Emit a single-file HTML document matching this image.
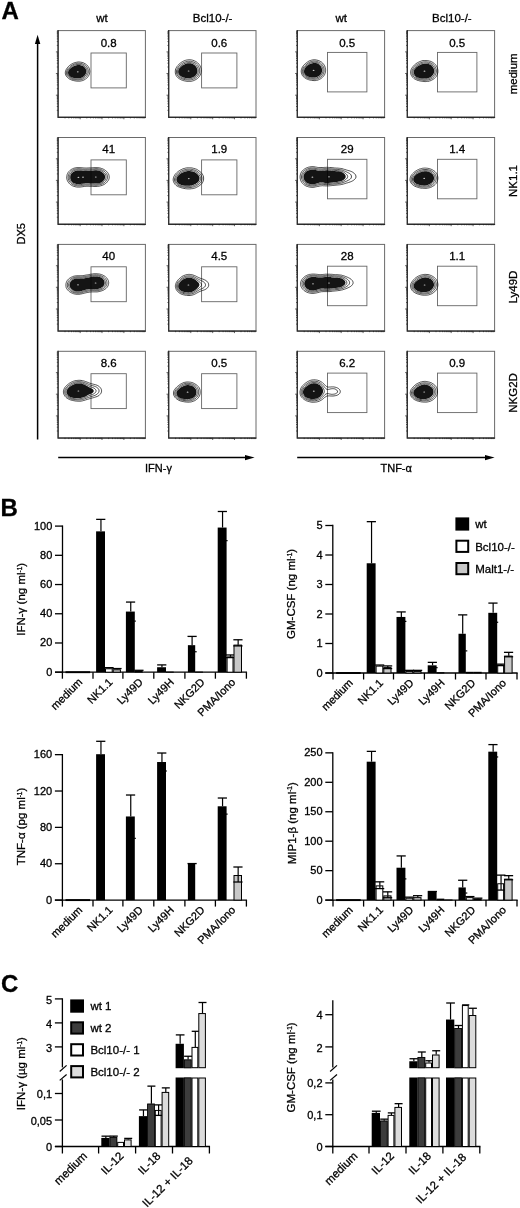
<!DOCTYPE html>
<html>
<head>
<meta charset="utf-8">
<title>Figure</title>
<style>
html,body{margin:0;padding:0;background:#fff;}
body{width:520px;height:1208px;overflow:hidden;font-family:"Liberation Sans",sans-serif;}
svg{display:block;position:absolute;left:0;top:0;filter:grayscale(1);}
svg text{font-family:"Liberation Sans",sans-serif;fill:#000;stroke:#000;stroke-width:0.3px;}
</style>
</head>
<body>
<svg width="520" height="1208" viewBox="0 0 520 1208">
<rect x="0" y="0" width="520" height="1208" fill="#fff"/>
<g id="panelA">
<text x="1.60" y="19.30" font-size="24" text-anchor="start" font-weight="bold">A</text>
<text x="102.05" y="21.70" font-size="11.5" text-anchor="middle" font-weight="normal">wt</text>
<text x="212.65" y="21.70" font-size="11.5" text-anchor="middle" font-weight="normal">Bcl10-/-</text>
<text x="341.25" y="21.70" font-size="11.5" text-anchor="middle" font-weight="normal">wt</text>
<text x="451.85" y="21.70" font-size="11.5" text-anchor="middle" font-weight="normal">Bcl10-/-</text>
<text x="24.80" y="233.70" font-size="11" text-anchor="middle" font-weight="normal" transform="rotate(-90 24.80 233.70)">DX5</text>
<line x1="37.60" y1="439.60" x2="37.60" y2="43.00" stroke="#000" stroke-width="1.5"/>
<path d="M37.6 34.8 L40.3 43.9 L34.9 43.9 Z" fill="#000"/>
<line x1="58.20" y1="457.60" x2="246.00" y2="457.60" stroke="#000" stroke-width="1.5"/>
<path d="M254.6 457.6 L245 454.9 L245 460.3 Z" fill="#000"/>
<line x1="297.20" y1="457.60" x2="486.00" y2="457.60" stroke="#000" stroke-width="1.5"/>
<path d="M494.6 457.6 L485 454.9 L485 460.3 Z" fill="#000"/>
<text x="158.50" y="472.00" font-size="11" text-anchor="middle" font-weight="normal">IFN-γ</text>
<text x="396.20" y="471.90" font-size="11" text-anchor="middle" font-weight="normal">TNF-α</text>
<text x="517.30" y="73.80" font-size="11.5" text-anchor="middle" font-weight="normal" transform="rotate(-90 517.30 73.80)">medium</text>
<text x="517.30" y="181.00" font-size="11.5" text-anchor="middle" font-weight="normal" transform="rotate(-90 517.30 181.00)">NK1.1</text>
<text x="517.30" y="287.00" font-size="11.5" text-anchor="middle" font-weight="normal" transform="rotate(-90 517.30 287.00)">Ly49D</text>
<text x="517.30" y="392.90" font-size="11.5" text-anchor="middle" font-weight="normal" transform="rotate(-90 517.30 392.90)">NKG2D</text>
<rect x="58.10" y="30.60" width="87.30" height="86.50" fill="none" stroke="#6a6a6a" stroke-width="1.0"/>
<path d="M58.10 30.10V117.40H145.90" fill="none" stroke="#2c2c2c" stroke-width="1.25"/>
<path d="M56.8 110.3H58.1M65.0 117.1V118.4M56.8 106.5H58.1M68.8 117.1V118.4M56.8 103.8H58.1M71.5 117.1V118.4M56.8 101.7H58.1M73.7 117.1V118.4M56.8 100.0H58.1M75.4 117.1V118.4M56.8 98.5H58.1M76.8 117.1V118.4M56.8 97.3H58.1M78.1 117.1V118.4M56.8 96.2H58.1M79.2 117.1V118.4M55.9 95.2H58.1M80.2 117.1V119.3M56.8 88.7H58.1M86.8 117.1V118.4M56.8 84.9H58.1M90.6 117.1V118.4M56.8 82.2H58.1M93.4 117.1V118.4M56.8 80.1H58.1M95.5 117.1V118.4M56.8 78.3H58.1M97.2 117.1V118.4M56.8 76.9H58.1M98.7 117.1V118.4M56.8 75.6H58.1M99.9 117.1V118.4M56.8 74.5H58.1M101.1 117.1V118.4M55.9 73.5H58.1M102.0 117.1V119.3M56.8 67.0H58.1M108.6 117.1V118.4M56.8 63.2H58.1M112.5 117.1V118.4M56.8 60.5H58.1M115.2 117.1V118.4M56.8 58.4H58.1M117.3 117.1V118.4M56.8 56.7H58.1M119.0 117.1V118.4M56.8 55.3H58.1M120.5 117.1V118.4M56.8 54.0H58.1M121.8 117.1V118.4M56.8 52.9H58.1M122.9 117.1V118.4M55.9 51.9H58.1M123.9 117.1V119.3M56.8 45.4H58.1M130.4 117.1V118.4M56.8 41.6H58.1M134.3 117.1V118.4M56.8 38.9H58.1M137.0 117.1V118.4M56.8 36.8H58.1M139.1 117.1V118.4M56.8 35.1H58.1M140.9 117.1V118.4M56.8 33.6H58.1M142.3 117.1V118.4M56.8 32.4H58.1M143.6 117.1V118.4M56.8 31.3H58.1M144.7 117.1V118.4" stroke="#222" stroke-width="0.7" fill="none"/>
<rect x="91.00" y="53.00" width="35.30" height="34.90" fill="none" stroke="#666" stroke-width="0.9"/>
<text x="108.65" y="46.50" font-size="11.5" text-anchor="middle" font-weight="normal">0.8</text>
<rect x="168.70" y="30.60" width="87.30" height="86.50" fill="none" stroke="#6a6a6a" stroke-width="1.0"/>
<path d="M168.70 30.10V117.40H256.50" fill="none" stroke="#2c2c2c" stroke-width="1.25"/>
<path d="M167.4 110.3H168.7M175.6 117.1V118.4M167.4 106.5H168.7M179.4 117.1V118.4M167.4 103.8H168.7M182.1 117.1V118.4M167.4 101.7H168.7M184.3 117.1V118.4M167.4 100.0H168.7M186.0 117.1V118.4M167.4 98.5H168.7M187.4 117.1V118.4M167.4 97.3H168.7M188.7 117.1V118.4M167.4 96.2H168.7M189.8 117.1V118.4M166.5 95.2H168.7M190.8 117.1V119.3M167.4 88.7H168.7M197.4 117.1V118.4M167.4 84.9H168.7M201.2 117.1V118.4M167.4 82.2H168.7M204.0 117.1V118.4M167.4 80.1H168.7M206.1 117.1V118.4M167.4 78.3H168.7M207.8 117.1V118.4M167.4 76.9H168.7M209.3 117.1V118.4M167.4 75.6H168.7M210.5 117.1V118.4M167.4 74.5H168.7M211.7 117.1V118.4M166.5 73.5H168.7M212.7 117.1V119.3M167.4 67.0H168.7M219.2 117.1V118.4M167.4 63.2H168.7M223.1 117.1V118.4M167.4 60.5H168.7M225.8 117.1V118.4M167.4 58.4H168.7M227.9 117.1V118.4M167.4 56.7H168.7M229.6 117.1V118.4M167.4 55.3H168.7M231.1 117.1V118.4M167.4 54.0H168.7M232.4 117.1V118.4M167.4 52.9H168.7M233.5 117.1V118.4M166.5 51.9H168.7M234.5 117.1V119.3M167.4 45.4H168.7M241.0 117.1V118.4M167.4 41.6H168.7M244.9 117.1V118.4M167.4 38.9H168.7M247.6 117.1V118.4M167.4 36.8H168.7M249.7 117.1V118.4M167.4 35.1H168.7M251.5 117.1V118.4M167.4 33.6H168.7M252.9 117.1V118.4M167.4 32.4H168.7M254.2 117.1V118.4M167.4 31.3H168.7M255.3 117.1V118.4" stroke="#222" stroke-width="0.7" fill="none"/>
<rect x="201.60" y="53.00" width="35.30" height="34.90" fill="none" stroke="#666" stroke-width="0.9"/>
<text x="219.25" y="46.50" font-size="11.5" text-anchor="middle" font-weight="normal">0.6</text>
<rect x="297.30" y="30.60" width="87.30" height="86.50" fill="none" stroke="#6a6a6a" stroke-width="1.0"/>
<path d="M297.30 30.10V117.40H385.10" fill="none" stroke="#2c2c2c" stroke-width="1.25"/>
<path d="M296.0 110.3H297.3M304.2 117.1V118.4M296.0 106.5H297.3M308.0 117.1V118.4M296.0 103.8H297.3M310.7 117.1V118.4M296.0 101.7H297.3M312.9 117.1V118.4M296.0 100.0H297.3M314.6 117.1V118.4M296.0 98.5H297.3M316.0 117.1V118.4M296.0 97.3H297.3M317.3 117.1V118.4M296.0 96.2H297.3M318.4 117.1V118.4M295.1 95.2H297.3M319.4 117.1V119.3M296.0 88.7H297.3M326.0 117.1V118.4M296.0 84.9H297.3M329.8 117.1V118.4M296.0 82.2H297.3M332.6 117.1V118.4M296.0 80.1H297.3M334.7 117.1V118.4M296.0 78.3H297.3M336.4 117.1V118.4M296.0 76.9H297.3M337.9 117.1V118.4M296.0 75.6H297.3M339.1 117.1V118.4M296.0 74.5H297.3M340.3 117.1V118.4M295.1 73.5H297.3M341.2 117.1V119.3M296.0 67.0H297.3M347.8 117.1V118.4M296.0 63.2H297.3M351.7 117.1V118.4M296.0 60.5H297.3M354.4 117.1V118.4M296.0 58.4H297.3M356.5 117.1V118.4M296.0 56.7H297.3M358.2 117.1V118.4M296.0 55.3H297.3M359.7 117.1V118.4M296.0 54.0H297.3M361.0 117.1V118.4M296.0 52.9H297.3M362.1 117.1V118.4M295.1 51.9H297.3M363.1 117.1V119.3M296.0 45.4H297.3M369.6 117.1V118.4M296.0 41.6H297.3M373.5 117.1V118.4M296.0 38.9H297.3M376.2 117.1V118.4M296.0 36.8H297.3M378.3 117.1V118.4M296.0 35.1H297.3M380.1 117.1V118.4M296.0 33.6H297.3M381.5 117.1V118.4M296.0 32.4H297.3M382.8 117.1V118.4M296.0 31.3H297.3M383.9 117.1V118.4" stroke="#222" stroke-width="0.7" fill="none"/>
<rect x="327.50" y="52.40" width="39.40" height="39.50" fill="none" stroke="#666" stroke-width="0.9"/>
<text x="347.20" y="46.50" font-size="11.5" text-anchor="middle" font-weight="normal">0.5</text>
<rect x="407.30" y="30.60" width="87.30" height="86.50" fill="none" stroke="#6a6a6a" stroke-width="1.0"/>
<path d="M407.30 30.10V117.40H495.10" fill="none" stroke="#2c2c2c" stroke-width="1.25"/>
<path d="M406.0 110.3H407.3M414.2 117.1V118.4M406.0 106.5H407.3M418.0 117.1V118.4M406.0 103.8H407.3M420.7 117.1V118.4M406.0 101.7H407.3M422.9 117.1V118.4M406.0 100.0H407.3M424.6 117.1V118.4M406.0 98.5H407.3M426.0 117.1V118.4M406.0 97.3H407.3M427.3 117.1V118.4M406.0 96.2H407.3M428.4 117.1V118.4M405.1 95.2H407.3M429.4 117.1V119.3M406.0 88.7H407.3M436.0 117.1V118.4M406.0 84.9H407.3M439.8 117.1V118.4M406.0 82.2H407.3M442.6 117.1V118.4M406.0 80.1H407.3M444.7 117.1V118.4M406.0 78.3H407.3M446.4 117.1V118.4M406.0 76.9H407.3M447.9 117.1V118.4M406.0 75.6H407.3M449.1 117.1V118.4M406.0 74.5H407.3M450.3 117.1V118.4M405.1 73.5H407.3M451.2 117.1V119.3M406.0 67.0H407.3M457.8 117.1V118.4M406.0 63.2H407.3M461.7 117.1V118.4M406.0 60.5H407.3M464.4 117.1V118.4M406.0 58.4H407.3M466.5 117.1V118.4M406.0 56.7H407.3M468.2 117.1V118.4M406.0 55.3H407.3M469.7 117.1V118.4M406.0 54.0H407.3M471.0 117.1V118.4M406.0 52.9H407.3M472.1 117.1V118.4M405.1 51.9H407.3M473.1 117.1V119.3M406.0 45.4H407.3M479.6 117.1V118.4M406.0 41.6H407.3M483.5 117.1V118.4M406.0 38.9H407.3M486.2 117.1V118.4M406.0 36.8H407.3M488.3 117.1V118.4M406.0 35.1H407.3M490.1 117.1V118.4M406.0 33.6H407.3M491.5 117.1V118.4M406.0 32.4H407.3M492.8 117.1V118.4M406.0 31.3H407.3M493.9 117.1V118.4" stroke="#222" stroke-width="0.7" fill="none"/>
<rect x="437.50" y="52.40" width="39.40" height="39.50" fill="none" stroke="#666" stroke-width="0.9"/>
<text x="457.20" y="46.50" font-size="11.5" text-anchor="middle" font-weight="normal">0.5</text>
<rect x="58.10" y="137.50" width="87.30" height="86.50" fill="none" stroke="#6a6a6a" stroke-width="1.0"/>
<path d="M58.10 137.00V224.30H145.90" fill="none" stroke="#2c2c2c" stroke-width="1.25"/>
<path d="M56.8 217.2H58.1M65.0 224.0V225.3M56.8 213.4H58.1M68.8 224.0V225.3M56.8 210.7H58.1M71.5 224.0V225.3M56.8 208.6H58.1M73.7 224.0V225.3M56.8 206.9H58.1M75.4 224.0V225.3M56.8 205.4H58.1M76.8 224.0V225.3M56.8 204.2H58.1M78.1 224.0V225.3M56.8 203.1H58.1M79.2 224.0V225.3M55.9 202.1H58.1M80.2 224.0V226.2M56.8 195.6H58.1M86.8 224.0V225.3M56.8 191.8H58.1M90.6 224.0V225.3M56.8 189.1H58.1M93.4 224.0V225.3M56.8 187.0H58.1M95.5 224.0V225.3M56.8 185.2H58.1M97.2 224.0V225.3M56.8 183.8H58.1M98.7 224.0V225.3M56.8 182.5H58.1M99.9 224.0V225.3M56.8 181.4H58.1M101.1 224.0V225.3M55.9 180.4H58.1M102.0 224.0V226.2M56.8 173.9H58.1M108.6 224.0V225.3M56.8 170.1H58.1M112.5 224.0V225.3M56.8 167.4H58.1M115.2 224.0V225.3M56.8 165.3H58.1M117.3 224.0V225.3M56.8 163.6H58.1M119.0 224.0V225.3M56.8 162.2H58.1M120.5 224.0V225.3M56.8 160.9H58.1M121.8 224.0V225.3M56.8 159.8H58.1M122.9 224.0V225.3M55.9 158.8H58.1M123.9 224.0V226.2M56.8 152.3H58.1M130.4 224.0V225.3M56.8 148.5H58.1M134.3 224.0V225.3M56.8 145.8H58.1M137.0 224.0V225.3M56.8 143.7H58.1M139.1 224.0V225.3M56.8 142.0H58.1M140.9 224.0V225.3M56.8 140.5H58.1M142.3 224.0V225.3M56.8 139.3H58.1M143.6 224.0V225.3M56.8 138.2H58.1M144.7 224.0V225.3" stroke="#222" stroke-width="0.7" fill="none"/>
<rect x="91.00" y="159.90" width="35.30" height="34.90" fill="none" stroke="#666" stroke-width="0.9"/>
<text x="108.65" y="153.40" font-size="11.5" text-anchor="middle" font-weight="normal">41</text>
<rect x="168.70" y="137.50" width="87.30" height="86.50" fill="none" stroke="#6a6a6a" stroke-width="1.0"/>
<path d="M168.70 137.00V224.30H256.50" fill="none" stroke="#2c2c2c" stroke-width="1.25"/>
<path d="M167.4 217.2H168.7M175.6 224.0V225.3M167.4 213.4H168.7M179.4 224.0V225.3M167.4 210.7H168.7M182.1 224.0V225.3M167.4 208.6H168.7M184.3 224.0V225.3M167.4 206.9H168.7M186.0 224.0V225.3M167.4 205.4H168.7M187.4 224.0V225.3M167.4 204.2H168.7M188.7 224.0V225.3M167.4 203.1H168.7M189.8 224.0V225.3M166.5 202.1H168.7M190.8 224.0V226.2M167.4 195.6H168.7M197.4 224.0V225.3M167.4 191.8H168.7M201.2 224.0V225.3M167.4 189.1H168.7M204.0 224.0V225.3M167.4 187.0H168.7M206.1 224.0V225.3M167.4 185.2H168.7M207.8 224.0V225.3M167.4 183.8H168.7M209.3 224.0V225.3M167.4 182.5H168.7M210.5 224.0V225.3M167.4 181.4H168.7M211.7 224.0V225.3M166.5 180.4H168.7M212.7 224.0V226.2M167.4 173.9H168.7M219.2 224.0V225.3M167.4 170.1H168.7M223.1 224.0V225.3M167.4 167.4H168.7M225.8 224.0V225.3M167.4 165.3H168.7M227.9 224.0V225.3M167.4 163.6H168.7M229.6 224.0V225.3M167.4 162.2H168.7M231.1 224.0V225.3M167.4 160.9H168.7M232.4 224.0V225.3M167.4 159.8H168.7M233.5 224.0V225.3M166.5 158.8H168.7M234.5 224.0V226.2M167.4 152.3H168.7M241.0 224.0V225.3M167.4 148.5H168.7M244.9 224.0V225.3M167.4 145.8H168.7M247.6 224.0V225.3M167.4 143.7H168.7M249.7 224.0V225.3M167.4 142.0H168.7M251.5 224.0V225.3M167.4 140.5H168.7M252.9 224.0V225.3M167.4 139.3H168.7M254.2 224.0V225.3M167.4 138.2H168.7M255.3 224.0V225.3" stroke="#222" stroke-width="0.7" fill="none"/>
<rect x="201.60" y="159.90" width="35.30" height="34.90" fill="none" stroke="#666" stroke-width="0.9"/>
<text x="219.25" y="153.40" font-size="11.5" text-anchor="middle" font-weight="normal">1.9</text>
<rect x="297.30" y="137.50" width="87.30" height="86.50" fill="none" stroke="#6a6a6a" stroke-width="1.0"/>
<path d="M297.30 137.00V224.30H385.10" fill="none" stroke="#2c2c2c" stroke-width="1.25"/>
<path d="M296.0 217.2H297.3M304.2 224.0V225.3M296.0 213.4H297.3M308.0 224.0V225.3M296.0 210.7H297.3M310.7 224.0V225.3M296.0 208.6H297.3M312.9 224.0V225.3M296.0 206.9H297.3M314.6 224.0V225.3M296.0 205.4H297.3M316.0 224.0V225.3M296.0 204.2H297.3M317.3 224.0V225.3M296.0 203.1H297.3M318.4 224.0V225.3M295.1 202.1H297.3M319.4 224.0V226.2M296.0 195.6H297.3M326.0 224.0V225.3M296.0 191.8H297.3M329.8 224.0V225.3M296.0 189.1H297.3M332.6 224.0V225.3M296.0 187.0H297.3M334.7 224.0V225.3M296.0 185.2H297.3M336.4 224.0V225.3M296.0 183.8H297.3M337.9 224.0V225.3M296.0 182.5H297.3M339.1 224.0V225.3M296.0 181.4H297.3M340.3 224.0V225.3M295.1 180.4H297.3M341.2 224.0V226.2M296.0 173.9H297.3M347.8 224.0V225.3M296.0 170.1H297.3M351.7 224.0V225.3M296.0 167.4H297.3M354.4 224.0V225.3M296.0 165.3H297.3M356.5 224.0V225.3M296.0 163.6H297.3M358.2 224.0V225.3M296.0 162.2H297.3M359.7 224.0V225.3M296.0 160.9H297.3M361.0 224.0V225.3M296.0 159.8H297.3M362.1 224.0V225.3M295.1 158.8H297.3M363.1 224.0V226.2M296.0 152.3H297.3M369.6 224.0V225.3M296.0 148.5H297.3M373.5 224.0V225.3M296.0 145.8H297.3M376.2 224.0V225.3M296.0 143.7H297.3M378.3 224.0V225.3M296.0 142.0H297.3M380.1 224.0V225.3M296.0 140.5H297.3M381.5 224.0V225.3M296.0 139.3H297.3M382.8 224.0V225.3M296.0 138.2H297.3M383.9 224.0V225.3" stroke="#222" stroke-width="0.7" fill="none"/>
<rect x="327.50" y="159.30" width="39.40" height="39.50" fill="none" stroke="#666" stroke-width="0.9"/>
<text x="347.20" y="153.40" font-size="11.5" text-anchor="middle" font-weight="normal">29</text>
<rect x="407.30" y="137.50" width="87.30" height="86.50" fill="none" stroke="#6a6a6a" stroke-width="1.0"/>
<path d="M407.30 137.00V224.30H495.10" fill="none" stroke="#2c2c2c" stroke-width="1.25"/>
<path d="M406.0 217.2H407.3M414.2 224.0V225.3M406.0 213.4H407.3M418.0 224.0V225.3M406.0 210.7H407.3M420.7 224.0V225.3M406.0 208.6H407.3M422.9 224.0V225.3M406.0 206.9H407.3M424.6 224.0V225.3M406.0 205.4H407.3M426.0 224.0V225.3M406.0 204.2H407.3M427.3 224.0V225.3M406.0 203.1H407.3M428.4 224.0V225.3M405.1 202.1H407.3M429.4 224.0V226.2M406.0 195.6H407.3M436.0 224.0V225.3M406.0 191.8H407.3M439.8 224.0V225.3M406.0 189.1H407.3M442.6 224.0V225.3M406.0 187.0H407.3M444.7 224.0V225.3M406.0 185.2H407.3M446.4 224.0V225.3M406.0 183.8H407.3M447.9 224.0V225.3M406.0 182.5H407.3M449.1 224.0V225.3M406.0 181.4H407.3M450.3 224.0V225.3M405.1 180.4H407.3M451.2 224.0V226.2M406.0 173.9H407.3M457.8 224.0V225.3M406.0 170.1H407.3M461.7 224.0V225.3M406.0 167.4H407.3M464.4 224.0V225.3M406.0 165.3H407.3M466.5 224.0V225.3M406.0 163.6H407.3M468.2 224.0V225.3M406.0 162.2H407.3M469.7 224.0V225.3M406.0 160.9H407.3M471.0 224.0V225.3M406.0 159.8H407.3M472.1 224.0V225.3M405.1 158.8H407.3M473.1 224.0V226.2M406.0 152.3H407.3M479.6 224.0V225.3M406.0 148.5H407.3M483.5 224.0V225.3M406.0 145.8H407.3M486.2 224.0V225.3M406.0 143.7H407.3M488.3 224.0V225.3M406.0 142.0H407.3M490.1 224.0V225.3M406.0 140.5H407.3M491.5 224.0V225.3M406.0 139.3H407.3M492.8 224.0V225.3M406.0 138.2H407.3M493.9 224.0V225.3" stroke="#222" stroke-width="0.7" fill="none"/>
<rect x="437.50" y="159.30" width="39.40" height="39.50" fill="none" stroke="#666" stroke-width="0.9"/>
<text x="457.20" y="153.40" font-size="11.5" text-anchor="middle" font-weight="normal">1.4</text>
<rect x="58.10" y="244.40" width="87.30" height="86.50" fill="none" stroke="#6a6a6a" stroke-width="1.0"/>
<path d="M58.10 243.90V331.20H145.90" fill="none" stroke="#2c2c2c" stroke-width="1.25"/>
<path d="M56.8 324.1H58.1M65.0 330.9V332.2M56.8 320.3H58.1M68.8 330.9V332.2M56.8 317.6H58.1M71.5 330.9V332.2M56.8 315.5H58.1M73.7 330.9V332.2M56.8 313.8H58.1M75.4 330.9V332.2M56.8 312.3H58.1M76.8 330.9V332.2M56.8 311.1H58.1M78.1 330.9V332.2M56.8 310.0H58.1M79.2 330.9V332.2M55.9 309.0H58.1M80.2 330.9V333.1M56.8 302.5H58.1M86.8 330.9V332.2M56.8 298.7H58.1M90.6 330.9V332.2M56.8 296.0H58.1M93.4 330.9V332.2M56.8 293.9H58.1M95.5 330.9V332.2M56.8 292.1H58.1M97.2 330.9V332.2M56.8 290.7H58.1M98.7 330.9V332.2M56.8 289.4H58.1M99.9 330.9V332.2M56.8 288.3H58.1M101.1 330.9V332.2M55.9 287.3H58.1M102.0 330.9V333.1M56.8 280.8H58.1M108.6 330.9V332.2M56.8 277.0H58.1M112.5 330.9V332.2M56.8 274.3H58.1M115.2 330.9V332.2M56.8 272.2H58.1M117.3 330.9V332.2M56.8 270.5H58.1M119.0 330.9V332.2M56.8 269.1H58.1M120.5 330.9V332.2M56.8 267.8H58.1M121.8 330.9V332.2M56.8 266.7H58.1M122.9 330.9V332.2M55.9 265.7H58.1M123.9 330.9V333.1M56.8 259.2H58.1M130.4 330.9V332.2M56.8 255.4H58.1M134.3 330.9V332.2M56.8 252.7H58.1M137.0 330.9V332.2M56.8 250.6H58.1M139.1 330.9V332.2M56.8 248.9H58.1M140.9 330.9V332.2M56.8 247.4H58.1M142.3 330.9V332.2M56.8 246.2H58.1M143.6 330.9V332.2M56.8 245.1H58.1M144.7 330.9V332.2" stroke="#222" stroke-width="0.7" fill="none"/>
<rect x="91.00" y="266.80" width="35.30" height="34.90" fill="none" stroke="#666" stroke-width="0.9"/>
<text x="108.65" y="260.30" font-size="11.5" text-anchor="middle" font-weight="normal">40</text>
<rect x="168.70" y="244.40" width="87.30" height="86.50" fill="none" stroke="#6a6a6a" stroke-width="1.0"/>
<path d="M168.70 243.90V331.20H256.50" fill="none" stroke="#2c2c2c" stroke-width="1.25"/>
<path d="M167.4 324.1H168.7M175.6 330.9V332.2M167.4 320.3H168.7M179.4 330.9V332.2M167.4 317.6H168.7M182.1 330.9V332.2M167.4 315.5H168.7M184.3 330.9V332.2M167.4 313.8H168.7M186.0 330.9V332.2M167.4 312.3H168.7M187.4 330.9V332.2M167.4 311.1H168.7M188.7 330.9V332.2M167.4 310.0H168.7M189.8 330.9V332.2M166.5 309.0H168.7M190.8 330.9V333.1M167.4 302.5H168.7M197.4 330.9V332.2M167.4 298.7H168.7M201.2 330.9V332.2M167.4 296.0H168.7M204.0 330.9V332.2M167.4 293.9H168.7M206.1 330.9V332.2M167.4 292.1H168.7M207.8 330.9V332.2M167.4 290.7H168.7M209.3 330.9V332.2M167.4 289.4H168.7M210.5 330.9V332.2M167.4 288.3H168.7M211.7 330.9V332.2M166.5 287.3H168.7M212.7 330.9V333.1M167.4 280.8H168.7M219.2 330.9V332.2M167.4 277.0H168.7M223.1 330.9V332.2M167.4 274.3H168.7M225.8 330.9V332.2M167.4 272.2H168.7M227.9 330.9V332.2M167.4 270.5H168.7M229.6 330.9V332.2M167.4 269.1H168.7M231.1 330.9V332.2M167.4 267.8H168.7M232.4 330.9V332.2M167.4 266.7H168.7M233.5 330.9V332.2M166.5 265.7H168.7M234.5 330.9V333.1M167.4 259.2H168.7M241.0 330.9V332.2M167.4 255.4H168.7M244.9 330.9V332.2M167.4 252.7H168.7M247.6 330.9V332.2M167.4 250.6H168.7M249.7 330.9V332.2M167.4 248.9H168.7M251.5 330.9V332.2M167.4 247.4H168.7M252.9 330.9V332.2M167.4 246.2H168.7M254.2 330.9V332.2M167.4 245.1H168.7M255.3 330.9V332.2" stroke="#222" stroke-width="0.7" fill="none"/>
<rect x="201.60" y="266.80" width="35.30" height="34.90" fill="none" stroke="#666" stroke-width="0.9"/>
<text x="219.25" y="260.30" font-size="11.5" text-anchor="middle" font-weight="normal">4.5</text>
<rect x="297.30" y="244.40" width="87.30" height="86.50" fill="none" stroke="#6a6a6a" stroke-width="1.0"/>
<path d="M297.30 243.90V331.20H385.10" fill="none" stroke="#2c2c2c" stroke-width="1.25"/>
<path d="M296.0 324.1H297.3M304.2 330.9V332.2M296.0 320.3H297.3M308.0 330.9V332.2M296.0 317.6H297.3M310.7 330.9V332.2M296.0 315.5H297.3M312.9 330.9V332.2M296.0 313.8H297.3M314.6 330.9V332.2M296.0 312.3H297.3M316.0 330.9V332.2M296.0 311.1H297.3M317.3 330.9V332.2M296.0 310.0H297.3M318.4 330.9V332.2M295.1 309.0H297.3M319.4 330.9V333.1M296.0 302.5H297.3M326.0 330.9V332.2M296.0 298.7H297.3M329.8 330.9V332.2M296.0 296.0H297.3M332.6 330.9V332.2M296.0 293.9H297.3M334.7 330.9V332.2M296.0 292.1H297.3M336.4 330.9V332.2M296.0 290.7H297.3M337.9 330.9V332.2M296.0 289.4H297.3M339.1 330.9V332.2M296.0 288.3H297.3M340.3 330.9V332.2M295.1 287.3H297.3M341.2 330.9V333.1M296.0 280.8H297.3M347.8 330.9V332.2M296.0 277.0H297.3M351.7 330.9V332.2M296.0 274.3H297.3M354.4 330.9V332.2M296.0 272.2H297.3M356.5 330.9V332.2M296.0 270.5H297.3M358.2 330.9V332.2M296.0 269.1H297.3M359.7 330.9V332.2M296.0 267.8H297.3M361.0 330.9V332.2M296.0 266.7H297.3M362.1 330.9V332.2M295.1 265.7H297.3M363.1 330.9V333.1M296.0 259.2H297.3M369.6 330.9V332.2M296.0 255.4H297.3M373.5 330.9V332.2M296.0 252.7H297.3M376.2 330.9V332.2M296.0 250.6H297.3M378.3 330.9V332.2M296.0 248.9H297.3M380.1 330.9V332.2M296.0 247.4H297.3M381.5 330.9V332.2M296.0 246.2H297.3M382.8 330.9V332.2M296.0 245.1H297.3M383.9 330.9V332.2" stroke="#222" stroke-width="0.7" fill="none"/>
<rect x="327.50" y="266.20" width="39.40" height="39.50" fill="none" stroke="#666" stroke-width="0.9"/>
<text x="347.20" y="260.30" font-size="11.5" text-anchor="middle" font-weight="normal">28</text>
<rect x="407.30" y="244.40" width="87.30" height="86.50" fill="none" stroke="#6a6a6a" stroke-width="1.0"/>
<path d="M407.30 243.90V331.20H495.10" fill="none" stroke="#2c2c2c" stroke-width="1.25"/>
<path d="M406.0 324.1H407.3M414.2 330.9V332.2M406.0 320.3H407.3M418.0 330.9V332.2M406.0 317.6H407.3M420.7 330.9V332.2M406.0 315.5H407.3M422.9 330.9V332.2M406.0 313.8H407.3M424.6 330.9V332.2M406.0 312.3H407.3M426.0 330.9V332.2M406.0 311.1H407.3M427.3 330.9V332.2M406.0 310.0H407.3M428.4 330.9V332.2M405.1 309.0H407.3M429.4 330.9V333.1M406.0 302.5H407.3M436.0 330.9V332.2M406.0 298.7H407.3M439.8 330.9V332.2M406.0 296.0H407.3M442.6 330.9V332.2M406.0 293.9H407.3M444.7 330.9V332.2M406.0 292.1H407.3M446.4 330.9V332.2M406.0 290.7H407.3M447.9 330.9V332.2M406.0 289.4H407.3M449.1 330.9V332.2M406.0 288.3H407.3M450.3 330.9V332.2M405.1 287.3H407.3M451.2 330.9V333.1M406.0 280.8H407.3M457.8 330.9V332.2M406.0 277.0H407.3M461.7 330.9V332.2M406.0 274.3H407.3M464.4 330.9V332.2M406.0 272.2H407.3M466.5 330.9V332.2M406.0 270.5H407.3M468.2 330.9V332.2M406.0 269.1H407.3M469.7 330.9V332.2M406.0 267.8H407.3M471.0 330.9V332.2M406.0 266.7H407.3M472.1 330.9V332.2M405.1 265.7H407.3M473.1 330.9V333.1M406.0 259.2H407.3M479.6 330.9V332.2M406.0 255.4H407.3M483.5 330.9V332.2M406.0 252.7H407.3M486.2 330.9V332.2M406.0 250.6H407.3M488.3 330.9V332.2M406.0 248.9H407.3M490.1 330.9V332.2M406.0 247.4H407.3M491.5 330.9V332.2M406.0 246.2H407.3M492.8 330.9V332.2M406.0 245.1H407.3M493.9 330.9V332.2" stroke="#222" stroke-width="0.7" fill="none"/>
<rect x="437.50" y="266.20" width="39.40" height="39.50" fill="none" stroke="#666" stroke-width="0.9"/>
<text x="457.20" y="260.30" font-size="11.5" text-anchor="middle" font-weight="normal">1.1</text>
<rect x="58.10" y="351.30" width="87.30" height="86.50" fill="none" stroke="#6a6a6a" stroke-width="1.0"/>
<path d="M58.10 350.80V438.10H145.90" fill="none" stroke="#2c2c2c" stroke-width="1.25"/>
<path d="M56.8 431.0H58.1M65.0 437.8V439.1M56.8 427.2H58.1M68.8 437.8V439.1M56.8 424.5H58.1M71.5 437.8V439.1M56.8 422.4H58.1M73.7 437.8V439.1M56.8 420.7H58.1M75.4 437.8V439.1M56.8 419.2H58.1M76.8 437.8V439.1M56.8 418.0H58.1M78.1 437.8V439.1M56.8 416.9H58.1M79.2 437.8V439.1M55.9 415.9H58.1M80.2 437.8V440.0M56.8 409.4H58.1M86.8 437.8V439.1M56.8 405.6H58.1M90.6 437.8V439.1M56.8 402.9H58.1M93.4 437.8V439.1M56.8 400.8H58.1M95.5 437.8V439.1M56.8 399.0H58.1M97.2 437.8V439.1M56.8 397.6H58.1M98.7 437.8V439.1M56.8 396.3H58.1M99.9 437.8V439.1M56.8 395.2H58.1M101.1 437.8V439.1M55.9 394.2H58.1M102.0 437.8V440.0M56.8 387.7H58.1M108.6 437.8V439.1M56.8 383.9H58.1M112.5 437.8V439.1M56.8 381.2H58.1M115.2 437.8V439.1M56.8 379.1H58.1M117.3 437.8V439.1M56.8 377.4H58.1M119.0 437.8V439.1M56.8 376.0H58.1M120.5 437.8V439.1M56.8 374.7H58.1M121.8 437.8V439.1M56.8 373.6H58.1M122.9 437.8V439.1M55.9 372.6H58.1M123.9 437.8V440.0M56.8 366.1H58.1M130.4 437.8V439.1M56.8 362.3H58.1M134.3 437.8V439.1M56.8 359.6H58.1M137.0 437.8V439.1M56.8 357.5H58.1M139.1 437.8V439.1M56.8 355.8H58.1M140.9 437.8V439.1M56.8 354.3H58.1M142.3 437.8V439.1M56.8 353.1H58.1M143.6 437.8V439.1M56.8 352.0H58.1M144.7 437.8V439.1" stroke="#222" stroke-width="0.7" fill="none"/>
<rect x="91.00" y="373.70" width="35.30" height="34.90" fill="none" stroke="#666" stroke-width="0.9"/>
<text x="108.65" y="367.20" font-size="11.5" text-anchor="middle" font-weight="normal">8.6</text>
<rect x="168.70" y="351.30" width="87.30" height="86.50" fill="none" stroke="#6a6a6a" stroke-width="1.0"/>
<path d="M168.70 350.80V438.10H256.50" fill="none" stroke="#2c2c2c" stroke-width="1.25"/>
<path d="M167.4 431.0H168.7M175.6 437.8V439.1M167.4 427.2H168.7M179.4 437.8V439.1M167.4 424.5H168.7M182.1 437.8V439.1M167.4 422.4H168.7M184.3 437.8V439.1M167.4 420.7H168.7M186.0 437.8V439.1M167.4 419.2H168.7M187.4 437.8V439.1M167.4 418.0H168.7M188.7 437.8V439.1M167.4 416.9H168.7M189.8 437.8V439.1M166.5 415.9H168.7M190.8 437.8V440.0M167.4 409.4H168.7M197.4 437.8V439.1M167.4 405.6H168.7M201.2 437.8V439.1M167.4 402.9H168.7M204.0 437.8V439.1M167.4 400.8H168.7M206.1 437.8V439.1M167.4 399.0H168.7M207.8 437.8V439.1M167.4 397.6H168.7M209.3 437.8V439.1M167.4 396.3H168.7M210.5 437.8V439.1M167.4 395.2H168.7M211.7 437.8V439.1M166.5 394.2H168.7M212.7 437.8V440.0M167.4 387.7H168.7M219.2 437.8V439.1M167.4 383.9H168.7M223.1 437.8V439.1M167.4 381.2H168.7M225.8 437.8V439.1M167.4 379.1H168.7M227.9 437.8V439.1M167.4 377.4H168.7M229.6 437.8V439.1M167.4 376.0H168.7M231.1 437.8V439.1M167.4 374.7H168.7M232.4 437.8V439.1M167.4 373.6H168.7M233.5 437.8V439.1M166.5 372.6H168.7M234.5 437.8V440.0M167.4 366.1H168.7M241.0 437.8V439.1M167.4 362.3H168.7M244.9 437.8V439.1M167.4 359.6H168.7M247.6 437.8V439.1M167.4 357.5H168.7M249.7 437.8V439.1M167.4 355.8H168.7M251.5 437.8V439.1M167.4 354.3H168.7M252.9 437.8V439.1M167.4 353.1H168.7M254.2 437.8V439.1M167.4 352.0H168.7M255.3 437.8V439.1" stroke="#222" stroke-width="0.7" fill="none"/>
<rect x="201.60" y="373.70" width="35.30" height="34.90" fill="none" stroke="#666" stroke-width="0.9"/>
<text x="219.25" y="367.20" font-size="11.5" text-anchor="middle" font-weight="normal">0.5</text>
<rect x="297.30" y="351.30" width="87.30" height="86.50" fill="none" stroke="#6a6a6a" stroke-width="1.0"/>
<path d="M297.30 350.80V438.10H385.10" fill="none" stroke="#2c2c2c" stroke-width="1.25"/>
<path d="M296.0 431.0H297.3M304.2 437.8V439.1M296.0 427.2H297.3M308.0 437.8V439.1M296.0 424.5H297.3M310.7 437.8V439.1M296.0 422.4H297.3M312.9 437.8V439.1M296.0 420.7H297.3M314.6 437.8V439.1M296.0 419.2H297.3M316.0 437.8V439.1M296.0 418.0H297.3M317.3 437.8V439.1M296.0 416.9H297.3M318.4 437.8V439.1M295.1 415.9H297.3M319.4 437.8V440.0M296.0 409.4H297.3M326.0 437.8V439.1M296.0 405.6H297.3M329.8 437.8V439.1M296.0 402.9H297.3M332.6 437.8V439.1M296.0 400.8H297.3M334.7 437.8V439.1M296.0 399.0H297.3M336.4 437.8V439.1M296.0 397.6H297.3M337.9 437.8V439.1M296.0 396.3H297.3M339.1 437.8V439.1M296.0 395.2H297.3M340.3 437.8V439.1M295.1 394.2H297.3M341.2 437.8V440.0M296.0 387.7H297.3M347.8 437.8V439.1M296.0 383.9H297.3M351.7 437.8V439.1M296.0 381.2H297.3M354.4 437.8V439.1M296.0 379.1H297.3M356.5 437.8V439.1M296.0 377.4H297.3M358.2 437.8V439.1M296.0 376.0H297.3M359.7 437.8V439.1M296.0 374.7H297.3M361.0 437.8V439.1M296.0 373.6H297.3M362.1 437.8V439.1M295.1 372.6H297.3M363.1 437.8V440.0M296.0 366.1H297.3M369.6 437.8V439.1M296.0 362.3H297.3M373.5 437.8V439.1M296.0 359.6H297.3M376.2 437.8V439.1M296.0 357.5H297.3M378.3 437.8V439.1M296.0 355.8H297.3M380.1 437.8V439.1M296.0 354.3H297.3M381.5 437.8V439.1M296.0 353.1H297.3M382.8 437.8V439.1M296.0 352.0H297.3M383.9 437.8V439.1" stroke="#222" stroke-width="0.7" fill="none"/>
<rect x="327.50" y="373.10" width="39.40" height="39.50" fill="none" stroke="#666" stroke-width="0.9"/>
<text x="347.20" y="367.20" font-size="11.5" text-anchor="middle" font-weight="normal">6.2</text>
<rect x="407.30" y="351.30" width="87.30" height="86.50" fill="none" stroke="#6a6a6a" stroke-width="1.0"/>
<path d="M407.30 350.80V438.10H495.10" fill="none" stroke="#2c2c2c" stroke-width="1.25"/>
<path d="M406.0 431.0H407.3M414.2 437.8V439.1M406.0 427.2H407.3M418.0 437.8V439.1M406.0 424.5H407.3M420.7 437.8V439.1M406.0 422.4H407.3M422.9 437.8V439.1M406.0 420.7H407.3M424.6 437.8V439.1M406.0 419.2H407.3M426.0 437.8V439.1M406.0 418.0H407.3M427.3 437.8V439.1M406.0 416.9H407.3M428.4 437.8V439.1M405.1 415.9H407.3M429.4 437.8V440.0M406.0 409.4H407.3M436.0 437.8V439.1M406.0 405.6H407.3M439.8 437.8V439.1M406.0 402.9H407.3M442.6 437.8V439.1M406.0 400.8H407.3M444.7 437.8V439.1M406.0 399.0H407.3M446.4 437.8V439.1M406.0 397.6H407.3M447.9 437.8V439.1M406.0 396.3H407.3M449.1 437.8V439.1M406.0 395.2H407.3M450.3 437.8V439.1M405.1 394.2H407.3M451.2 437.8V440.0M406.0 387.7H407.3M457.8 437.8V439.1M406.0 383.9H407.3M461.7 437.8V439.1M406.0 381.2H407.3M464.4 437.8V439.1M406.0 379.1H407.3M466.5 437.8V439.1M406.0 377.4H407.3M468.2 437.8V439.1M406.0 376.0H407.3M469.7 437.8V439.1M406.0 374.7H407.3M471.0 437.8V439.1M406.0 373.6H407.3M472.1 437.8V439.1M405.1 372.6H407.3M473.1 437.8V440.0M406.0 366.1H407.3M479.6 437.8V439.1M406.0 362.3H407.3M483.5 437.8V439.1M406.0 359.6H407.3M486.2 437.8V439.1M406.0 357.5H407.3M488.3 437.8V439.1M406.0 355.8H407.3M490.1 437.8V439.1M406.0 354.3H407.3M491.5 437.8V439.1M406.0 353.1H407.3M492.8 437.8V439.1M406.0 352.0H407.3M493.9 437.8V439.1" stroke="#222" stroke-width="0.7" fill="none"/>
<rect x="437.50" y="373.10" width="39.40" height="39.50" fill="none" stroke="#666" stroke-width="0.9"/>
<text x="457.20" y="367.20" font-size="11.5" text-anchor="middle" font-weight="normal">0.9</text>
<path d="M76.5 65.2 77.5 65.1 78.6 65 79.7 65.1 80.6 65.2 81.3 65.4 82.2 65.7 83 66.1 83.6 66.5 84.1 66.9 84.7 67.4 85.2 68.1 85.6 68.8 85.9 69.3 86.2 70.3 86.3 71.3 86.2 72.3 85.9 73.4 85.7 73.9 85.2 74.7 84.7 75.4 84.2 75.9 83.6 76.4 83 76.9 82.5 77.2 81.9 77.5 80.8 77.9 80.2 78 79.1 78.2 78 78.3 76.9 78.3 75.8 78.3 74.7 78.1 73.8 77.9 73.1 77.8 72.1 77.4 71.4 77.2 70.8 76.9 70.1 76.4 69.5 75.9 69 75.4 68.6 74.9 68.2 73.9 68.1 73.4 68 72.3 68.1 71.8 68.5 70.8 68.7 70.3 69.2 69.6 69.7 69 70.3 68.4 70.8 68 71.4 67.5 72 67.2 72.6 66.7 73.6 66.2 74.2 66 74.7 65.7 75.8 65.4 76.5 65.2Z" fill="#000" fill-opacity="0.92" stroke="none"/>
<path d="M77 62.2 78 62 79.1 62 80.2 62.1 80.8 62.2 81.9 62.4 82.9 62.7 83.6 62.9 84.1 63.2 85 63.7 85.8 64.2 86.3 64.6 86.9 65.1 87.4 65.6 88 66.2 88.4 66.7 88.7 67.3 89.1 68.1 89.4 68.8 89.6 69.8 89.7 70.3 89.8 71.3 89.7 72.3 89.6 72.9 89.4 73.9 89.1 74.8 88.8 75.4 88.5 75.9 88 76.8 87.4 77.4 86.9 77.9 86.3 78.4 85.8 78.9 85.2 79.3 84.7 79.6 83.9 80 83 80.4 82.5 80.6 81.3 80.9 80.8 81 79.7 81.2 78.6 81.2 77.5 81.2 76.4 81.1 75.8 81 74.7 80.8 73.6 80.6 73.1 80.4 72 80.1 71.4 79.9 70.4 79.5 69.7 79.2 69.2 78.8 68.6 78.4 67.9 77.9 67.4 77.4 66.9 76.9 66.4 76.3 65.9 75.4 65.7 74.9 65.4 73.9 65.3 72.9 65.3 72.8 65.4 71.8 65.6 70.8 65.9 70.2 66.3 69.3 66.6 68.8 67 68.2 67.5 67.5 68.1 66.9 68.6 66.3 69.2 65.8 69.7 65.3 70.3 64.9 70.8 64.5 71.4 64.2 72.3 63.7 73.1 63.3 73.6 63.1 74.7 62.7 75.3 62.5 76.4 62.3 77 62.2ZM75.6 63.7 76.4 63.5 77.5 63.3 78.6 63.3 79.7 63.3 80.8 63.4 81.9 63.7 82.5 63.9 83.2 64.2 84.1 64.6 84.7 65 85.2 65.4 85.8 65.9 86.3 66.4 86.9 67.1 87.3 67.8 87.6 68.3 88 69.3 88.1 69.8 88.3 70.8 88.3 71.8 88.2 72.9 88 73.5 87.7 74.4 87.4 74.9 86.9 75.8 86.4 76.4 85.9 76.9 85.4 77.4 84.7 77.9 84.1 78.4 83.6 78.7 83 79 81.9 79.4 81.3 79.6 80.2 79.8 79.1 79.9 78 80 76.9 79.9 75.8 79.8 74.7 79.7 73.8 79.5 73.1 79.3 72 79 71.4 78.8 70.7 78.4 69.8 77.9 69.2 77.6 68.6 77.1 68.1 76.6 67.5 76 67.1 75.4 66.9 74.9 66.5 73.9 66.4 72.9 66.5 71.8 66.8 70.8 67 70.3 67.5 69.4 67.9 68.8 68.3 68.3 68.8 67.8 69.3 67.3 69.9 66.7 70.5 66.2 71.2 65.7 72 65.3 72.5 64.9 73.1 64.6 74.1 64.2 74.7 63.9 75.6 63.7ZM75.9 64.7 76.9 64.5 78 64.4 79.1 64.4 80.2 64.5 81.3 64.7 81.9 64.9 82.7 65.2 83.6 65.7 84.1 66 84.7 66.5 85.2 67 85.8 67.7 86.2 68.3 86.5 68.8 86.8 69.8 86.9 70.3 87 71.3 87 72.3 86.9 72.9 86.5 73.9 86.3 74.4 85.8 75.2 85.2 75.9 84.7 76.4 84.1 76.9 83.6 77.3 83 77.7 82.5 77.9 81.3 78.4 80.8 78.6 79.7 78.8 78.6 78.9 77.5 78.9 76.4 78.9 75.3 78.8 74.2 78.6 73.6 78.4 72.5 78.2 71.9 77.9 70.8 77.5 70.3 77.2 69.7 76.8 69.2 76.4 68.6 75.8 68.1 75.1 67.7 74.4 67.5 73.7 67.4 72.9 67.5 71.8 67.6 71.3 68.1 70.3 68.4 69.8 68.7 69.3 69.2 68.8 69.7 68.2 70.3 67.7 70.8 67.2 71.5 66.7 72.3 66.2 73.1 65.8 73.6 65.5 74.3 65.2 75.3 64.9 75.9 64.7Z" fill="none" stroke="#000" stroke-width="0.7"/>
<path d="M187.7 63.3 188.4 63.3 189.5 63.2 190.6 63.3 191.2 63.4 192.3 63.8 192.8 64 193.6 64.4 194.4 64.9 195 65.4 195.5 65.9 195.9 66.4 196.3 66.9 196.7 67.8 197 68.4 197.2 69.5 197.3 70 197.4 71 197.3 72 197.2 72.5 196.9 73.5 196.6 74 196.2 74.8 195.6 75.4 195.1 76 194.5 76.4 194 76.7 193.3 77.1 192.3 77.5 191.7 77.7 190.6 77.9 189.5 78.1 189 78.1 187.9 78.1 187.1 78.1 186.2 78 185.1 77.9 184 77.6 183.5 77.5 182.4 77.1 181.8 76.8 181.2 76.5 180.5 76.1 179.9 75.6 179.4 75.1 179 74.5 178.5 73.5 178.3 73 178.2 72 178.2 71 178.5 70 178.7 69.5 179 68.8 179.6 68 180.1 67.4 180.6 66.9 181.2 66.4 181.8 65.9 182.3 65.6 182.9 65.2 183.5 64.9 184.5 64.4 185.1 64.1 185.7 63.8 186.8 63.5 187.7 63.3Z" fill="#000" fill-opacity="0.92" stroke="none"/>
<path d="M185.7 60.3 186.8 60 187.9 59.9 189 59.8 190.1 59.8 191.2 59.9 192.3 60.1 192.9 60.3 194 60.6 194.5 60.9 195.4 61.3 196.2 61.8 196.7 62.1 197.3 62.6 197.8 63 198.4 63.6 198.9 64.2 199.4 64.9 199.8 65.4 200.1 65.9 200.5 66.9 200.7 67.4 201 68.4 201.1 69.4 201.2 70 201.2 71 201.1 71.9 201 72.5 200.8 73.5 200.6 74 200.1 75.1 199.9 75.6 199.5 76.2 198.9 77 198.4 77.6 197.8 78.1 197.3 78.6 196.7 79 196.2 79.4 195.6 79.7 194.7 80.1 194 80.5 193.4 80.7 192.3 81 191.7 81.2 190.6 81.4 189.5 81.4 188.4 81.4 187.3 81.4 186.2 81.2 185.7 81.1 184.6 80.9 183.7 80.7 182.9 80.4 182.1 80.1 181.2 79.8 180.7 79.5 179.9 79.1 179.1 78.6 178.5 78.2 177.9 77.8 177.4 77.2 176.8 76.6 176.5 76.1 176.2 75.6 175.7 74.5 175.6 74 175.3 73 175.3 72 175.3 71 175.4 70 175.7 68.9 175.9 68.4 176.3 67.7 176.8 66.9 177.1 66.4 177.5 65.9 177.9 65.4 178.5 64.8 179 64.2 179.6 63.7 180.1 63.3 180.7 62.8 181.4 62.3 182.2 61.8 182.9 61.4 183.5 61.1 184.2 60.8 185.1 60.4 185.7 60.3ZM188.3 61.3 189 61.3 190.1 61.3 190.6 61.3 191.7 61.5 192.8 61.8 193.4 62 194.2 62.3 195.1 62.8 195.6 63.1 196.2 63.5 196.7 64 197.3 64.6 197.8 65.3 198.3 65.9 198.6 66.4 198.9 67.2 199.2 67.9 199.5 68.9 199.5 69.5 199.6 70.5 199.6 71.5 199.5 72.2 199.3 73 198.9 74 198.7 74.5 198.4 75.2 197.8 76 197.3 76.6 196.8 77.1 196.2 77.6 195.6 78 195.1 78.4 194.5 78.7 193.5 79.1 192.8 79.4 192 79.6 191.2 79.8 190.1 80 189 80 187.9 80 186.8 79.9 185.7 79.8 184.9 79.6 184 79.4 183 79.1 182.3 78.9 181.6 78.6 180.7 78.2 180.1 77.9 179.6 77.5 179 77.1 178.4 76.6 177.9 76 177.4 75.2 177 74.5 176.8 74 176.6 73 176.5 72 176.5 71 176.7 70 176.9 69.5 177.3 68.4 177.6 67.9 177.9 67.4 178.5 66.7 179 66 179.6 65.5 180.1 65 180.7 64.5 181.2 64.1 181.8 63.7 182.4 63.3 183.2 62.8 184 62.4 184.6 62.2 185.6 61.8 186.2 61.6 187.3 61.4 188.3 61.3ZM186.6 62.8 187.3 62.7 188.4 62.5 189.5 62.5 190.6 62.6 191.7 62.8 192.3 63 193.3 63.3 194 63.7 194.5 64 195.1 64.4 195.7 64.9 196.2 65.4 196.7 66.1 197.2 66.9 197.5 67.4 197.8 68.3 198 68.9 198.2 70 198.2 71 198.1 72 197.9 73 197.7 73.5 197.3 74.5 196.9 75.1 196.5 75.6 196.1 76.1 195.5 76.6 194.8 77.1 194 77.6 193.4 77.8 192.7 78.1 191.7 78.4 190.8 78.6 190.1 78.7 189 78.8 187.9 78.8 186.8 78.8 185.7 78.6 185.1 78.5 184 78.3 183.4 78.1 182.3 77.8 181.8 77.5 180.9 77.1 180.1 76.6 179.6 76.2 179 75.7 178.5 75.1 178.2 74.5 177.9 73.9 177.7 73 177.6 72 177.6 71 177.8 70 178 69.5 178.5 68.5 178.9 67.9 179.2 67.4 179.7 66.9 180.2 66.4 180.8 65.9 181.5 65.4 182.2 64.9 182.9 64.4 183.5 64.1 184 63.8 185 63.3 185.7 63.1 186.6 62.8Z" fill="none" stroke="#000" stroke-width="0.7"/>
<path d="M313.2 63 314.1 63 315.2 63 315.8 63.1 316.9 63.3 317.5 63.6 318.5 64.1 319.1 64.5 319.6 64.9 320.2 65.5 320.7 66.1 321 66.6 321.3 67.1 321.7 68.1 321.9 68.7 322.1 69.7 322.1 70.7 322 71.7 321.8 72.3 321.5 73.2 321.2 73.7 320.7 74.4 320.2 75.1 319.6 75.6 319.1 76 318.5 76.3 317.5 76.8 316.9 77 315.8 77.3 315.2 77.4 314.1 77.5 313 77.5 311.9 77.4 310.8 77.3 310.2 77.2 309.1 77 308.5 76.8 307.5 76.4 306.9 76.1 306.3 75.8 305.7 75.3 305.2 74.8 304.7 74.1 304.3 73.2 304.1 72.7 304 71.7 304 70.7 304.2 69.9 304.4 69.2 304.7 68.5 305.3 67.7 305.7 67.1 306.3 66.6 306.8 66.1 307.5 65.6 308 65.2 308.6 64.8 309.1 64.5 309.9 64.1 310.8 63.7 311.4 63.5 312.5 63.2 313.2 63Z" fill="#000" fill-opacity="0.92" stroke="none"/>
<path d="M312.2 60 313 59.9 314.1 59.8 315.2 59.8 316.3 60 316.9 60.1 318 60.4 318.5 60.5 319.6 61 320.2 61.3 320.7 61.6 321.4 62 322 62.5 322.6 63 323 63.6 323.5 64.2 324.1 64.9 324.5 65.6 324.7 66.1 325.1 67.1 325.2 67.6 325.5 68.7 325.6 69.7 325.6 70.7 325.5 71.7 325.3 72.7 325.1 73.2 324.7 74.3 324.5 74.8 324.1 75.4 323.5 76.2 323 76.8 322.5 77.3 321.9 77.8 321.3 78.3 320.7 78.7 320.2 79 319.6 79.3 318.5 79.8 318 80 316.9 80.3 316.3 80.4 315.2 80.6 314.1 80.6 313 80.5 311.9 80.4 311.4 80.3 310.2 80.1 309.2 79.9 308.6 79.7 307.6 79.3 306.9 79.1 306.4 78.8 305.4 78.3 304.7 77.9 304.2 77.4 303.6 76.9 303.1 76.3 302.6 75.8 302.3 75.3 302 74.6 301.6 73.7 301.4 73 301.3 72.2 301.2 71.2 301.3 70.2 301.4 69.7 301.7 68.7 302 68 302.4 67.1 302.7 66.6 303.1 66.1 303.6 65.4 304.2 64.8 304.7 64.2 305.3 63.7 305.8 63.2 306.4 62.8 306.9 62.4 307.5 62 308.2 61.5 309.1 61 309.7 60.7 310.3 60.5 311.4 60.2 312.2 60ZM311.4 61.5 312.5 61.3 313.6 61.1 314.7 61.1 315.8 61.2 316.9 61.4 317.4 61.6 318.5 62 319.1 62.2 319.7 62.5 320.4 63 321 63.6 321.6 64.1 322 64.6 322.4 65.1 323 65.9 323.3 66.6 323.6 67.1 323.9 68.1 324.1 69.2 324.1 69.7 324.1 70.7 324.1 71.5 323.9 72.2 323.6 73.2 323.4 73.7 323 74.6 322.5 75.3 322.1 75.8 321.7 76.3 321.1 76.8 320.4 77.3 319.6 77.8 319.1 78.1 318.5 78.4 317.4 78.8 316.9 78.9 315.8 79.2 314.7 79.3 313.6 79.3 312.5 79.2 311.4 79.1 310.2 78.9 309.7 78.8 308.6 78.5 308 78.3 306.9 77.9 306.4 77.6 305.8 77.3 305.1 76.8 304.5 76.3 304 75.8 303.6 75.3 303.1 74.3 302.8 73.7 302.5 72.8 302.4 72.2 302.3 71.2 302.5 70.2 302.6 69.7 302.9 68.7 303.1 68.1 303.6 67.3 304.1 66.6 304.5 66.1 305 65.6 305.6 65.1 306.1 64.6 306.8 64.1 307.4 63.6 308 63.1 308.6 62.8 309.1 62.5 310 62 310.8 61.7 311.4 61.5ZM312.1 62.5 313 62.4 314.1 62.3 315.2 62.3 316.3 62.5 316.9 62.6 318 63 318.5 63.3 319.1 63.6 319.7 64.1 320.3 64.6 320.8 65.1 321.3 65.7 321.8 66.5 322.2 67.1 322.4 67.7 322.7 68.7 322.9 69.7 322.9 70.7 322.8 71.7 322.5 72.7 322.3 73.2 321.8 74.1 321.4 74.8 321 75.3 320.5 75.8 319.8 76.3 319.1 76.8 318.5 77.1 318 77.3 316.9 77.7 316.3 77.9 315.2 78.1 314.1 78.2 313 78.2 311.9 78.1 310.8 77.9 310.2 77.8 309.1 77.6 308.2 77.3 307.5 77 306.9 76.8 306.1 76.3 305.4 75.8 304.9 75.3 304.4 74.8 304.1 74.3 303.7 73.2 303.5 72.7 303.4 71.7 303.4 70.7 303.6 69.7 303.8 69.2 304.2 68.3 304.6 67.6 305 67.1 305.4 66.6 305.9 66.1 306.5 65.6 307.2 65.1 307.9 64.6 308.6 64.1 309.1 63.8 309.7 63.4 310.6 63 311.4 62.7 312.1 62.5Z" fill="none" stroke="#000" stroke-width="0.7"/>
<path d="M422.6 64.1 423.6 63.9 424.7 63.7 425.8 63.7 426.9 63.8 428 64 428.6 64.1 429.7 64.6 430.2 64.8 430.8 65.1 431.5 65.6 432.1 66.1 432.6 66.7 433 67.2 433.5 68.1 433.8 68.7 434.1 69.7 434.2 70.2 434.2 71.2 434.1 72.3 434 72.8 433.6 73.8 433.3 74.3 433 74.8 432.4 75.5 431.9 76 431.3 76.5 430.8 76.9 429.9 77.4 429.1 77.7 428.6 77.9 427.4 78.2 426.5 78.4 425.8 78.5 424.7 78.5 423.6 78.5 422.5 78.4 421.9 78.4 420.8 78.3 419.7 78.1 418.8 77.9 418.1 77.6 417.3 77.4 416.4 76.9 415.8 76.5 415.3 76 414.7 75.4 414.4 74.8 414.1 74.3 413.8 73.3 413.7 72.3 413.8 71.2 414.1 70.2 414.3 69.7 414.7 69.1 415.3 68.4 415.8 67.8 416.4 67.3 416.9 66.8 417.5 66.4 418.1 66.1 418.8 65.6 419.7 65.2 420.3 64.9 421 64.6 421.9 64.3 422.6 64.1Z" fill="#000" fill-opacity="0.92" stroke="none"/>
<path d="M423.9 60.5 424.7 60.5 425.8 60.5 426.7 60.5 427.4 60.6 428.6 60.8 429.6 61.1 430.2 61.2 431.1 61.6 431.9 61.9 432.4 62.2 433 62.6 433.7 63.1 434.4 63.6 434.9 64.1 435.4 64.6 435.8 65.1 436.3 65.8 436.8 66.7 437.1 67.2 437.4 68 437.6 68.7 437.8 69.7 437.9 70.7 437.9 71.7 437.8 72.8 437.5 73.8 437.4 74.3 436.9 75.3 436.6 75.8 436.3 76.4 435.7 77.1 435.2 77.7 434.6 78.2 434.1 78.7 433.5 79.1 433 79.4 432.2 79.9 431.3 80.3 430.8 80.6 429.8 80.9 429.1 81.1 428 81.4 427.4 81.4 426.3 81.5 425.2 81.6 424.1 81.5 423.1 81.4 422.5 81.4 421.4 81.2 420.3 81 419.7 80.9 418.6 80.6 418 80.4 416.9 80.1 416.4 79.8 415.4 79.4 414.7 79 414.2 78.6 413.6 78.2 413.1 77.7 412.5 77.2 412 76.4 411.6 75.8 411.3 75.3 410.9 74.3 410.8 73.8 410.6 72.8 410.6 71.7 410.8 70.7 410.9 70.2 411.3 69.2 411.5 68.7 412 67.9 412.5 67.2 412.9 66.7 413.4 66.1 413.8 65.6 414.3 65.1 414.9 64.6 415.5 64.1 416.1 63.6 416.9 63.1 417.5 62.7 418.1 62.4 418.7 62.1 419.7 61.6 420.3 61.4 421.2 61.1 421.9 60.8 423 60.6 423.9 60.5ZM422.9 62.1 423.6 61.9 424.7 61.8 425.8 61.8 426.9 61.9 427.9 62.1 428.6 62.2 429.7 62.5 430.2 62.7 431 63.1 431.9 63.5 432.4 63.9 433 64.3 433.5 64.8 434.1 65.3 434.6 66 435.1 66.7 435.4 67.2 435.7 67.9 436 68.7 436.3 69.7 436.3 70.2 436.4 71.2 436.3 72.3 436.2 72.8 435.9 73.8 435.7 74.3 435.2 75.3 434.8 75.8 434.4 76.3 434 76.8 433.4 77.4 432.8 77.9 432.1 78.4 431.3 78.8 430.8 79.1 430.1 79.4 429.1 79.7 428.4 79.9 427.4 80.1 426.3 80.2 425.2 80.3 424.1 80.3 423 80.2 421.9 80 421.1 79.9 420.3 79.8 419.2 79.6 418.5 79.4 417.5 79.1 416.9 78.9 415.9 78.4 415.3 78 414.7 77.7 414.2 77.2 413.6 76.6 413.1 75.9 412.7 75.3 412.4 74.8 412.1 73.8 412 73.1 411.9 72.3 412 71.3 412.1 70.7 412.4 69.7 412.7 69.2 413.1 68.5 413.6 67.7 414.1 67.2 414.6 66.7 415.1 66.1 415.7 65.6 416.3 65.1 416.9 64.7 417.5 64.3 418.1 63.9 418.7 63.6 419.7 63.1 420.3 62.9 421 62.6 421.9 62.3 422.9 62.1ZM424.2 63.1 425.2 63 426.3 63.1 426.9 63.1 428 63.3 429.1 63.6 429.7 63.8 430.4 64.1 431.3 64.6 431.9 65 432.4 65.5 433 66 433.5 66.6 433.9 67.2 434.2 67.7 434.6 68.7 434.8 69.2 435 70.2 435 71.2 434.9 72.3 434.7 73.3 434.5 73.8 434.1 74.6 433.6 75.3 433.1 75.8 432.6 76.3 432.1 76.8 431.4 77.4 430.8 77.7 430.2 78 429.4 78.4 428.6 78.7 427.6 78.9 426.9 79 425.8 79.1 424.7 79.2 423.6 79.1 422.5 79 421.4 78.9 420.8 78.8 419.7 78.7 418.6 78.4 418.1 78.2 417.1 77.9 416.4 77.5 415.8 77.2 415.3 76.8 414.7 76.3 414.2 75.7 413.6 74.8 413.4 74.3 413.1 73.3 413 72.8 413 71.7 413.1 71.2 413.4 70.2 413.6 69.7 414.2 68.8 414.6 68.2 415.1 67.7 415.6 67.2 416.2 66.7 416.8 66.1 417.5 65.7 418.1 65.3 418.6 65 419.3 64.6 420.3 64.2 420.8 63.9 421.8 63.6 422.5 63.4 423.6 63.2 424.2 63.1Z" fill="none" stroke="#000" stroke-width="0.7"/>
<path d="M78 170.4 78.6 170.4 79.3 170.4 80.1 170.5 81.1 170.6 82.1 170.7 83.1 170.9 83.6 170.9 84.6 171 85.6 171 86.6 171 87.6 171 88.6 170.9 89.1 170.9 90.1 170.8 91.1 170.8 92.1 170.7 93.1 170.5 94 170.4 94.6 170.3 95.6 170.3 96.6 170.3 97.6 170.4 98.1 170.5 99.1 170.7 99.7 170.9 100.6 171.2 101.1 171.5 101.8 171.9 102.5 172.4 103.1 172.9 103.6 173.4 104 173.9 104.4 174.4 104.7 174.9 105 175.9 105.1 176.4 105.1 177.4 105 177.9 104.7 178.9 104.4 179.4 104.1 180 103.6 180.6 103.1 181.1 102.6 181.5 102.1 181.9 101.2 182.4 100.6 182.7 100 182.9 99.1 183.2 98.1 183.4 97.6 183.4 96.6 183.5 95.6 183.5 94.6 183.5 93.6 183.5 92.6 183.5 91.6 183.4 91.1 183.4 90.1 183.4 89.1 183.3 88.1 183.3 87.1 183.3 86.1 183.3 85.1 183.3 84.1 183.4 83.6 183.5 82.6 183.7 81.6 183.8 81.1 183.9 80.1 184.1 79.1 184.2 78.1 184.1 77.1 184.1 76.1 183.9 75.6 183.8 74.6 183.5 74.1 183.3 73.4 182.9 72.7 182.4 72.1 181.9 71.6 181.4 71.3 180.9 71 180.4 70.6 179.6 70.4 178.9 70.2 177.9 70.2 176.9 70.3 175.9 70.6 175 70.9 174.4 71.2 173.9 71.6 173.3 72.1 172.8 72.6 172.4 73.3 171.9 74.1 171.4 74.6 171.2 75.3 170.9 76.1 170.7 77.1 170.5 78 170.4Z" fill="#000" fill-opacity="0.92" stroke="none"/>
<path d="M75.1 167.9 75.6 167.8 76.6 167.6 77.6 167.5 78.6 167.5 79.6 167.5 80.6 167.6 81.6 167.7 82.6 167.8 83.2 167.9 84.1 168 85.1 168 86.1 168.1 87.1 168 88.1 168 89.1 167.9 90.1 167.9 90.6 167.9 91.6 167.8 92.6 167.7 93.6 167.6 94.6 167.5 95.6 167.5 96.6 167.5 97.6 167.6 98.6 167.7 99.6 167.9 100.1 168 101.1 168.3 101.6 168.5 102.6 168.8 103.1 169.1 103.8 169.4 104.6 169.9 105.1 170.2 105.6 170.6 106.1 171 106.6 171.4 107.1 171.9 107.6 172.5 108.1 173.3 108.4 173.9 108.7 174.4 109 175.4 109.1 175.9 109.2 176.9 109.2 177.9 109.1 178.4 108.8 179.4 108.6 179.9 108.1 180.7 107.6 181.4 107.2 181.9 106.8 182.4 106.3 182.9 105.7 183.4 105.1 183.8 104.6 184.2 104.1 184.5 103.2 184.9 102.6 185.2 102 185.4 101.1 185.7 100.3 185.9 99.6 186.1 98.6 186.3 97.6 186.4 97.1 186.4 96.1 186.5 95.1 186.5 94.1 186.5 93.1 186.4 92.6 186.4 91.6 186.4 90.6 186.4 89.6 186.4 88.6 186.3 87.6 186.3 86.6 186.3 85.6 186.4 84.7 186.4 84.1 186.5 83.1 186.6 82.1 186.8 81.2 186.9 80.6 187 79.6 187.1 78.6 187.1 77.6 187.1 76.6 187 76.1 186.9 75.1 186.7 74.1 186.4 73.6 186.3 72.7 185.9 72.1 185.6 71.6 185.3 70.9 184.9 70.3 184.4 69.7 183.9 69.2 183.4 68.8 182.9 68.4 182.4 68.1 181.9 67.6 181.1 67.3 180.4 67.1 179.9 66.9 178.9 66.7 177.9 66.8 176.9 66.9 175.9 67.1 174.9 67.2 174.4 67.6 173.5 67.9 172.9 68.2 172.4 68.6 171.9 69.1 171.3 69.6 170.8 70.1 170.3 70.7 169.9 71.4 169.4 72.1 169 72.6 168.8 73.4 168.4 74.1 168.2 75.1 167.9ZM76.3 168.9 77.1 168.8 78.1 168.7 79.1 168.7 80.1 168.8 81.1 168.9 81.6 168.9 82.6 169.1 83.6 169.2 84.6 169.3 85.6 169.3 86.6 169.3 87.6 169.2 88.6 169.2 89.6 169.1 90.6 169.1 91.6 169 92.6 168.9 93.1 168.9 94.1 168.8 95.1 168.7 96.1 168.6 97.1 168.7 98.1 168.8 98.6 168.9 99.6 169.1 100.5 169.4 101.1 169.6 101.8 169.9 102.6 170.3 103.1 170.5 103.7 170.9 104.4 171.4 105 171.9 105.5 172.4 105.9 172.9 106.3 173.4 106.6 173.9 107.1 174.8 107.3 175.4 107.5 176.4 107.5 177.4 107.4 178.4 107.1 179.1 106.7 179.9 106.4 180.4 106.1 180.9 105.6 181.5 105.1 182 104.6 182.5 104 182.9 103.2 183.4 102.6 183.7 102.1 184 101.1 184.4 100.6 184.5 99.6 184.8 99.1 184.9 98.1 185.1 97.1 185.2 96.1 185.3 95.1 185.3 94.1 185.2 93.1 185.2 92.1 185.2 91.1 185.2 90.1 185.1 89.1 185.1 88.1 185.1 87.1 185.1 86.1 185.1 85.1 185.1 84.1 185.2 83.1 185.3 82.6 185.4 81.6 185.6 80.6 185.8 79.6 185.9 78.6 185.9 77.6 185.9 76.6 185.7 75.6 185.6 75 185.4 74.1 185.1 73.5 184.9 72.6 184.5 72.1 184.2 71.6 183.8 71.1 183.4 70.6 182.9 70.1 182.4 69.6 181.8 69.1 180.9 68.8 180.4 68.6 179.8 68.3 178.9 68.2 177.9 68.2 176.9 68.3 175.9 68.6 174.9 68.7 174.4 69.1 173.6 69.5 172.9 69.9 172.4 70.4 171.9 70.9 171.4 71.5 170.9 72.1 170.5 72.6 170.2 73.2 169.9 74.1 169.5 74.6 169.3 75.6 169 76.3 168.9ZM76.7 169.9 77.6 169.8 78.6 169.8 79.6 169.8 80.6 169.9 81.1 169.9 82.1 170.1 83.1 170.2 84.1 170.3 85.1 170.4 86.1 170.4 87.1 170.3 88.1 170.3 89.1 170.2 90.1 170.2 91.1 170.1 92.1 170 93.1 169.9 93.6 169.8 94.6 169.7 95.6 169.7 96.6 169.7 97.6 169.8 98.3 169.9 99.1 170.1 100.1 170.4 100.6 170.6 101.4 170.9 102.1 171.3 102.6 171.6 103.1 172 103.6 172.4 104.2 172.9 104.6 173.4 105.1 174 105.6 174.9 105.8 175.4 106 176.4 106 177.4 105.8 178.4 105.6 178.9 105.1 179.9 104.8 180.4 104.4 180.9 103.9 181.4 103.3 181.9 102.6 182.4 102.1 182.7 101.6 183 100.6 183.4 100.1 183.5 99.1 183.8 98.6 183.9 97.6 184.1 96.6 184.2 95.6 184.2 94.6 184.2 93.6 184.1 92.6 184.1 91.6 184.1 90.6 184 89.6 184 88.6 184 87.6 184 86.6 184 85.6 184 84.6 184 83.6 184.1 82.6 184.3 82.1 184.4 81.1 184.6 80.1 184.7 79.1 184.8 78.1 184.8 77.1 184.7 76.1 184.6 75.4 184.4 74.6 184.2 74 183.9 73.1 183.5 72.6 183.2 72.1 182.8 71.6 182.3 71.1 181.8 70.6 181.1 70.2 180.4 69.9 179.9 69.6 178.9 69.5 178.4 69.4 177.4 69.5 176.4 69.6 175.8 69.9 174.9 70.1 174.3 70.6 173.5 71.1 172.9 71.5 172.4 72.1 171.9 72.6 171.5 73.1 171.2 73.7 170.9 74.6 170.5 75.1 170.3 76.1 170 76.7 169.9Z" fill="none" stroke="#000" stroke-width="0.7"/>
<path d="M185.7 171.4 186.6 171.2 187.7 171.1 188.8 171 189.9 171.1 191 171.2 192.2 171.4 192.7 171.5 193.8 171.9 194.4 172.1 195.1 172.4 196 172.9 196.6 173.4 197.1 173.8 197.7 174.4 198.2 175 198.6 175.5 198.9 176 199.3 177 199.5 177.5 199.5 178.5 199.4 179.5 199.3 180.1 198.8 181.1 198.5 181.6 198.1 182.1 197.6 182.6 196.9 183.1 196.1 183.6 195.5 184 194.9 184.3 194 184.6 193.3 184.9 192.5 185.1 191.6 185.4 190.5 185.6 189.7 185.7 188.8 185.7 187.7 185.8 186.6 185.8 185.5 185.7 185 185.7 183.9 185.5 182.8 185.3 182.2 185.1 181.1 184.9 180.5 184.6 179.4 184.2 178.9 183.8 178.3 183.4 177.8 182.9 177.2 182.2 176.9 181.6 176.7 181.1 176.4 180.1 176.5 179 176.7 178.2 176.9 177.5 177.2 177 177.8 176.1 178.3 175.5 178.8 175 179.4 174.5 180 174.1 180.5 173.7 181.1 173.3 181.8 172.9 182.8 172.5 183.3 172.2 184.1 171.9 185 171.6 185.7 171.4Z" fill="#000" fill-opacity="0.92" stroke="none"/>
<path d="M187.3 167.8 188.3 167.8 189.4 167.8 190.5 167.8 191 167.9 192.2 168 193.3 168.3 193.8 168.4 194.9 168.7 195.5 168.9 196.6 169.3 197.1 169.6 197.7 169.9 198.4 170.4 199.1 170.9 199.8 171.4 200.3 171.9 200.9 172.4 201.3 172.9 201.8 173.4 202.1 173.9 202.7 174.7 203.1 175.5 203.3 176 203.5 177 203.6 178 203.6 179 203.5 180.1 203.2 181 203 181.6 202.7 182.3 202.2 183.1 201.8 183.6 201.3 184.1 200.8 184.6 200.2 185.1 199.4 185.7 198.8 186.1 198.2 186.4 197.7 186.7 196.7 187.2 196 187.5 195.5 187.8 194.4 188.2 193.8 188.3 192.7 188.6 191.6 188.7 191 188.8 189.9 188.9 188.8 188.9 187.7 188.9 186.6 188.8 185.5 188.7 185 188.6 183.9 188.4 182.9 188.2 182.2 188 181.1 187.7 180.5 187.5 179.6 187.2 178.9 186.9 178.3 186.7 177.3 186.2 176.7 185.8 176.1 185.4 175.6 184.9 175 184.3 174.5 183.6 174.1 183.1 173.9 182.6 173.5 181.6 173.3 181.1 173.2 180.1 173.2 179 173.4 178.1 173.5 177.5 173.9 176.5 174.2 176 174.5 175.4 175 174.6 175.5 173.9 176 173.4 176.5 172.9 177.1 172.4 177.7 171.9 178.3 171.4 178.9 171 179.4 170.6 180 170.3 180.7 169.9 181.7 169.4 182.2 169.1 182.9 168.9 183.9 168.5 184.5 168.4 185.5 168.1 186.6 167.9 187.3 167.8ZM186.4 169.4 187.2 169.2 188.3 169.2 189.4 169.2 190.5 169.2 191.4 169.4 192.2 169.5 193.3 169.7 193.8 169.9 194.9 170.2 195.5 170.4 196.5 170.9 197.1 171.3 197.7 171.6 198.2 172.1 198.8 172.5 199.3 173 199.9 173.6 200.4 174.3 200.9 175 201.2 175.5 201.5 176.2 201.8 177 202 178 201.9 179 201.8 180.1 201.5 180.8 201.2 181.6 200.9 182.1 200.4 182.8 199.9 183.4 199.3 183.9 198.8 184.3 198.2 184.7 197.5 185.1 196.6 185.7 196 186 195.5 186.2 194.4 186.7 193.8 186.9 192.7 187.1 192.2 187.2 191 187.4 189.9 187.5 188.8 187.6 187.7 187.6 186.6 187.6 185.5 187.5 184.4 187.3 183.9 187.2 182.8 186.9 181.7 186.7 181.1 186.5 180.1 186.2 179.4 186 178.8 185.7 177.8 185.1 177.2 184.7 176.7 184.3 176.1 183.7 175.6 183.1 175.3 182.6 175 182 174.7 181.1 174.5 180.1 174.6 179 174.8 178 175 177.3 175.4 176.5 175.7 176 176.1 175.3 176.7 174.6 177.2 174 177.8 173.5 178.3 173.1 178.9 172.7 179.4 172.3 180 171.9 180.8 171.4 181.7 170.9 182.2 170.6 182.8 170.4 183.9 170 184.4 169.8 185.5 169.5 186.4 169.4ZM187.7 170.4 188.3 170.4 189.4 170.4 189.9 170.4 191 170.5 192.2 170.7 193 170.9 193.8 171.1 194.6 171.4 195.5 171.8 196 172.1 196.6 172.4 197.3 172.9 197.9 173.4 198.4 173.9 198.9 174.5 199.3 175.1 199.9 176 200.1 176.5 200.4 177.5 200.4 178.4 200.4 178.6 200.4 179.5 200.1 180.6 199.8 181.1 199.3 181.9 198.8 182.6 198.2 183.1 197.7 183.5 197.1 183.9 196.6 184.3 195.9 184.6 194.9 185.1 194.4 185.3 193.4 185.7 192.7 185.9 191.6 186.1 191 186.2 189.9 186.3 188.8 186.4 187.7 186.5 186.6 186.5 185.5 186.4 184.4 186.2 183.9 186.1 182.8 185.9 181.8 185.7 181.1 185.5 180.1 185.1 179.4 184.9 178.9 184.6 178.2 184.1 177.5 183.6 177 183.1 176.6 182.6 176.1 181.7 175.9 181.1 175.7 180.1 175.8 179 176 178 176.2 177.5 176.7 176.6 177 176 177.4 175.5 177.9 175 178.4 174.5 179 173.9 179.7 173.4 180.5 172.9 181.1 172.6 181.7 172.3 182.3 171.9 183.3 171.5 183.9 171.2 185 170.9 185.5 170.7 186.6 170.5 187.7 170.4Z" fill="none" stroke="#000" stroke-width="0.7"/>
<path d="M310 170 310.5 169.9 311.5 169.7 312.5 169.7 313.5 169.7 314.5 169.8 315.3 170 316 170.1 317 170.4 317.6 170.5 318.5 170.7 319.5 170.8 320.5 170.8 321.5 170.7 322.5 170.6 323.5 170.5 324 170.5 325 170.4 326 170.3 327 170.3 328 170.3 329 170.4 330 170.5 330.5 170.5 331.5 170.7 332.5 170.8 333.5 171 334 171 335 171.1 336 171.2 337 171.2 338 171.2 339 171.3 339.9 171.5 340.5 171.6 341.5 172 342 172.2 342.6 172.5 343.3 173 344 173.5 344.5 174 344.9 174.5 345.3 175 345.5 175.5 345.7 176.5 345.6 177.5 345.3 178 345 178.5 344.5 179.1 344 179.5 343.4 180 342.5 180.5 342 180.8 341.4 181 340.5 181.3 339.7 181.5 339 181.6 338 181.8 337 181.9 336.2 182 335.5 182.1 334.5 182.2 333.5 182.3 332.5 182.5 332 182.5 331 182.7 330 182.8 329 182.9 328 183 327.3 183 326.5 183 326 183 325 182.9 324 182.8 323 182.6 322 182.5 321.5 182.5 321 182.5 320 182.6 319 182.8 318.4 183 317.5 183.3 316.7 183.5 316 183.7 315 184 314.5 184.1 313.5 184.2 312.5 184.3 311.5 184.3 310.5 184.1 309.9 184 309 183.8 308.2 183.5 307.5 183.2 307 182.9 306.3 182.5 305.7 182 305.3 181.5 304.9 181 304.5 180.4 304.1 179.5 303.9 179 303.7 178 303.6 177 303.6 176 303.9 175 304 174.5 304.5 173.6 304.9 173 305.3 172.5 305.8 172 306.4 171.5 307 171.1 307.5 170.9 308.3 170.5 309 170.3 310 170Z" fill="#000" fill-opacity="0.92" stroke="none"/>
<path d="M309.4 167 310 166.9 311 166.8 312 166.7 313 166.7 314 166.8 315 166.9 315.5 167 316.5 167.2 317.5 167.4 318.4 167.5 319 167.6 320 167.6 321 167.6 322 167.5 322.8 167.5 323.5 167.5 324.5 167.4 325.5 167.4 326.5 167.3 327.5 167.4 328.5 167.4 329.5 167.5 330 167.5 331 167.6 332 167.7 333 167.8 334 167.9 334.8 168 335.5 168 336.5 168.1 337.5 168.1 338.5 168.2 339.5 168.3 340.5 168.4 341.1 168.5 342 168.7 343 168.9 343.5 169.1 344.5 169.4 345 169.5 346 169.9 346.5 170 347.5 170.3 348.1 170.5 349 170.7 349.9 171 350.5 171.2 351.3 171.5 352 171.8 352.5 172.1 353.1 172.5 353.8 173 354.4 173.5 354.9 174 355.3 174.5 355.6 175 355.9 176 356 177 355.7 178 355.4 178.5 355 179 354.5 179.5 353.9 180 353.2 180.5 352.5 180.9 352 181.2 351.3 181.5 350.5 181.8 350 182 349 182.3 348.5 182.5 347.5 182.8 346.7 183 346 183.2 345.1 183.5 344.5 183.7 343.5 184 343 184.1 342 184.4 341.3 184.5 340.5 184.7 339.5 184.8 338.5 184.9 337.5 185 337 185 336 185.1 335 185.2 334 185.3 333 185.4 332.4 185.5 331.5 185.6 330.5 185.7 329.5 185.8 328.5 185.9 327.5 185.9 326.5 185.9 325.5 185.9 324.5 185.8 323.5 185.8 322.5 185.7 321.5 185.8 320.5 185.9 319.8 186 319 186.2 318 186.4 317.4 186.5 316.5 186.7 315.5 186.9 315 187 314 187.2 313 187.3 312 187.3 311 187.2 310 187.1 309.3 187 308.5 186.8 307.5 186.5 307 186.4 306.1 186 305.5 185.7 305 185.4 304.4 185 303.7 184.5 303.2 184 302.7 183.5 302.2 183 301.8 182.5 301.5 182 301 181.1 300.7 180.5 300.5 179.8 300.3 179 300.1 178 300.1 177 300.1 176 300.3 175 300.5 174.2 300.7 173.5 301 172.9 301.5 172 301.8 171.5 302.2 171 302.7 170.5 303.2 170 303.8 169.5 304.5 169 305 168.7 305.5 168.4 306.3 168 307 167.7 307.5 167.5 308.5 167.2 309.4 167ZM311.6 168 312.5 168 313.4 168 314 168 315 168.2 316 168.4 316.6 168.5 317.5 168.7 318.5 168.8 319.5 168.9 320.5 168.9 321.5 168.9 322.5 168.8 323.5 168.7 324.5 168.6 325.5 168.6 326.5 168.6 327.5 168.6 328.5 168.6 329.5 168.7 330.5 168.8 331.5 168.9 332.2 169 333 169.1 334 169.2 335 169.3 336 169.3 337 169.3 338 169.4 339 169.5 339.5 169.5 340.5 169.7 341.5 169.9 342 170 343 170.4 343.5 170.6 344.5 171 345 171.2 345.6 171.5 346.5 171.9 347 172.1 347.7 172.5 348.5 172.9 349 173.1 349.6 173.5 350.3 174 350.7 174.5 351.1 175 351.4 176 351.5 177 351.1 178 350.8 178.5 350.3 179 349.7 179.5 349 180 348.5 180.2 348 180.5 347 180.9 346.5 181.2 345.7 181.5 345 181.8 344.5 182 343.5 182.4 343 182.6 342 182.9 341.5 183.1 340.5 183.3 339.5 183.5 339 183.5 338 183.7 337 183.8 336 183.9 335 184 334.5 184 333.5 184.1 332.5 184.3 331.5 184.4 330.5 184.5 330 184.5 329 184.6 328 184.7 327 184.7 326 184.7 325 184.6 324 184.5 323.5 184.5 322.5 184.4 321.5 184.4 320.6 184.5 320 184.6 319 184.8 318.1 185 317.5 185.2 316.5 185.4 316 185.5 315 185.8 314 185.9 313 186 312.5 186 311.6 186 311 186 310 185.8 309 185.6 308.5 185.5 307.5 185.2 307 185 306 184.5 305.5 184.2 305 183.8 304.5 183.4 304 182.9 303.5 182.4 303 181.7 302.6 181 302.3 180.5 302 179.6 301.8 179 301.6 178 301.5 177 301.6 176 301.8 175 302 174.2 302.3 173.5 302.5 173 303 172.3 303.5 171.6 304 171.1 304.5 170.6 305 170.3 305.5 169.9 306.2 169.5 307 169.1 307.5 168.9 308.5 168.5 309 168.4 310 168.2 311 168 311.6 168ZM309.3 169.5 310 169.3 311 169.1 312 169.1 313 169.1 314 169.1 315 169.3 316 169.5 316.5 169.6 317.5 169.8 318.5 170 319 170 320 170.1 321 170.1 321.9 170 322.5 169.9 323.5 169.8 324.5 169.7 325.5 169.7 326.5 169.7 327.5 169.7 328.5 169.7 329.5 169.8 330.5 169.9 331.5 170 332 170.1 333 170.2 334 170.3 335 170.4 336 170.5 337 170.5 337.5 170.5 338.5 170.6 339.5 170.7 340.5 170.9 341 171 342 171.3 342.5 171.6 343.4 172 344 172.4 344.5 172.7 345 173 345.6 173.5 346.2 174 346.7 174.5 347.1 175 347.5 175.8 347.7 176.5 347.5 177.3 347.2 178 346.8 178.5 346.3 179 345.7 179.5 345 180 344.5 180.4 344 180.7 343.4 181 342.5 181.4 342 181.6 341 181.9 340.5 182.1 339.5 182.3 338.5 182.4 337.9 182.5 337 182.6 336 182.7 335 182.9 334 183 333.5 183 332.5 183.1 331.5 183.3 330.5 183.4 329.5 183.5 329 183.5 328 183.6 327 183.7 326 183.6 325 183.6 324.5 183.5 323.5 183.4 322.5 183.3 321.5 183.2 320.5 183.3 319.5 183.4 319 183.6 318 183.8 317.4 184 316.5 184.3 315.6 184.5 315 184.6 314 184.8 313 184.9 312 184.9 311 184.9 310 184.7 309.1 184.5 308.5 184.3 307.6 184 307 183.7 306.5 183.4 305.8 183 305.2 182.5 304.7 182 304.3 181.5 304 181 303.5 180 303.3 179.5 303 178.5 302.9 178 302.8 177 302.9 176 303 175.4 303.2 174.5 303.5 173.9 304 173 304.4 172.5 304.8 172 305.3 171.5 306 171 306.5 170.6 307 170.4 307.8 170 308.5 169.7 309.3 169.5Z" fill="none" stroke="#000" stroke-width="0.7"/>
<path d="M423.6 171.4 424.3 171.3 425.5 171.3 426.6 171.3 427.1 171.4 428.2 171.6 429.1 171.9 429.9 172.2 430.4 172.5 431.1 172.9 431.8 173.4 432.4 173.9 432.8 174.5 433.2 175.1 433.6 176 433.8 176.5 434 177.5 434 178.5 433.9 179.5 433.7 180.1 433.2 181.1 432.9 181.6 432.5 182.1 432 182.6 431.5 183.1 430.8 183.6 429.9 184.1 429.3 184.4 428.8 184.6 427.7 185 427 185.1 426 185.3 424.9 185.4 423.8 185.4 422.7 185.3 421.6 185.2 421 185.1 419.9 185 418.8 184.8 418.3 184.6 417.2 184.2 416.6 184 415.9 183.6 415.1 183.1 414.5 182.6 414 182.1 413.7 181.6 413.3 180.6 413.2 180.1 413.2 179 413.3 178.3 413.6 177.5 413.8 177 414.4 176.1 415 175.5 415.5 175 416.1 174.5 416.6 174.1 417.2 173.7 417.7 173.4 418.7 172.9 419.4 172.6 419.9 172.4 421 172 421.6 171.8 422.7 171.5 423.6 171.4Z" fill="#000" fill-opacity="0.92" stroke="none"/>
<path d="M422.3 168.3 423.2 168.2 424.3 168.1 425.5 168.1 426.6 168.2 427.7 168.3 428.2 168.4 429.3 168.6 430.1 168.9 431 169.2 431.5 169.4 432.5 169.9 433.2 170.3 433.7 170.6 434.3 171 434.9 171.5 435.4 172 436 172.7 436.5 173.4 436.8 173.9 437.1 174.5 437.5 175.5 437.6 176 437.8 177 437.9 178 437.8 179 437.7 180.1 437.5 180.6 437.1 181.6 436.9 182.1 436.5 182.8 436 183.6 435.5 184.1 435 184.6 434.4 185.1 433.8 185.7 433.2 186.1 432.6 186.4 432.1 186.7 431 187.2 430.4 187.4 429.6 187.7 428.8 187.9 427.7 188.1 427 188.2 426 188.3 424.9 188.3 423.8 188.3 422.7 188.2 422.1 188.2 421 188.1 419.9 187.9 419.2 187.7 418.3 187.5 417.4 187.2 416.6 186.9 416 186.7 415 186.2 414.4 186 413.8 185.6 413.1 185.1 412.5 184.6 411.9 184.1 411.5 183.6 411.1 183 410.6 182.1 410.4 181.6 410.1 180.6 410 179.5 410.1 178.5 410.3 177.5 410.5 176.8 410.9 176 411.2 175.5 411.6 174.9 412.2 174.2 412.7 173.6 413.3 173 413.8 172.5 414.4 172 415 171.6 415.5 171.2 416.1 170.8 416.8 170.4 417.7 169.9 418.3 169.6 418.8 169.4 419.9 168.9 420.5 168.8 421.6 168.5 422.3 168.3ZM421.6 169.9 422.7 169.6 423.8 169.5 424.9 169.5 426 169.5 427.1 169.6 428.2 169.7 428.9 169.9 429.9 170.2 430.4 170.4 431.5 170.9 432.1 171.2 432.6 171.6 433.2 172 433.7 172.4 434.3 173 434.9 173.7 435.3 174.5 435.6 175 436 175.9 436.1 176.5 436.3 177.5 436.3 178.5 436.1 179.5 436 180.2 435.7 181.1 435.4 181.6 434.9 182.5 434.3 183.1 433.9 183.6 433.3 184.1 432.7 184.6 432.1 185.1 431.5 185.4 431 185.7 430 186.2 429.3 186.4 428.4 186.7 427.7 186.8 426.6 187 425.5 187.1 424.3 187.1 423.2 187 422.1 187 421 186.8 420.1 186.7 419.4 186.5 418.3 186.3 417.7 186.1 416.6 185.7 416.1 185.5 415.3 185.1 414.4 184.6 413.8 184.3 413.3 183.8 412.7 183.2 412.2 182.6 411.9 182.1 411.6 181.4 411.4 180.6 411.3 179.5 411.4 178.5 411.6 177.5 411.8 177 412.2 176.3 412.7 175.5 413.1 175 413.6 174.5 414.1 173.9 414.6 173.4 415.3 172.9 416 172.4 416.6 172 417.2 171.7 417.7 171.4 418.7 170.9 419.4 170.6 420 170.4 421 170 421.6 169.9ZM422.5 170.9 423.2 170.8 424.3 170.6 425.5 170.6 426.6 170.7 427.7 170.8 428.2 170.9 429.3 171.2 429.9 171.4 430.8 171.9 431.5 172.3 432.1 172.7 432.6 173.2 433.2 173.7 433.7 174.4 434.1 175 434.3 175.5 434.7 176.5 434.8 177.5 434.9 178 434.8 178.5 434.7 179.5 434.4 180.6 434.1 181.1 433.7 181.7 433.2 182.4 432.6 183 432.1 183.5 431.5 184 431 184.3 430.4 184.6 429.4 185.1 428.8 185.4 427.8 185.7 427.1 185.8 426 185.9 424.9 186 423.8 186 422.7 185.9 421.6 185.8 420.5 185.7 419.9 185.6 418.8 185.4 418 185.1 417.2 184.9 416.6 184.6 415.5 184.1 415 183.8 414.4 183.4 413.8 182.9 413.3 182.2 412.9 181.6 412.7 181.1 412.5 180.1 412.5 179 412.6 178 412.8 177.5 413.3 176.6 413.7 176 414.1 175.5 414.6 175 415.1 174.5 415.7 173.9 416.4 173.4 417.2 173 417.7 172.7 418.3 172.4 419.3 171.9 419.9 171.7 420.6 171.4 421.6 171.1 422.5 170.9Z" fill="none" stroke="#000" stroke-width="0.7"/>
<path d="M93.3 276.6 93.8 276.5 94.8 276.5 95.8 276.4 96.8 276.5 97.6 276.6 98.3 276.7 99.3 277 99.8 277.1 100.8 277.6 101.3 277.8 101.8 278.1 102.5 278.6 103 279.1 103.4 279.6 103.8 280.1 104.3 281.1 104.4 281.6 104.6 282.6 104.6 283.6 104.3 284.6 104.1 285.1 103.8 285.6 103.3 286.2 102.8 286.7 102.3 287.1 101.6 287.6 100.8 288 100.3 288.2 99.3 288.6 98.8 288.7 97.8 288.9 96.8 289 95.8 289.1 94.8 289 93.8 289 92.8 288.9 91.8 288.9 90.8 288.9 89.8 289 89.3 289.1 88.3 289.3 87.3 289.5 86.8 289.6 85.8 289.8 84.8 290 84.3 290.2 83.3 290.5 82.8 290.6 81.8 291 81.2 291.1 80.3 291.3 79.3 291.5 78.3 291.6 77.8 291.6 77.3 291.6 76.3 291.5 75.3 291.3 74.8 291.1 73.8 290.7 73.3 290.5 72.6 290.1 72 289.6 71.4 289.1 70.9 288.6 70.5 288.1 70.2 287.6 69.8 286.7 69.6 286.1 69.5 285.1 69.6 284.1 69.8 283.2 70.1 282.6 70.4 282.1 70.8 281.5 71.3 281 71.8 280.5 72.4 280.1 73.2 279.6 73.8 279.3 74.3 279.1 75.3 278.7 75.8 278.6 76.8 278.4 77.8 278.4 78.8 278.4 79.8 278.4 80.8 278.5 81.8 278.5 82.8 278.5 83.8 278.4 84.8 278.3 85.8 278.1 86.3 278 87.3 277.8 88.3 277.7 88.8 277.6 89.8 277.3 90.8 277.1 91.3 277 92.3 276.8 93.3 276.6Z" fill="#000" fill-opacity="0.92" stroke="none"/>
<path d="M91.6 274.1 92.3 274 93.3 273.8 94.3 273.7 95.3 273.7 96.3 273.7 97.3 273.8 98.3 273.9 99.3 274 99.8 274.1 100.8 274.4 101.4 274.6 102.3 274.9 102.8 275.1 103.7 275.6 104.3 275.9 104.8 276.3 105.3 276.6 105.8 277.1 106.4 277.6 106.8 278.1 107.3 278.8 107.8 279.6 108.1 280.1 108.3 280.7 108.5 281.6 108.7 282.6 108.6 283.6 108.4 284.6 108.3 285.1 107.8 286.1 107.6 286.6 107.2 287.1 106.8 287.6 106.3 288.1 105.8 288.6 105.2 289.1 104.4 289.6 103.8 290 103.3 290.2 102.4 290.6 101.8 290.8 100.9 291.1 100.3 291.3 99.3 291.5 98.8 291.6 97.8 291.8 96.8 291.9 95.8 291.9 94.8 291.9 93.8 291.9 92.8 291.9 91.8 291.9 90.8 292 89.8 292.1 89.3 292.2 88.3 292.4 87.3 292.5 86.8 292.6 85.8 292.8 84.8 293.1 84.3 293.2 83.3 293.5 82.7 293.6 81.8 293.8 80.8 294 80.3 294.1 79.3 294.3 78.3 294.3 77.3 294.3 76.3 294.3 75.3 294.1 74.8 294 73.8 293.8 73.3 293.6 72.3 293.2 71.8 293 71 292.6 70.3 292.2 69.8 291.9 69.3 291.5 68.8 291.1 68.3 290.6 67.8 290.1 67.3 289.5 66.8 288.8 66.4 288.1 66.2 287.6 66 286.6 65.9 285.6 65.9 284.6 66 283.6 66.3 282.6 66.4 282.1 66.8 281.3 67.2 280.6 67.6 280.1 68 279.6 68.5 279.1 69.1 278.6 69.8 278.1 70.3 277.8 70.8 277.5 71.6 277.1 72.3 276.8 72.8 276.6 73.8 276.2 74.3 276.1 75.3 275.9 76.3 275.8 77.3 275.7 78.3 275.7 79.3 275.7 80.3 275.7 81.3 275.7 82.3 275.6 82.8 275.6 83.8 275.5 84.8 275.3 85.8 275.1 86.3 275 87.3 274.9 88.3 274.7 88.9 274.6 89.8 274.4 90.8 274.2 91.6 274.1ZM92.6 275.1 93.3 275 94.3 274.9 95.3 274.8 96.3 274.9 97.3 274.9 98.3 275.1 98.8 275.1 99.8 275.4 100.5 275.6 101.3 275.9 101.8 276.1 102.8 276.6 103.3 276.9 103.8 277.2 104.3 277.6 104.8 278.1 105.3 278.6 105.8 279.3 106.3 280.1 106.5 280.6 106.8 281.5 106.9 282.1 107 283.1 106.9 284.1 106.7 284.6 106.3 285.6 106.1 286.1 105.7 286.6 105.3 287.1 104.8 287.6 104.2 288.1 103.5 288.6 102.8 289 102.3 289.3 101.5 289.6 100.8 289.9 100 290.1 99.3 290.3 98.3 290.5 97.6 290.6 96.8 290.7 95.8 290.7 94.8 290.7 93.8 290.7 92.8 290.6 91.8 290.7 90.8 290.7 89.8 290.9 88.8 291 88.3 291.1 87.3 291.3 86.3 291.5 85.7 291.6 84.8 291.8 83.8 292.1 83.3 292.2 82.3 292.5 81.8 292.7 80.8 292.9 79.8 293.1 79.3 293.1 78.3 293.2 77.3 293.2 76.3 293.1 75.8 293 74.8 292.8 74 292.6 73.3 292.4 72.7 292.1 71.8 291.6 71.3 291.4 70.8 291 70.3 290.6 69.7 290.1 69.2 289.6 68.8 289.1 68.3 288.4 67.8 287.6 67.6 287.1 67.4 286.1 67.3 285.1 67.4 284.1 67.6 283.1 67.8 282.6 68.3 281.6 68.6 281.1 69 280.6 69.5 280.1 70 279.6 70.7 279.1 71.3 278.7 71.8 278.4 72.4 278.1 73.3 277.7 73.8 277.5 74.8 277.2 75.3 277.1 76.3 276.9 77.3 276.8 78.3 276.8 79.3 276.8 80.3 276.9 81.3 276.9 82.3 276.8 83.3 276.7 84.3 276.6 84.8 276.5 85.8 276.3 86.8 276.2 87.3 276.1 88.3 275.9 89.3 275.7 90 275.6 90.8 275.4 91.8 275.2 92.6 275.1ZM92.7 276.1 93.3 276 94.3 275.9 95.3 275.8 96.3 275.9 97.3 275.9 98.3 276.1 98.8 276.2 99.8 276.5 100.3 276.7 101.3 277.1 101.8 277.3 102.3 277.6 103 278.1 103.5 278.6 104 279.1 104.4 279.6 104.8 280.3 105.2 281.1 105.3 281.6 105.5 282.6 105.4 283.6 105.3 284.3 105 285.1 104.8 285.6 104.3 286.3 103.8 286.8 103.3 287.3 102.8 287.7 102.1 288.1 101.3 288.5 100.8 288.7 99.8 289.1 99.3 289.2 98.3 289.4 97.3 289.6 96.8 289.6 95.8 289.7 94.8 289.6 94 289.6 93.3 289.6 92.3 289.5 91.3 289.6 90.8 289.6 89.8 289.7 88.8 289.9 87.8 290.1 87.3 290.2 86.3 290.4 85.3 290.6 84.8 290.7 83.8 291 83.3 291.1 82.3 291.4 81.7 291.6 80.8 291.9 79.8 292.1 79.3 292.1 78.3 292.2 77.3 292.2 76.4 292.1 75.8 292 74.8 291.8 74.3 291.6 73.3 291.2 72.8 291 72.2 290.6 71.5 290.1 70.9 289.6 70.4 289.1 70 288.6 69.6 288.1 69.3 287.5 68.9 286.6 68.8 286.1 68.6 285.1 68.7 284.1 68.8 283.6 69.2 282.6 69.5 282.1 69.8 281.6 70.3 281 70.8 280.5 71.3 280.1 72 279.6 72.8 279.1 73.3 278.8 73.8 278.6 74.8 278.2 75.3 278.1 76.3 277.9 77.3 277.8 78.3 277.8 79.3 277.8 80.3 277.9 81.3 277.9 82.3 277.9 83.3 277.8 84.3 277.7 84.9 277.6 85.8 277.4 86.8 277.3 87.8 277.1 88.3 277 89.3 276.8 90.3 276.6 90.8 276.5 91.8 276.3 92.7 276.1Z" fill="none" stroke="#000" stroke-width="0.7"/>
<path d="M186.3 278.1 186.8 277.9 187.9 277.7 189 277.7 190.1 277.7 191.2 277.9 191.8 278.1 192.9 278.5 193.5 278.7 194.1 279.1 194.9 279.6 195.7 280.1 196.2 280.5 196.8 280.9 197.3 281.4 197.9 282 198.4 282.6 198.9 283.2 199.2 283.7 199.4 284.7 199.2 285.7 199 286.2 198.4 287 197.9 287.6 197.3 288.2 196.8 288.7 196.2 289.2 195.7 289.7 195.1 290.1 194.6 290.5 194 290.9 193.2 291.3 192.4 291.7 191.8 291.9 190.7 292.2 189.6 292.3 189 292.4 187.9 292.4 186.9 292.3 186.3 292.3 185.2 292.2 184.1 292 183.3 291.8 182.4 291.6 181.8 291.3 180.9 290.8 180.2 290.3 179.7 289.8 179.2 289.3 178.9 288.8 178.5 288 178.3 287.2 178.2 286.2 178.3 285.2 178.5 284.5 178.9 283.7 179.2 283.2 179.7 282.5 180.2 281.8 180.8 281.3 181.3 280.8 181.9 280.3 182.4 279.9 183 279.6 183.8 279.1 184.6 278.7 185.2 278.4 186.3 278.1Z" fill="#000" fill-opacity="0.92" stroke="none"/>
<path d="M187.6 274.5 188.5 274.4 189.6 274.4 190.6 274.5 191.2 274.6 192.4 274.8 193 275 194 275.4 194.6 275.6 195.6 276 196.2 276.3 196.8 276.6 197.7 277.1 198.4 277.4 199 277.7 199.9 278.1 200.6 278.4 201.2 278.6 202.3 278.9 202.8 279.1 204 279.5 204.5 279.8 205.2 280.1 206 280.6 206.7 281.1 207.2 281.6 207.7 282.1 208 282.7 208.4 283.3 208.6 284.2 208.7 285.2 208.5 286.2 208.3 286.7 207.8 287.4 207.3 288.1 206.7 288.5 206.2 288.9 205.6 289.3 204.5 289.8 204 290 203.1 290.3 202.3 290.6 201.6 290.8 200.6 291.2 200.1 291.4 199.1 291.8 198.4 292.2 197.9 292.5 197.2 292.8 196.3 293.3 195.7 293.7 195.1 294 194.3 294.4 193.5 294.7 192.9 294.9 191.8 295.2 190.9 295.4 190.1 295.5 189 295.5 187.9 295.5 186.8 295.4 186.3 295.3 185.2 295.2 184.1 294.9 183.5 294.8 182.4 294.5 181.9 294.3 180.9 293.9 180.2 293.5 179.7 293.2 179.1 292.8 178.5 292.3 177.9 291.8 177.4 291.3 176.9 290.6 176.4 289.8 176.1 289.3 175.8 288.4 175.6 287.7 175.4 286.7 175.4 285.7 175.6 284.7 175.8 283.9 176 283.2 176.3 282.5 176.8 281.6 177.1 281.1 177.5 280.6 178 280 178.5 279.4 179.1 278.8 179.7 278.3 180.2 277.9 180.8 277.4 181.3 277 182 276.5 182.9 276 183.5 275.7 184.1 275.5 185.2 275 185.7 274.9 186.8 274.6 187.6 274.5ZM186.7 276 187.4 275.9 188.5 275.8 189.6 275.8 190.7 275.9 191.5 276 192.4 276.2 193.2 276.5 194 276.9 194.6 277.1 195.5 277.6 196.2 278 196.8 278.3 197.3 278.6 198.3 279.1 199 279.5 199.5 279.8 200.2 280.1 201.2 280.6 201.7 280.8 202.3 281.1 203.2 281.6 203.9 282.1 204.5 282.7 204.9 283.2 205.2 283.7 205.5 284.7 205.4 285.7 205.1 286.4 204.5 287.1 204 287.5 203.4 287.9 202.7 288.3 201.7 288.7 201.2 288.9 200.4 289.3 199.5 289.7 199 290 198.4 290.4 197.7 290.8 196.9 291.3 196.2 291.8 195.7 292.1 195.1 292.4 194.4 292.8 193.5 293.3 192.9 293.5 191.8 293.8 191.2 294 190.1 294.1 189 294.2 187.9 294.2 186.8 294.1 185.7 294 185 293.9 184.1 293.7 183 293.4 182.4 293.2 181.4 292.8 180.8 292.5 180.2 292.2 179.6 291.8 179 291.3 178.4 290.8 178 290.3 177.4 289.4 177.1 288.8 176.9 288.1 176.7 287.2 176.6 286.2 176.7 285.2 176.9 284.2 177.1 283.7 177.4 282.9 177.8 282.1 178.2 281.6 178.6 281.1 179.1 280.6 179.7 280 180.2 279.5 180.8 279.1 181.4 278.6 182.1 278.1 182.9 277.6 183.5 277.2 184.1 276.9 185 276.5 185.7 276.3 186.7 276ZM187.8 277.1 188.5 277 189.6 277 190.4 277.1 191.2 277.2 192.4 277.5 192.9 277.7 193.7 278.1 194.6 278.5 195.1 278.8 195.7 279.2 196.4 279.6 197.1 280.1 197.9 280.6 198.4 281 199 281.5 199.5 281.9 200.1 282.4 200.6 282.9 201.2 283.6 201.4 284.2 201.5 285.2 201.2 285.9 200.6 286.6 200.1 287.1 199.5 287.6 199 288.1 198.4 288.5 197.9 288.9 197.3 289.4 196.8 289.8 196.1 290.3 195.4 290.8 194.6 291.3 194 291.7 193.5 292 192.6 292.3 191.8 292.6 190.9 292.8 190.1 293 189 293.1 187.9 293.1 186.8 293 185.7 292.9 185.2 292.8 184.1 292.6 183 292.4 182.4 292.2 181.5 291.8 180.8 291.4 180.2 291.1 179.7 290.6 179.1 290.1 178.5 289.3 178.2 288.8 178 288.3 177.7 287.2 177.6 286.2 177.7 285.2 178 284.2 178.2 283.7 178.5 283 179.1 282.2 179.5 281.6 180 281.1 180.5 280.6 181.1 280.1 181.8 279.6 182.4 279.2 183 278.8 183.5 278.5 184.4 278.1 185.2 277.7 185.7 277.5 186.8 277.2 187.8 277.1Z" fill="none" stroke="#000" stroke-width="0.7"/>
<path d="M310.7 277.2 311.6 277 312.6 276.9 313.6 276.9 314.6 276.9 315.6 277.1 316.5 277.2 317.1 277.3 318.1 277.4 319.1 277.6 320.1 277.6 321.1 277.6 322.1 277.5 323.1 277.3 324.1 277.2 324.6 277.1 325.6 277 326.6 277 327.6 276.9 328.6 276.9 329.6 277 330.6 277.1 331.2 277.2 332.1 277.4 333.1 277.5 334.1 277.7 334.7 277.7 335.6 277.7 336.6 277.8 337.6 277.8 338.6 277.9 339.6 278 340.6 278.2 341.1 278.3 342.1 278.7 342.6 279 343.1 279.2 343.7 279.7 344.3 280.2 344.7 280.7 345.1 281.2 345.5 282.2 345.4 283.2 345.1 284 344.6 284.7 344.1 285.2 343.6 285.6 343.1 286 342.6 286.3 341.7 286.7 341.1 287 340.4 287.2 339.6 287.4 338.6 287.6 337.8 287.7 337.1 287.8 336.1 287.9 335.1 287.9 334.1 288.1 333.1 288.2 332.6 288.3 331.6 288.4 330.6 288.6 329.6 288.7 329.1 288.7 328.1 288.8 327.1 288.8 326.1 288.8 325.3 288.7 324.6 288.7 323.6 288.6 322.6 288.5 321.6 288.6 320.6 288.7 320.1 288.8 319.1 289.1 318.6 289.2 317.6 289.5 317.1 289.7 316.1 290 315.1 290.2 314.6 290.3 313.6 290.4 312.6 290.5 311.6 290.4 310.6 290.3 310.1 290.2 309.1 289.9 308.6 289.6 307.8 289.2 307.1 288.8 306.6 288.4 306.1 287.9 305.6 287.3 305.2 286.7 304.9 286.2 304.6 285.6 304.3 284.7 304.2 283.7 304.3 282.7 304.6 281.7 304.8 281.2 305.1 280.7 305.6 280 306.1 279.5 306.6 279.1 307.1 278.7 308 278.2 308.6 277.9 309.1 277.7 310.1 277.3 310.7 277.2Z" fill="#000" fill-opacity="0.92" stroke="none"/>
<path d="M311.3 274.2 312.1 274.1 313.1 274.1 314.1 274.1 315.1 274.2 315.6 274.2 316.6 274.3 317.6 274.4 318.6 274.5 319.6 274.6 320.6 274.6 321.6 274.5 322.6 274.5 323.6 274.4 324.6 274.3 325.6 274.2 326.5 274.2 327.1 274.2 328.1 274.2 329.1 274.2 329.6 274.2 330.6 274.3 331.6 274.3 332.6 274.4 333.6 274.5 334.6 274.6 335.6 274.7 336.1 274.7 337.1 274.7 338.1 274.8 339.1 274.9 340.1 275 341.1 275.1 341.6 275.2 342.6 275.5 343.4 275.7 344.1 275.9 344.8 276.2 345.6 276.5 346.1 276.7 347.1 277.1 347.6 277.3 348.4 277.7 349.1 278 349.6 278.3 350.3 278.7 351 279.2 351.5 279.7 352 280.2 352.4 280.7 352.7 281.2 353.1 282.2 353.1 282.7 353.1 283.2 352.7 284.2 352.4 284.7 352 285.2 351.5 285.7 350.9 286.2 350.2 286.7 349.6 287 349.1 287.3 348.2 287.7 347.6 288 347.1 288.2 346.1 288.6 345.6 288.8 344.6 289.2 344.1 289.3 343.1 289.6 342.6 289.8 341.6 290 340.8 290.2 340.1 290.4 339.1 290.5 338.1 290.6 337.5 290.7 336.6 290.8 335.6 290.9 334.6 291 333.6 291.1 332.6 291.2 332.1 291.3 331.1 291.4 330.1 291.5 329.1 291.6 328.1 291.6 327.1 291.6 326.1 291.6 325.1 291.6 324.1 291.6 323.1 291.6 322.1 291.7 321.6 291.7 320.6 291.9 319.6 292.1 319.1 292.3 318.1 292.5 317.4 292.7 316.6 292.9 315.6 293.1 314.9 293.2 314.1 293.3 313.1 293.4 312.1 293.4 311.1 293.3 310.2 293.2 309.6 293.1 308.6 292.8 308.1 292.7 307.1 292.3 306.6 292.1 305.8 291.7 305.1 291.3 304.6 290.9 304.1 290.6 303.6 290.1 303.1 289.6 302.6 289.1 302.1 288.4 301.6 287.7 301.4 287.2 301.1 286.6 300.8 285.7 300.6 284.7 300.6 284.2 300.6 283.2 300.6 282.7 300.9 281.7 301.1 281 301.5 280.2 301.8 279.7 302.1 279.2 302.6 278.6 303.1 278 303.6 277.5 304.1 277.1 304.6 276.7 305.3 276.2 306.1 275.7 306.6 275.5 307.2 275.2 308.1 274.8 308.6 274.7 309.6 274.4 310.6 274.3 311.3 274.2ZM309.6 275.7 310.6 275.5 311.6 275.4 312.6 275.3 313.6 275.3 314.6 275.3 315.6 275.4 316.6 275.5 317.6 275.7 318.1 275.7 319.1 275.8 320.1 275.8 321.1 275.8 322.1 275.7 322.6 275.7 323.6 275.6 324.6 275.5 325.6 275.4 326.6 275.3 327.6 275.3 328.6 275.3 329.6 275.3 330.6 275.4 331.6 275.5 332.6 275.7 333.1 275.7 334.1 275.8 335.1 275.9 336.1 275.9 337.1 276 338.1 276 339.1 276.1 339.9 276.2 340.6 276.3 341.6 276.5 342.2 276.7 343.1 277 343.6 277.2 344.6 277.6 345.1 277.9 345.7 278.2 346.5 278.7 347.1 279.1 347.6 279.5 348.1 279.9 348.6 280.4 349.1 281.1 349.4 281.7 349.6 282.7 349.4 283.7 349.1 284.3 348.6 284.9 348.1 285.4 347.6 285.8 347.1 286.2 346.3 286.7 345.6 287.1 345.1 287.4 344.4 287.7 343.6 288.1 343.1 288.2 342.1 288.6 341.6 288.7 340.6 289 339.7 289.2 339.1 289.3 338.1 289.4 337.1 289.5 336.1 289.6 335.1 289.7 334.6 289.8 333.6 289.9 332.6 290 331.6 290.2 331.1 290.2 330.1 290.3 329.1 290.4 328.1 290.5 327.1 290.5 326.1 290.5 325.1 290.4 324.1 290.4 323.1 290.4 322.1 290.4 321.1 290.5 320.1 290.7 319.6 290.8 318.6 291.1 318.1 291.2 317.1 291.5 316.2 291.7 315.6 291.8 314.6 292 313.6 292.1 312.6 292.2 311.6 292.1 310.6 292 309.6 291.8 309.1 291.7 308.1 291.3 307.6 291.1 306.7 290.7 306.1 290.3 305.6 290 305.1 289.6 304.6 289.1 304.1 288.6 303.6 288 303.1 287.3 302.8 286.7 302.6 286.2 302.2 285.2 302.1 284.5 302 283.7 302.1 283 302.2 282.2 302.6 281.2 302.8 280.7 303.1 280.2 303.6 279.5 304.1 278.9 304.6 278.4 305.1 278 305.6 277.6 306.1 277.2 307 276.7 307.6 276.4 308.1 276.2 309.1 275.8 309.6 275.7ZM310 276.7 310.6 276.6 311.6 276.4 312.6 276.3 313.6 276.3 314.6 276.3 315.6 276.4 316.6 276.6 317.4 276.7 318.1 276.8 319.1 276.9 320.1 276.9 321.1 276.9 322.1 276.8 323 276.7 323.6 276.6 324.6 276.5 325.6 276.4 326.6 276.3 327.6 276.3 328.6 276.3 329.6 276.4 330.6 276.5 331.6 276.6 332.1 276.7 333.1 276.8 334.1 277 335.1 277 336.1 277.1 337.1 277.1 338.1 277.1 338.9 277.2 339.6 277.3 340.6 277.5 341.5 277.7 342.1 277.9 342.8 278.2 343.6 278.6 344.1 278.9 344.6 279.2 345.2 279.7 345.7 280.2 346.1 280.7 346.6 281.5 346.8 282.2 346.8 283.2 346.6 283.8 346.1 284.6 345.6 285.2 345.1 285.6 344.6 286 344.1 286.3 343.5 286.7 342.6 287.1 342.1 287.3 341.1 287.7 340.6 287.9 339.6 288.1 339.1 288.2 338.1 288.3 337.1 288.5 336.1 288.5 335.1 288.6 334.3 288.7 333.6 288.8 332.6 288.9 331.6 289.1 330.8 289.2 330.1 289.3 329.1 289.4 328.1 289.4 327.1 289.4 326.1 289.4 325.1 289.3 324.1 289.3 323.1 289.2 322.1 289.2 321.1 289.3 320.1 289.5 319.3 289.7 318.6 289.9 317.6 290.2 317.1 290.4 316.1 290.6 315.6 290.7 314.6 290.9 313.6 291 312.6 291.1 311.6 291.1 310.6 290.9 309.6 290.7 309.1 290.5 308.3 290.2 307.6 289.9 307.1 289.6 306.5 289.2 305.9 288.7 305.4 288.2 305 287.7 304.6 287.2 304.1 286.4 303.8 285.7 303.6 285.2 303.4 284.2 303.4 283.2 303.6 282.2 303.7 281.7 304.1 280.9 304.6 280.2 305 279.7 305.4 279.2 306 278.7 306.6 278.3 307.1 277.9 307.6 277.6 308.5 277.2 309.1 277 310 276.7Z" fill="none" stroke="#000" stroke-width="0.7"/>
<path d="M422.5 277.9 423.6 277.7 424.7 277.6 425.8 277.6 426.9 277.7 428 277.9 428.6 278.1 429.5 278.4 430.2 278.8 430.8 279.1 431.3 279.6 431.9 280 432.4 280.6 433 281.3 433.4 282 433.6 282.5 433.9 283.5 434 284.5 434 285.6 433.7 286.6 433.5 287.1 433 288.1 432.6 288.6 432.2 289.1 431.7 289.6 431.1 290.1 430.4 290.6 429.7 291.1 429.1 291.3 428.1 291.7 427.4 291.8 426.3 292 425.2 292.1 424.1 292.1 423 292.1 421.9 292 420.8 291.9 419.7 291.7 419.2 291.5 418.1 291.2 417.5 291 416.8 290.6 416 290.1 415.3 289.6 414.8 289.1 414.4 288.6 414.1 288.1 413.7 287.1 413.6 286.1 413.7 285 414.1 284 414.3 283.5 414.7 282.9 415.3 282.2 415.8 281.7 416.4 281.2 416.9 280.7 417.5 280.3 418.1 279.9 418.8 279.4 419.7 279 420.3 278.7 420.9 278.4 421.9 278.1 422.5 277.9Z" fill="#000" fill-opacity="0.92" stroke="none"/>
<path d="M421.7 274.9 422.5 274.7 423.6 274.5 424.7 274.4 425.8 274.4 426.9 274.5 428 274.6 429.1 274.8 429.7 275 430.7 275.4 431.3 275.6 431.9 275.9 432.7 276.4 433.5 276.9 434.1 277.3 434.6 277.8 435.2 278.3 435.7 278.9 436.2 279.4 436.5 279.9 436.8 280.5 437.3 281.5 437.5 282 437.7 283 437.9 284 437.9 285 437.8 286.1 437.5 287.1 437.4 287.6 437 288.6 436.7 289.1 436.3 289.9 435.7 290.6 435.2 291.2 434.7 291.7 434.1 292.2 433.5 292.6 433 293 432.4 293.4 431.8 293.7 430.8 294.2 430.2 294.4 429.2 294.7 428.6 294.9 427.4 295.1 426.3 295.2 425.8 295.2 424.9 295.2 424.1 295.2 423 295.1 421.9 295 420.8 294.8 420.3 294.7 419.2 294.4 418.4 294.2 417.5 293.9 416.9 293.7 415.8 293.2 415.3 293 414.7 292.6 414 292.2 413.4 291.7 412.8 291.2 412.3 290.6 412 290.1 411.4 289.3 411.1 288.6 410.9 287.9 410.7 287.1 410.6 286.1 410.6 285 410.9 284.1 411 283.5 411.4 282.7 411.8 282 412.2 281.5 412.6 281 413.1 280.3 413.6 279.7 414.2 279.1 414.7 278.6 415.3 278.1 415.8 277.7 416.4 277.3 417 276.9 417.9 276.4 418.6 276 419.2 275.8 420.1 275.4 420.8 275.1 421.7 274.9ZM423.2 275.9 424.1 275.7 425.2 275.7 426.3 275.7 427.4 275.9 428 276 429.1 276.2 429.7 276.4 430.7 276.9 431.3 277.2 431.9 277.5 432.5 277.9 433.1 278.4 433.7 278.9 434.2 279.4 434.6 279.9 435.2 280.7 435.6 281.5 435.8 282 436.1 283 436.2 284 436.3 285 436.1 286.1 435.9 287.1 435.7 287.6 435.2 288.6 434.9 289.1 434.5 289.6 434.1 290.2 433.5 290.7 433 291.2 432.4 291.7 431.6 292.2 430.8 292.7 430.2 292.9 429.6 293.2 428.6 293.5 427.7 293.7 426.9 293.8 425.8 293.9 424.7 293.9 423.6 293.9 422.5 293.8 421.7 293.7 420.8 293.6 419.7 293.4 419.1 293.2 418.1 292.9 417.5 292.7 416.4 292.2 415.8 292 415.3 291.6 414.6 291.2 414 290.6 413.5 290.1 413 289.6 412.5 288.8 412.2 288.1 412 287.2 411.9 286.6 411.9 285.6 412 284.8 412.2 284 412.5 283.2 412.9 282.5 413.3 282 413.7 281.5 414.2 280.9 414.7 280.4 415.3 279.8 415.8 279.4 416.4 278.9 417.1 278.4 417.9 277.9 418.6 277.5 419.2 277.2 419.9 276.9 420.8 276.5 421.4 276.3 422.5 276 423.2 275.9ZM424.5 276.9 425.2 276.9 426.1 276.9 426.9 277 428 277.2 428.8 277.4 429.7 277.7 430.2 278 431 278.4 431.7 278.9 432.4 279.4 432.9 279.9 433.3 280.5 433.7 281 434.1 281.6 434.5 282.5 434.6 283 434.8 284 434.9 285 434.7 286.1 434.6 286.6 434.2 287.6 433.9 288.1 433.5 288.7 433 289.4 432.4 290 431.9 290.5 431.3 290.9 430.8 291.3 430.1 291.7 429.1 292.1 428.6 292.3 427.4 292.6 426.5 292.7 425.8 292.8 424.7 292.8 423.6 292.8 422.5 292.7 421.9 292.7 420.8 292.5 419.7 292.3 419.2 292.2 418.1 291.8 417.5 291.6 416.5 291.2 415.8 290.8 415.3 290.4 414.7 289.9 414.2 289.4 413.7 288.6 413.4 288.1 413.1 287.1 413 286.6 413 285.6 413.1 285 413.4 284 413.6 283.5 414.2 282.6 414.7 282 415.1 281.5 415.7 281 416.3 280.5 416.9 279.9 417.5 279.5 418.1 279.1 418.6 278.8 419.3 278.4 420.3 278 420.8 277.7 421.8 277.4 422.5 277.2 423.6 277 424.5 276.9Z" fill="none" stroke="#000" stroke-width="0.7"/>
<path d="M76.7 383.6 77.7 383.5 78.8 383.4 79.9 383.4 81 383.5 81.5 383.6 82.6 383.9 83.3 384.2 84.3 384.5 84.8 384.8 85.6 385.2 86.5 385.7 87 386 87.6 386.3 88.2 386.7 89.1 387.2 89.8 387.6 90.4 387.9 91.1 388.2 92 388.7 92.6 389.1 93.1 389.6 93.6 390.3 93.7 390.8 93.7 391.4 93.2 392.3 92.7 392.8 92 393.2 91.5 393.5 90.8 393.8 89.8 394.2 89.3 394.5 88.5 394.8 87.6 395.3 87 395.6 86.5 395.9 85.5 396.4 84.8 396.7 84.3 396.9 83.2 397.3 82.6 397.5 81.5 397.8 80.7 397.9 79.9 398 78.8 398.1 77.7 398.1 76.5 398.1 75.4 398.1 74.3 398 73.8 397.9 72.7 397.7 71.6 397.5 71 397.3 69.9 396.9 69.4 396.6 68.8 396.2 68.3 395.7 67.7 395.1 67.2 394.3 67 393.8 66.6 392.8 66.6 392.3 66.6 391.3 66.7 390.8 67.1 389.8 67.3 389.2 67.7 388.7 68.3 388.1 68.8 387.5 69.4 387 69.9 386.6 70.5 386.2 71.3 385.7 72.1 385.2 72.7 385 73.3 384.7 74.3 384.3 74.9 384.1 76 383.8 76.7 383.6Z" fill="#000" fill-opacity="0.92" stroke="none"/>
<path d="M76 380.6 76.5 380.5 77.7 380.4 78.8 380.3 79.9 380.3 81 380.4 82.1 380.6 82.6 380.7 83.7 380.9 84.3 381.1 85.4 381.5 85.9 381.7 87 382.1 87.6 382.3 88.4 382.6 89.3 383 89.8 383.2 90.9 383.5 91.5 383.7 92.6 384 93.3 384.2 94.2 384.4 95.3 384.7 95.9 384.8 96.8 385.2 97.6 385.5 98.1 385.8 98.7 386.2 99.4 386.7 99.9 387.2 100.3 387.7 100.9 388.5 101.3 389.2 101.4 389.8 101.6 390.8 101.5 391.8 101.4 392.3 100.9 393.3 100.6 393.8 100.2 394.3 99.6 394.8 99 395.4 98.3 395.9 97.6 396.3 97 396.5 96 396.9 95.3 397.1 94.3 397.4 93.7 397.6 92.6 397.9 92 398 90.9 398.3 90.4 398.5 89.3 398.8 88.7 399 87.6 399.3 87 399.5 85.9 399.8 85.4 400 84.3 400.4 83.7 400.5 82.6 400.8 81.7 401 81 401.1 79.9 401.2 78.8 401.2 77.7 401.2 76.5 401.1 75.4 401 74.9 400.9 73.8 400.7 72.7 400.5 72.1 400.3 71 400 70.5 399.9 69.4 399.5 68.8 399.2 68.2 398.9 67.3 398.4 66.6 397.9 66 397.4 65.5 396.9 65.1 396.4 64.7 395.9 64.4 395.3 63.9 394.3 63.7 393.8 63.5 392.8 63.4 391.8 63.5 390.8 63.8 389.8 63.9 389.2 64.4 388.3 64.7 387.7 65.1 387.2 65.5 386.7 66 386.1 66.6 385.5 67.1 385 67.7 384.5 68.3 384.1 68.9 383.6 69.6 383.1 70.5 382.6 71 382.3 71.6 382 72.5 381.6 73.2 381.3 73.8 381.1 74.9 380.8 76 380.6ZM75.1 382.1 76 381.9 77.1 381.7 78.2 381.6 79.3 381.6 80.4 381.7 81.5 381.8 82.6 382 83.2 382.2 84.3 382.5 84.8 382.7 85.9 383.1 86.5 383.4 87.1 383.6 88.2 384.1 88.7 384.3 89.4 384.7 90.4 385 90.9 385.2 92 385.5 92.6 385.7 93.7 386 94.3 386.2 95.3 386.6 95.9 386.8 96.6 387.2 97.3 387.7 97.9 388.2 98.3 388.7 98.7 389.3 99 390.3 99 391.3 98.7 392.3 98.4 392.8 98 393.3 97.5 393.8 96.8 394.3 96 394.8 95.3 395.2 94.8 395.4 93.7 395.8 93.1 396 92 396.3 91.5 396.5 90.4 396.8 89.8 397 88.7 397.4 88.2 397.6 87.2 397.9 86.5 398.2 85.8 398.4 84.8 398.8 84.3 399 83.2 399.3 82.6 399.4 81.5 399.7 80.4 399.8 79.3 399.9 78.2 399.9 77.1 399.9 76 399.8 74.9 399.7 73.8 399.5 73.2 399.4 72.1 399.2 71.1 398.9 70.5 398.7 69.7 398.4 68.8 398 68.3 397.7 67.7 397.3 67.1 396.9 66.6 396.3 66 395.7 65.5 394.8 65.2 394.3 64.9 393.5 64.8 392.8 64.7 391.8 64.8 390.8 64.9 390.2 65.3 389.2 65.6 388.7 66 388 66.6 387.3 67.1 386.7 67.7 386.2 68.3 385.7 68.8 385.3 69.4 384.9 69.9 384.5 70.5 384.1 71.3 383.6 72.1 383.2 72.7 382.9 73.5 382.6 74.3 382.3 75.1 382.1ZM75.8 383.1 76.5 383 77.7 382.8 78.8 382.8 79.9 382.8 81 382.9 82.1 383.1 82.6 383.2 83.7 383.5 84.3 383.8 85.2 384.2 85.9 384.5 86.5 384.8 87.3 385.2 88.2 385.6 88.7 385.9 89.3 386.2 90.4 386.7 90.9 386.9 91.8 387.2 92.6 387.5 93.1 387.7 94.1 388.2 94.8 388.7 95.3 389.2 95.7 389.8 96 390.3 96 391.3 95.8 391.8 95.3 392.6 94.8 393.1 94.2 393.6 93.7 393.9 92.7 394.3 92 394.6 91.3 394.8 90.4 395.2 89.8 395.4 88.7 395.8 88.2 396 87.4 396.4 86.5 396.8 85.9 397 85 397.4 84.3 397.7 83.6 397.9 82.6 398.2 81.8 398.4 81 398.6 79.9 398.7 78.8 398.8 77.7 398.8 76.5 398.8 75.4 398.7 74.3 398.6 73.2 398.4 72.7 398.3 71.6 398.1 71 397.9 69.9 397.5 69.4 397.2 68.8 396.9 68.1 396.4 67.6 395.9 67.1 395.4 66.6 394.5 66.2 393.8 66 393.2 65.9 392.3 65.9 391.3 66 390.5 66.3 389.8 66.6 389.2 67.1 388.4 67.7 387.7 68.2 387.2 68.7 386.7 69.4 386.2 69.9 385.8 70.5 385.4 71 385.1 71.8 384.7 72.7 384.2 73.2 384 74.1 383.6 74.9 383.4 75.8 383.1Z" fill="none" stroke="#000" stroke-width="0.7"/>
<path d="M185.1 385.5 186.1 385.2 187.2 385.1 188.3 385.1 189.4 385.2 190.5 385.4 191.1 385.6 192.1 386 192.7 386.3 193.3 386.6 193.8 387 194.4 387.5 194.9 388.1 195.5 388.8 195.9 389.6 196.1 390.1 196.3 391.1 196.4 392.1 196.4 393.1 196.2 394.1 196 394.7 195.5 395.7 195.1 396.2 194.6 396.7 194 397.2 193.3 397.7 192.7 398 192.2 398.3 191.1 398.7 190.5 398.8 189.4 399 188.3 399.1 187.2 399.2 186.1 399.1 185 399.1 183.9 399 182.8 398.8 182.2 398.7 181.1 398.4 180.6 398.2 179.5 397.7 178.9 397.4 178.4 397 177.8 396.4 177.3 395.7 176.9 395.2 176.7 394.6 176.5 393.6 176.5 392.6 176.7 392 177.1 391.1 177.4 390.6 177.8 390.1 178.4 389.5 178.9 389 179.5 388.5 180.1 388 180.8 387.5 181.6 387 182.2 386.7 182.8 386.4 183.6 386 184.4 385.7 185.1 385.5Z" fill="#000" fill-opacity="0.92" stroke="none"/>
<path d="M184.4 382.4 185 382.3 186.1 382.1 187.2 382 188.3 382 189.4 382.1 190.5 382.2 191.4 382.4 192.2 382.6 193 382.9 193.8 383.3 194.4 383.6 195.1 384 195.9 384.5 196.6 385 197.2 385.4 197.7 386 198.2 386.5 198.7 387 199 387.5 199.4 388.2 199.8 389.1 199.9 389.6 200.1 390.6 200.2 391.6 200.2 392.6 200.1 393.6 199.9 394.5 199.7 395.2 199.4 396 199 396.7 198.7 397.2 198.3 397.8 197.7 398.4 197.2 399 196.6 399.4 196.1 399.8 195.3 400.3 194.4 400.8 193.8 401 193.1 401.3 192.2 401.6 191.5 401.8 190.5 402 189.4 402.1 188.3 402.2 187.2 402.1 186.1 402 185 401.9 184.3 401.8 183.3 401.6 182.2 401.4 181.7 401.3 180.6 401 180 400.8 178.9 400.3 178.4 400.1 177.8 399.7 177 399.2 176.4 398.7 175.8 398.2 175.3 397.7 174.9 397.2 174.5 396.6 174 395.7 173.8 395.2 173.5 394.1 173.5 393.1 173.6 392.1 173.8 391.1 174 390.6 174.5 389.8 175 389.1 175.4 388.5 175.8 388 176.3 387.5 176.8 387 177.4 386.5 178 386 178.6 385.5 179.3 385 180 384.5 180.6 384.1 181.1 383.8 181.7 383.5 182.8 383 183.3 382.7 184.4 382.4ZM185.8 383.5 186.7 383.3 187.8 383.3 188.9 383.3 189.9 383.5 190.5 383.6 191.6 383.8 192.2 384 193.2 384.5 193.8 384.8 194.4 385.1 195 385.5 195.6 386 196.2 386.5 196.7 387 197.2 387.5 197.7 388.3 198.1 389.1 198.3 389.6 198.5 390.6 198.6 391.6 198.6 392.6 198.5 393.6 198.3 394.7 198.1 395.2 197.7 396 197.3 396.7 196.9 397.2 196.4 397.7 195.9 398.2 195.2 398.7 194.4 399.2 193.8 399.6 193.3 399.8 192.2 400.2 191.6 400.4 190.5 400.7 189.7 400.8 188.9 400.9 187.8 400.9 186.7 400.8 186 400.8 185 400.7 183.9 400.5 182.8 400.4 182.2 400.2 181.1 400 180.4 399.8 179.5 399.4 178.9 399.1 178.2 398.7 177.5 398.2 176.9 397.7 176.4 397.2 175.9 396.7 175.6 396.2 175.1 395.2 174.9 394.7 174.7 393.6 174.7 392.6 175 391.6 175.2 391.1 175.6 390.3 176.1 389.6 176.5 389.1 177 388.5 177.5 388 178.1 387.5 178.7 387 179.3 386.5 180 386 180.6 385.6 181.1 385.3 181.7 384.9 182.6 384.5 183.3 384.1 183.9 383.9 185 383.6 185.8 383.5ZM186.9 384.5 187.8 384.4 188.9 384.5 189.4 384.5 190.5 384.7 191.4 385 192.2 385.3 192.7 385.5 193.6 386 194.3 386.5 194.9 387 195.5 387.5 195.9 388 196.3 388.5 196.6 389.2 197 390.1 197.2 391 197.2 391.6 197.3 392.6 197.2 393.6 197 394.1 196.7 395.2 196.4 395.7 196.1 396.2 195.5 396.9 194.9 397.4 194.4 397.8 193.8 398.2 192.8 398.7 192.2 399 191.5 399.2 190.5 399.5 189.4 399.7 188.5 399.8 187.8 399.8 186.7 399.8 186.1 399.7 185 399.7 183.9 399.5 182.8 399.4 182.2 399.2 181.1 399 180.4 398.7 179.5 398.3 178.9 398 178.4 397.7 177.8 397.2 177.3 396.7 176.7 396 176.2 395.2 176 394.7 175.8 393.6 175.9 392.6 176.1 391.6 176.4 391.1 176.7 390.5 177.3 389.8 177.8 389.2 178.4 388.6 178.9 388.2 179.5 387.7 180 387.3 180.6 386.9 181.2 386.5 182.1 386 182.8 385.6 183.3 385.4 184.4 385 185 384.8 186.1 384.6 186.9 384.5Z" fill="none" stroke="#000" stroke-width="0.7"/>
<path d="M312.4 383.4 313.1 383.3 314.2 383.2 315.3 383.3 316.2 383.4 317 383.6 317.7 383.9 318.6 384.4 319.2 384.7 319.7 385.1 320.3 385.6 320.8 386.2 321.4 386.8 321.9 387.5 322.2 388 322.5 388.6 322.9 389.5 323 390.4 323.1 391.1 323 391.9 322.9 392.6 322.5 393.5 322.2 394.1 321.8 394.6 321.4 395.2 320.8 395.9 320.3 396.4 319.7 396.9 319.2 397.3 318.5 397.7 317.5 398.2 317 398.4 315.9 398.7 315.3 398.8 314.2 398.9 313.1 399 312 399 310.9 398.9 309.8 398.7 309.2 398.6 308.1 398.3 307.6 398.1 306.7 397.7 305.9 397.2 305.4 396.9 304.8 396.4 304.3 395.8 303.8 395.1 303.5 394.6 303.2 393.8 303 393.1 302.9 392.1 303.1 391.1 303.2 390.6 303.6 389.5 303.9 389 304.3 388.5 304.8 387.8 305.4 387.3 305.9 386.8 306.5 386.4 307 386 307.8 385.5 308.6 385 309.2 384.6 309.8 384.3 310.6 383.9 311.4 383.6 312.4 383.4Z" fill="#000" fill-opacity="0.92" stroke="none"/>
<path d="M313.1 379.9 313.7 379.8 314.8 379.8 315.5 379.9 316.4 380 317.5 380.2 318.1 380.4 319.2 380.7 319.7 381 320.5 381.4 321.4 381.9 321.9 382.3 322.5 382.7 323 383.2 323.6 383.7 324.2 384.3 324.7 384.9 325.3 385.5 325.8 386 326.4 386.4 326.9 386.7 327.8 387 328.6 387.1 329.7 387 330.3 387 331.3 386.9 332.4 386.9 333.5 386.9 334.2 387 335.2 387.2 336.3 387.5 336.9 387.7 337.5 388 338.4 388.5 339 389 339.5 389.5 339.9 390.1 340.2 390.8 340.3 391.6 340.2 392.3 339.9 393.1 339.5 393.6 339 394.1 338.3 394.6 337.4 395.1 336.9 395.3 335.8 395.6 335.2 395.7 334.1 395.9 333 396 331.9 396 330.8 396 329.7 395.9 328.6 395.9 327.5 395.9 326.7 396.2 325.8 396.6 325.3 397 324.7 397.4 324.2 397.9 323.6 398.4 323 398.9 322.5 399.3 321.9 399.7 321.2 400.2 320.3 400.7 319.7 401 319 401.3 318.1 401.6 317.3 401.8 316.4 402 315.3 402.1 314.2 402.2 313.1 402.2 312 402.2 310.9 402 309.8 401.8 309.2 401.6 308.1 401.3 307.6 401.2 306.5 400.8 305.9 400.5 305.4 400.2 304.5 399.7 303.8 399.2 303.2 398.7 302.6 398.2 302.1 397.7 301.6 397.2 301.3 396.7 300.9 396.1 300.5 395.1 300.3 394.6 300.1 393.6 300 392.6 300 391.6 300.2 390.6 300.4 389.7 300.6 389 300.9 388.2 301.3 387.5 301.6 387 302 386.4 302.6 385.7 303.2 385.2 303.7 384.6 304.3 384.1 304.8 383.7 305.4 383.2 305.9 382.8 306.5 382.4 307.2 381.9 308.1 381.4 308.7 381.1 309.2 380.8 310.3 380.4 310.9 380.2 312 380 313.1 379.9ZM312.4 381.4 313.1 381.3 314.2 381.2 315.3 381.3 316.1 381.4 317 381.5 318.1 381.9 318.6 382.1 319.3 382.4 320.2 382.9 320.8 383.3 321.4 383.8 321.9 384.2 322.5 384.8 323 385.4 323.5 386 324 386.5 324.4 387 324.8 387.5 325.3 388.1 325.8 388.6 326.4 389.1 327.5 389.5 328.6 389.4 329.7 389.2 330.2 389 331.3 388.8 332.4 388.7 333.5 388.7 334.7 388.9 335.2 389.1 336.1 389.5 336.8 390.1 337.2 390.6 337.5 391.1 337.5 392.1 337.2 392.6 336.7 393.1 335.9 393.6 335.2 393.9 334.3 394.1 333.5 394.2 332.4 394.3 331.3 394.3 330.3 394.1 329.7 394 328.6 393.7 327.6 393.6 327.2 393.6 326.4 393.8 325.8 394.1 325.1 394.6 324.6 395.1 324.1 395.7 323.6 396.2 323 396.8 322.5 397.3 321.9 397.8 321.4 398.3 320.8 398.7 320 399.2 319.2 399.6 318.6 399.9 317.5 400.2 317 400.4 315.9 400.6 314.8 400.8 314.2 400.8 313.1 400.8 312 400.8 311.4 400.7 310.3 400.6 309.2 400.3 308.7 400.2 307.6 399.9 307 399.6 306.1 399.2 305.4 398.8 304.8 398.5 304.3 398.1 303.7 397.6 303.2 397.1 302.6 396.4 302.1 395.7 301.8 395.1 301.5 394.3 301.3 393.6 301.2 392.6 301.2 391.6 301.4 390.6 301.6 390.1 301.9 389 302.2 388.5 302.6 387.8 303.2 387 303.6 386.5 304.2 386 304.7 385.5 305.4 385 305.9 384.5 306.5 384.1 307 383.7 307.6 383.4 308.3 382.9 309.2 382.4 309.8 382.1 310.4 381.9 311.4 381.6 312.4 381.4ZM311.3 382.9 312 382.7 313.1 382.6 314.2 382.5 315.3 382.5 316.4 382.7 317.2 382.9 318.1 383.3 318.6 383.5 319.4 383.9 320.1 384.4 320.7 385 321.3 385.5 321.7 386 322.2 386.5 322.5 387 323 387.8 323.5 388.5 323.7 389 324.1 390.1 324.2 390.6 324.3 391.6 324.2 392.2 323.8 393.1 323.6 393.6 323 394.4 322.5 395.1 322.1 395.7 321.7 396.2 321.2 396.7 320.6 397.2 320 397.7 319.2 398.2 318.6 398.5 318.1 398.7 317 399.1 316.4 399.3 315.3 399.5 314.2 399.6 313.1 399.7 312 399.6 310.9 399.5 309.8 399.4 309.2 399.2 308.1 398.9 307.5 398.7 306.5 398.3 305.9 398 305.4 397.6 304.8 397.2 304.2 396.7 303.7 396.1 303.2 395.4 302.7 394.6 302.6 394.1 302.3 393.1 302.3 392.1 302.4 391.1 302.6 390.4 302.9 389.5 303.2 389 303.7 388.1 304.2 387.5 304.7 387 305.3 386.5 305.9 386 306.5 385.6 307 385.2 307.6 384.8 308.1 384.4 309 383.9 309.8 383.5 310.3 383.2 311.3 382.9Z" fill="none" stroke="#000" stroke-width="0.7"/>
<path d="M422.4 384.9 423.2 384.8 424.3 384.6 425.4 384.7 426.5 384.8 427 384.9 428.2 385.3 428.7 385.5 429.6 385.9 430.4 386.4 430.9 386.8 431.5 387.2 432 387.8 432.6 388.5 432.9 389 433.1 389.5 433.4 390.5 433.5 391.5 433.5 392.6 433.3 393.6 433.1 394.1 432.6 395.1 432.2 395.6 431.8 396.1 431.2 396.6 430.6 397.1 429.8 397.6 429.3 397.9 428.7 398.2 427.6 398.6 427 398.7 425.9 398.9 424.8 399 423.7 399.1 422.6 399.1 421.5 399 420.4 398.9 419.3 398.7 418.8 398.5 417.7 398.2 417.1 398 416.5 397.6 415.7 397.1 415.1 396.6 414.6 396.1 414.2 395.6 413.8 395 413.4 394.1 413.3 393.1 413.4 392 413.7 391 414 390.5 414.3 389.9 414.9 389.2 415.4 388.7 416 388.2 416.5 387.7 417.1 387.3 417.7 386.9 418.5 386.4 419.3 386 419.9 385.7 420.7 385.4 421.5 385.1 422.4 384.9Z" fill="#000" fill-opacity="0.92" stroke="none"/>
<path d="M421.4 381.9 422.1 381.7 423.2 381.5 424.3 381.4 425.4 381.4 426.5 381.5 427.6 381.7 428.4 381.9 429.3 382.1 430.1 382.4 430.9 382.7 431.5 382.9 432.3 383.4 433.1 383.9 433.7 384.3 434.2 384.7 434.8 385.2 435.3 385.8 435.8 386.4 436.2 386.9 436.4 387.5 436.9 388.5 437.1 389 437.3 390 437.5 391 437.5 392 437.4 393.1 437.2 394.1 437 394.7 436.6 395.6 436.3 396.1 435.9 396.8 435.3 397.6 434.8 398.2 434.3 398.7 433.7 399.2 433.1 399.6 432.6 400 432 400.4 431.4 400.7 430.4 401.2 429.8 401.4 428.7 401.7 428.2 401.8 427 402 425.9 402.1 424.8 402.1 423.7 402.1 422.6 402 421.5 401.9 420.5 401.7 419.9 401.6 418.8 401.3 418.2 401.2 417.1 400.8 416.5 400.6 415.6 400.2 414.9 399.8 414.3 399.5 413.8 399.1 413.2 398.7 412.6 398.2 412.1 397.6 411.6 397 411 396.1 410.8 395.6 410.5 394.6 410.3 394.1 410.2 393.1 410.3 392 410.5 391.2 410.7 390.5 411 389.7 411.4 389 411.8 388.5 412.2 388 412.7 387.4 413.2 386.8 413.8 386.2 414.3 385.7 414.9 385.2 415.4 384.8 416 384.4 416.7 383.9 417.6 383.4 418.2 383.1 418.8 382.8 419.8 382.4 420.4 382.1 421.4 381.9ZM423.4 382.9 424.3 382.8 425.4 382.8 426.4 382.9 427 383 428.2 383.2 428.7 383.4 429.8 383.8 430.4 384 431.2 384.4 432 384.9 432.6 385.3 433.1 385.7 433.7 386.3 434.2 386.9 434.6 387.5 434.9 388 435.3 388.8 435.6 389.5 435.8 390.5 435.9 391.2 435.9 392 435.9 392.6 435.7 393.6 435.3 394.6 435.1 395.1 434.8 395.7 434.2 396.6 433.8 397.1 433.3 397.6 432.7 398.2 432 398.7 431.5 399 430.9 399.4 430.2 399.7 429.3 400.1 428.7 400.3 427.6 400.5 426.5 400.7 425.9 400.7 424.8 400.8 423.7 400.8 422.6 400.8 422 400.7 421 400.6 419.9 400.4 419 400.2 418.2 400 417.3 399.7 416.5 399.4 416 399.1 415.2 398.7 414.4 398.2 413.8 397.6 413.3 397.1 412.8 396.6 412.5 396.1 412.1 395.5 411.7 394.6 411.6 393.9 411.5 393.1 411.6 392 411.7 391.5 412 390.5 412.3 390 412.7 389.3 413.2 388.6 413.8 388 414.3 387.5 414.8 386.9 415.4 386.4 416 385.9 416.5 385.5 417.1 385.2 417.7 384.9 418.5 384.4 419.3 384 419.9 383.8 421 383.4 421.5 383.2 422.6 383 423.4 382.9ZM421.6 384.4 422.6 384.2 423.7 384 424.8 384 425.9 384 427 384.2 427.8 384.4 428.7 384.7 429.3 384.9 430.3 385.4 430.9 385.8 431.5 386.1 432 386.6 432.6 387.1 433.1 387.8 433.6 388.5 433.8 389 434.2 390 434.3 390.5 434.4 391.5 434.4 392.6 434.2 393.4 434 394.1 433.7 394.9 433.2 395.6 432.9 396.1 432.4 396.6 431.8 397.1 431.2 397.6 430.4 398.2 429.8 398.5 429.3 398.8 428.2 399.2 427.6 399.3 426.5 399.5 425.4 399.6 424.7 399.7 423.7 399.7 422.7 399.7 422.1 399.7 421 399.6 419.9 399.4 419 399.2 418.2 399 417.4 398.7 416.5 398.3 416 398 415.4 397.6 414.7 397.1 414.2 396.6 413.8 396.1 413.2 395.3 412.9 394.6 412.7 393.7 412.6 393.1 412.7 392.1 412.8 391.5 413.2 390.5 413.5 390 413.9 389.5 414.3 388.9 414.9 388.3 415.4 387.8 416 387.3 416.5 386.9 417.2 386.4 418 385.9 418.8 385.5 419.3 385.3 420.1 384.9 421 384.6 421.6 384.4Z" fill="none" stroke="#000" stroke-width="0.7"/>
<ellipse cx="77.8" cy="71.8" rx="0.9" ry="0.6" fill="#fff" opacity="0.75"/>
<ellipse cx="188.6" cy="71.0" rx="0.9" ry="0.6" fill="#fff" opacity="0.75"/>
<ellipse cx="313.6" cy="70.4" rx="0.9" ry="0.6" fill="#fff" opacity="0.75"/>
<ellipse cx="424.5" cy="71.2" rx="0.9" ry="0.6" fill="#fff" opacity="0.75"/>
<ellipse cx="78.4" cy="177.4" rx="0.9" ry="0.6" fill="#fff" opacity="0.75"/>
<ellipse cx="83.0" cy="177.2" rx="0.9" ry="0.6" fill="#fff" opacity="0.75"/>
<ellipse cx="95.8" cy="177.0" rx="0.9" ry="0.6" fill="#fff" opacity="0.75"/>
<ellipse cx="188.8" cy="178.6" rx="0.9" ry="0.6" fill="#fff" opacity="0.75"/>
<ellipse cx="312.4" cy="177.2" rx="0.9" ry="0.6" fill="#fff" opacity="0.75"/>
<ellipse cx="329.0" cy="176.8" rx="0.9" ry="0.6" fill="#fff" opacity="0.75"/>
<ellipse cx="424.2" cy="178.4" rx="0.9" ry="0.6" fill="#fff" opacity="0.75"/>
<ellipse cx="78.0" cy="284.8" rx="0.9" ry="0.6" fill="#fff" opacity="0.75"/>
<ellipse cx="95.6" cy="283.0" rx="0.9" ry="0.6" fill="#fff" opacity="0.75"/>
<ellipse cx="188.4" cy="285.0" rx="0.9" ry="0.6" fill="#fff" opacity="0.75"/>
<ellipse cx="313.0" cy="283.8" rx="0.9" ry="0.6" fill="#fff" opacity="0.75"/>
<ellipse cx="329.0" cy="283.0" rx="0.9" ry="0.6" fill="#fff" opacity="0.75"/>
<ellipse cx="424.6" cy="285.0" rx="0.9" ry="0.6" fill="#fff" opacity="0.75"/>
<ellipse cx="78.4" cy="391.0" rx="0.9" ry="0.6" fill="#fff" opacity="0.75"/>
<ellipse cx="187.6" cy="392.2" rx="0.9" ry="0.6" fill="#fff" opacity="0.75"/>
<ellipse cx="313.8" cy="391.2" rx="0.9" ry="0.6" fill="#fff" opacity="0.75"/>
<ellipse cx="424.2" cy="392.0" rx="0.9" ry="0.6" fill="#fff" opacity="0.75"/>
</g>
<g id="panelB">
<text x="0.40" y="515.60" font-size="24" text-anchor="start" font-weight="bold">B</text>
<line x1="62.50" y1="672.85" x2="62.50" y2="525.45" stroke="#000" stroke-width="1.3"/>
<line x1="55.00" y1="672.20" x2="247.05" y2="672.20" stroke="#000" stroke-width="1.3"/>
<line x1="62.40" y1="672.20" x2="62.40" y2="678.70" stroke="#000" stroke-width="1.3"/>
<line x1="93.00" y1="672.20" x2="93.00" y2="678.70" stroke="#000" stroke-width="1.3"/>
<line x1="122.90" y1="672.20" x2="122.90" y2="678.70" stroke="#000" stroke-width="1.3"/>
<line x1="153.80" y1="672.20" x2="153.80" y2="678.70" stroke="#000" stroke-width="1.3"/>
<line x1="184.90" y1="672.20" x2="184.90" y2="678.70" stroke="#000" stroke-width="1.3"/>
<line x1="215.40" y1="672.20" x2="215.40" y2="678.70" stroke="#000" stroke-width="1.3"/>
<line x1="246.40" y1="672.20" x2="246.40" y2="678.70" stroke="#000" stroke-width="1.3"/>
<line x1="55.00" y1="672.20" x2="62.50" y2="672.20" stroke="#000" stroke-width="1.3"/>
<text x="52.30" y="675.70" font-size="11" text-anchor="end" font-weight="normal">0</text>
<line x1="55.00" y1="642.98" x2="62.50" y2="642.98" stroke="#000" stroke-width="1.3"/>
<text x="52.30" y="646.48" font-size="11" text-anchor="end" font-weight="normal">20</text>
<line x1="55.00" y1="613.76" x2="62.50" y2="613.76" stroke="#000" stroke-width="1.3"/>
<text x="52.30" y="617.26" font-size="11" text-anchor="end" font-weight="normal">40</text>
<line x1="55.00" y1="584.54" x2="62.50" y2="584.54" stroke="#000" stroke-width="1.3"/>
<text x="52.30" y="588.04" font-size="11" text-anchor="end" font-weight="normal">60</text>
<line x1="55.00" y1="555.32" x2="62.50" y2="555.32" stroke="#000" stroke-width="1.3"/>
<text x="52.30" y="558.82" font-size="11" text-anchor="end" font-weight="normal">80</text>
<line x1="55.00" y1="526.10" x2="62.50" y2="526.10" stroke="#000" stroke-width="1.3"/>
<text x="52.30" y="529.60" font-size="11" text-anchor="end" font-weight="normal">100</text>
<text x="25.40" y="599.30" font-size="11.5" text-anchor="middle" font-weight="normal" transform="rotate(-90 25.40 599.30)">IFN-γ (ng ml<tspan dy="-3.6" font-size="6.5">-1</tspan><tspan dy="3.6">)</tspan></text>
<rect x="96.10" y="531.36" width="8.90" height="140.84" fill="#000" stroke="none" stroke-width="0"/>
<line x1="100.95" y1="531.36" x2="100.95" y2="519.38" stroke="#000" stroke-width="1.2"/>
<line x1="96.15" y1="519.38" x2="105.35" y2="519.38" stroke="#000" stroke-width="1.3"/>
<rect x="105.50" y="668.76" width="6.70" height="3.44" fill="#fff" stroke="#000" stroke-width="1.0"/>
<line x1="109.25" y1="668.26" x2="109.25" y2="667.67" stroke="#000" stroke-width="1.2"/>
<line x1="104.45" y1="667.67" x2="113.65" y2="667.67" stroke="#000" stroke-width="1.3"/>
<rect x="113.20" y="669.78" width="7.20" height="2.42" fill="#c8c8c8" stroke="#000" stroke-width="1.0"/>
<line x1="117.20" y1="669.28" x2="117.20" y2="668.55" stroke="#000" stroke-width="1.2"/>
<line x1="112.40" y1="668.55" x2="121.60" y2="668.55" stroke="#000" stroke-width="1.3"/>
<rect x="125.90" y="611.57" width="8.90" height="60.63" fill="#000" stroke="none" stroke-width="0"/>
<line x1="130.75" y1="611.57" x2="130.75" y2="602.07" stroke="#000" stroke-width="1.2"/>
<line x1="125.95" y1="602.07" x2="135.15" y2="602.07" stroke="#000" stroke-width="1.3"/>
<line x1="134.30" y1="621.07" x2="135.80" y2="621.07" stroke="#000" stroke-width="1.2"/>
<rect x="135.30" y="671.24" width="6.90" height="0.96" fill="#fff" stroke="#000" stroke-width="1.0"/>
<line x1="139.15" y1="670.74" x2="139.15" y2="670.30" stroke="#000" stroke-width="1.2"/>
<line x1="134.35" y1="670.30" x2="143.55" y2="670.30" stroke="#000" stroke-width="1.3"/>
<rect x="157.10" y="667.23" width="8.90" height="4.97" fill="#000" stroke="none" stroke-width="0"/>
<line x1="161.95" y1="667.23" x2="161.95" y2="664.90" stroke="#000" stroke-width="1.2"/>
<line x1="157.15" y1="664.90" x2="166.35" y2="664.90" stroke="#000" stroke-width="1.3"/>
<rect x="166.50" y="672.12" width="6.70" height="0.08" fill="#fff" stroke="#000" stroke-width="1.0"/>
<rect x="187.90" y="645.17" width="7.30" height="27.03" fill="#000" stroke="none" stroke-width="0"/>
<line x1="192.10" y1="645.17" x2="192.10" y2="636.41" stroke="#000" stroke-width="1.2"/>
<line x1="187.50" y1="636.41" x2="196.70" y2="636.41" stroke="#000" stroke-width="1.3"/>
<line x1="194.70" y1="651.75" x2="196.70" y2="651.75" stroke="#000" stroke-width="1.2"/>
<rect x="195.70" y="672.12" width="6.70" height="0.08" fill="#fff" stroke="#000" stroke-width="1.0"/>
<rect x="217.70" y="527.56" width="8.90" height="144.64" fill="#000" stroke="none" stroke-width="0"/>
<line x1="222.55" y1="527.56" x2="222.55" y2="511.49" stroke="#000" stroke-width="1.2"/>
<line x1="217.75" y1="511.49" x2="226.95" y2="511.49" stroke="#000" stroke-width="1.3"/>
<line x1="226.10" y1="540.71" x2="227.60" y2="540.71" stroke="#000" stroke-width="1.2"/>
<rect x="227.10" y="656.92" width="5.90" height="15.28" fill="#fff" stroke="#000" stroke-width="1.0"/>
<line x1="230.45" y1="656.42" x2="230.45" y2="654.96" stroke="#000" stroke-width="1.2"/>
<line x1="225.65" y1="654.96" x2="234.85" y2="654.96" stroke="#000" stroke-width="1.3"/>
<line x1="230.45" y1="656.42" x2="230.45" y2="657.59" stroke="#000" stroke-width="1.2"/>
<line x1="225.65" y1="657.59" x2="234.85" y2="657.59" stroke="#000" stroke-width="1.3"/>
<rect x="234.00" y="645.09" width="7.50" height="27.11" fill="#c8c8c8" stroke="#000" stroke-width="1.0"/>
<line x1="238.15" y1="644.59" x2="238.15" y2="639.77" stroke="#000" stroke-width="1.2"/>
<line x1="233.35" y1="639.77" x2="242.55" y2="639.77" stroke="#000" stroke-width="1.3"/>
<line x1="238.15" y1="644.59" x2="238.15" y2="645.90" stroke="#000" stroke-width="1.2"/>
<line x1="233.35" y1="645.90" x2="242.55" y2="645.90" stroke="#000" stroke-width="1.3"/>
<rect x="65.50" y="671.25" width="24.60" height="1.90" fill="#000" stroke="none" stroke-width="0"/>
<text x="83.00" y="682.80" font-size="11" text-anchor="end" font-weight="normal" transform="rotate(-45 83.00 682.80)">medium</text>
<text x="113.25" y="682.80" font-size="11" text-anchor="end" font-weight="normal" transform="rotate(-45 113.25 682.80)">NK1.1</text>
<text x="143.65" y="682.80" font-size="11" text-anchor="end" font-weight="normal" transform="rotate(-45 143.65 682.80)">Ly49D</text>
<text x="174.65" y="682.80" font-size="11" text-anchor="end" font-weight="normal" transform="rotate(-45 174.65 682.80)">Ly49H</text>
<text x="205.45" y="682.80" font-size="11" text-anchor="end" font-weight="normal" transform="rotate(-45 205.45 682.80)">NKG2D</text>
<text x="236.20" y="682.80" font-size="11" text-anchor="end" font-weight="normal" transform="rotate(-45 236.20 682.80)">PMA/Iono</text>
<line x1="332.80" y1="673.65" x2="332.80" y2="524.85" stroke="#000" stroke-width="1.3"/>
<line x1="325.30" y1="673.00" x2="517.65" y2="673.00" stroke="#000" stroke-width="1.3"/>
<line x1="333.00" y1="673.00" x2="333.00" y2="679.50" stroke="#000" stroke-width="1.3"/>
<line x1="363.60" y1="673.00" x2="363.60" y2="679.50" stroke="#000" stroke-width="1.3"/>
<line x1="393.50" y1="673.00" x2="393.50" y2="679.50" stroke="#000" stroke-width="1.3"/>
<line x1="424.40" y1="673.00" x2="424.40" y2="679.50" stroke="#000" stroke-width="1.3"/>
<line x1="455.50" y1="673.00" x2="455.50" y2="679.50" stroke="#000" stroke-width="1.3"/>
<line x1="486.00" y1="673.00" x2="486.00" y2="679.50" stroke="#000" stroke-width="1.3"/>
<line x1="517.00" y1="673.00" x2="517.00" y2="679.50" stroke="#000" stroke-width="1.3"/>
<line x1="325.30" y1="673.00" x2="332.80" y2="673.00" stroke="#000" stroke-width="1.3"/>
<text x="322.60" y="676.50" font-size="11" text-anchor="end" font-weight="normal">0</text>
<line x1="325.30" y1="643.50" x2="332.80" y2="643.50" stroke="#000" stroke-width="1.3"/>
<text x="322.60" y="647.00" font-size="11" text-anchor="end" font-weight="normal">1</text>
<line x1="325.30" y1="614.00" x2="332.80" y2="614.00" stroke="#000" stroke-width="1.3"/>
<text x="322.60" y="617.50" font-size="11" text-anchor="end" font-weight="normal">2</text>
<line x1="325.30" y1="584.50" x2="332.80" y2="584.50" stroke="#000" stroke-width="1.3"/>
<text x="322.60" y="588.00" font-size="11" text-anchor="end" font-weight="normal">3</text>
<line x1="325.30" y1="555.00" x2="332.80" y2="555.00" stroke="#000" stroke-width="1.3"/>
<text x="322.60" y="558.50" font-size="11" text-anchor="end" font-weight="normal">4</text>
<line x1="325.30" y1="525.50" x2="332.80" y2="525.50" stroke="#000" stroke-width="1.3"/>
<text x="322.60" y="529.00" font-size="11" text-anchor="end" font-weight="normal">5</text>
<text x="295.40" y="593.90" font-size="11.5" text-anchor="middle" font-weight="normal" transform="rotate(-90 295.40 593.90)">GM-CSF (ng ml<tspan dy="-3.6" font-size="6.5">-1</tspan><tspan dy="3.6">)</tspan></text>
<rect x="366.70" y="563.26" width="8.90" height="109.74" fill="#000" stroke="none" stroke-width="0"/>
<line x1="371.55" y1="563.26" x2="371.55" y2="521.66" stroke="#000" stroke-width="1.2"/>
<line x1="366.75" y1="521.66" x2="375.95" y2="521.66" stroke="#000" stroke-width="1.3"/>
<rect x="376.10" y="666.12" width="6.70" height="6.88" fill="#fff" stroke="#000" stroke-width="1.0"/>
<line x1="379.85" y1="665.62" x2="379.85" y2="665.03" stroke="#000" stroke-width="1.2"/>
<line x1="375.05" y1="665.03" x2="384.25" y2="665.03" stroke="#000" stroke-width="1.3"/>
<rect x="383.80" y="667.60" width="7.20" height="5.40" fill="#c8c8c8" stroke="#000" stroke-width="1.0"/>
<line x1="387.80" y1="667.10" x2="387.80" y2="665.92" stroke="#000" stroke-width="1.2"/>
<line x1="383.00" y1="665.92" x2="392.20" y2="665.92" stroke="#000" stroke-width="1.3"/>
<line x1="387.80" y1="667.10" x2="387.80" y2="668.58" stroke="#000" stroke-width="1.2"/>
<line x1="383.00" y1="668.58" x2="392.20" y2="668.58" stroke="#000" stroke-width="1.3"/>
<rect x="396.50" y="616.95" width="8.90" height="56.05" fill="#000" stroke="none" stroke-width="0"/>
<line x1="401.35" y1="616.95" x2="401.35" y2="611.93" stroke="#000" stroke-width="1.2"/>
<line x1="396.55" y1="611.93" x2="405.75" y2="611.93" stroke="#000" stroke-width="1.3"/>
<line x1="404.90" y1="621.38" x2="406.40" y2="621.38" stroke="#000" stroke-width="1.2"/>
<rect x="405.90" y="671.43" width="6.90" height="1.57" fill="#fff" stroke="#000" stroke-width="1.0"/>
<line x1="409.75" y1="670.93" x2="409.75" y2="670.35" stroke="#000" stroke-width="1.2"/>
<line x1="404.95" y1="670.35" x2="414.15" y2="670.35" stroke="#000" stroke-width="1.3"/>
<rect x="413.80" y="671.43" width="7.20" height="1.57" fill="#c8c8c8" stroke="#000" stroke-width="1.0"/>
<line x1="417.80" y1="670.93" x2="417.80" y2="670.35" stroke="#000" stroke-width="1.2"/>
<line x1="413.00" y1="670.35" x2="422.20" y2="670.35" stroke="#000" stroke-width="1.3"/>
<rect x="427.70" y="665.33" width="8.90" height="7.67" fill="#000" stroke="none" stroke-width="0"/>
<line x1="432.55" y1="665.33" x2="432.55" y2="662.38" stroke="#000" stroke-width="1.2"/>
<line x1="427.75" y1="662.38" x2="436.95" y2="662.38" stroke="#000" stroke-width="1.3"/>
<line x1="436.10" y1="667.69" x2="437.60" y2="667.69" stroke="#000" stroke-width="1.2"/>
<rect x="437.10" y="672.62" width="6.70" height="0.38" fill="#fff" stroke="#000" stroke-width="1.0"/>
<rect x="458.50" y="633.76" width="7.30" height="39.24" fill="#000" stroke="none" stroke-width="0"/>
<line x1="462.70" y1="633.76" x2="462.70" y2="614.88" stroke="#000" stroke-width="1.2"/>
<line x1="458.10" y1="614.88" x2="467.30" y2="614.88" stroke="#000" stroke-width="1.3"/>
<line x1="465.30" y1="650.88" x2="467.30" y2="650.88" stroke="#000" stroke-width="1.2"/>
<rect x="466.30" y="672.32" width="6.70" height="0.68" fill="#fff" stroke="#000" stroke-width="1.0"/>
<rect x="474.00" y="672.32" width="7.20" height="0.68" fill="#c8c8c8" stroke="#000" stroke-width="1.0"/>
<rect x="488.30" y="612.82" width="8.90" height="60.18" fill="#000" stroke="none" stroke-width="0"/>
<line x1="493.15" y1="612.82" x2="493.15" y2="603.09" stroke="#000" stroke-width="1.2"/>
<line x1="488.35" y1="603.09" x2="497.55" y2="603.09" stroke="#000" stroke-width="1.3"/>
<line x1="496.70" y1="622.26" x2="498.20" y2="622.26" stroke="#000" stroke-width="1.2"/>
<rect x="497.70" y="665.24" width="5.90" height="7.76" fill="#fff" stroke="#000" stroke-width="1.0"/>
<line x1="501.05" y1="664.74" x2="501.05" y2="664.15" stroke="#000" stroke-width="1.2"/>
<line x1="496.25" y1="664.15" x2="505.45" y2="664.15" stroke="#000" stroke-width="1.3"/>
<line x1="501.05" y1="664.74" x2="501.05" y2="665.62" stroke="#000" stroke-width="1.2"/>
<line x1="496.25" y1="665.62" x2="505.45" y2="665.62" stroke="#000" stroke-width="1.3"/>
<rect x="504.60" y="656.10" width="7.50" height="16.90" fill="#c8c8c8" stroke="#000" stroke-width="1.0"/>
<line x1="508.75" y1="655.60" x2="508.75" y2="652.35" stroke="#000" stroke-width="1.2"/>
<line x1="503.95" y1="652.35" x2="513.15" y2="652.35" stroke="#000" stroke-width="1.3"/>
<line x1="508.75" y1="655.60" x2="508.75" y2="656.77" stroke="#000" stroke-width="1.2"/>
<line x1="503.95" y1="656.77" x2="513.15" y2="656.77" stroke="#000" stroke-width="1.3"/>
<rect x="336.10" y="672.05" width="24.60" height="1.90" fill="#000" stroke="none" stroke-width="0"/>
<text x="353.60" y="683.60" font-size="11" text-anchor="end" font-weight="normal" transform="rotate(-45 353.60 683.60)">medium</text>
<text x="383.85" y="683.60" font-size="11" text-anchor="end" font-weight="normal" transform="rotate(-45 383.85 683.60)">NK1.1</text>
<text x="414.25" y="683.60" font-size="11" text-anchor="end" font-weight="normal" transform="rotate(-45 414.25 683.60)">Ly49D</text>
<text x="445.25" y="683.60" font-size="11" text-anchor="end" font-weight="normal" transform="rotate(-45 445.25 683.60)">Ly49H</text>
<text x="476.05" y="683.60" font-size="11" text-anchor="end" font-weight="normal" transform="rotate(-45 476.05 683.60)">NKG2D</text>
<text x="506.80" y="683.60" font-size="11" text-anchor="end" font-weight="normal" transform="rotate(-45 506.80 683.60)">PMA/Iono</text>
<rect x="455.40" y="517.40" width="13.80" height="13.20" fill="#000" stroke="none" stroke-width="0"/>
<text x="475.20" y="528.20" font-size="11.5" text-anchor="start" font-weight="normal">wt</text>
<rect x="456.40" y="540.70" width="11.80" height="11.20" fill="#fff" stroke="#000" stroke-width="2.0"/>
<text x="475.20" y="550.50" font-size="11.5" text-anchor="start" font-weight="normal">Bcl10-/-</text>
<rect x="456.40" y="563.00" width="11.80" height="11.20" fill="#c8c8c8" stroke="#000" stroke-width="2.0"/>
<text x="475.20" y="572.80" font-size="11.5" text-anchor="start" font-weight="normal">Malt1-/-</text>
<line x1="62.40" y1="900.75" x2="62.40" y2="754.01" stroke="#000" stroke-width="1.3"/>
<line x1="54.90" y1="900.10" x2="247.05" y2="900.10" stroke="#000" stroke-width="1.3"/>
<line x1="62.40" y1="900.10" x2="62.40" y2="906.60" stroke="#000" stroke-width="1.3"/>
<line x1="93.00" y1="900.10" x2="93.00" y2="906.60" stroke="#000" stroke-width="1.3"/>
<line x1="122.90" y1="900.10" x2="122.90" y2="906.60" stroke="#000" stroke-width="1.3"/>
<line x1="153.80" y1="900.10" x2="153.80" y2="906.60" stroke="#000" stroke-width="1.3"/>
<line x1="184.90" y1="900.10" x2="184.90" y2="906.60" stroke="#000" stroke-width="1.3"/>
<line x1="215.40" y1="900.10" x2="215.40" y2="906.60" stroke="#000" stroke-width="1.3"/>
<line x1="246.40" y1="900.10" x2="246.40" y2="906.60" stroke="#000" stroke-width="1.3"/>
<line x1="54.90" y1="900.10" x2="62.40" y2="900.10" stroke="#000" stroke-width="1.3"/>
<text x="52.20" y="903.60" font-size="11" text-anchor="end" font-weight="normal">0</text>
<line x1="54.90" y1="863.74" x2="62.40" y2="863.74" stroke="#000" stroke-width="1.3"/>
<text x="52.20" y="867.24" font-size="11" text-anchor="end" font-weight="normal">40</text>
<line x1="54.90" y1="827.38" x2="62.40" y2="827.38" stroke="#000" stroke-width="1.3"/>
<text x="52.20" y="830.88" font-size="11" text-anchor="end" font-weight="normal">80</text>
<line x1="54.90" y1="791.02" x2="62.40" y2="791.02" stroke="#000" stroke-width="1.3"/>
<text x="52.20" y="794.52" font-size="11" text-anchor="end" font-weight="normal">120</text>
<line x1="54.90" y1="754.66" x2="62.40" y2="754.66" stroke="#000" stroke-width="1.3"/>
<text x="52.20" y="758.16" font-size="11" text-anchor="end" font-weight="normal">160</text>
<text x="25.40" y="826.50" font-size="11.5" text-anchor="middle" font-weight="normal" transform="rotate(-90 25.40 826.50)">TNF-α (pg ml<tspan dy="-3.6" font-size="6.5">-1</tspan><tspan dy="3.6">)</tspan></text>
<rect x="96.10" y="754.21" width="8.90" height="145.89" fill="#000" stroke="none" stroke-width="0"/>
<line x1="100.95" y1="754.21" x2="100.95" y2="741.30" stroke="#000" stroke-width="1.2"/>
<line x1="96.15" y1="741.30" x2="105.35" y2="741.30" stroke="#000" stroke-width="1.3"/>
<rect x="125.90" y="816.47" width="8.90" height="83.63" fill="#000" stroke="none" stroke-width="0"/>
<line x1="130.75" y1="816.47" x2="130.75" y2="795.02" stroke="#000" stroke-width="1.2"/>
<line x1="125.95" y1="795.02" x2="135.15" y2="795.02" stroke="#000" stroke-width="1.3"/>
<line x1="134.30" y1="838.47" x2="135.80" y2="838.47" stroke="#000" stroke-width="1.2"/>
<rect x="157.10" y="762.02" width="8.90" height="138.08" fill="#000" stroke="none" stroke-width="0"/>
<line x1="161.95" y1="762.02" x2="161.95" y2="753.02" stroke="#000" stroke-width="1.2"/>
<line x1="157.15" y1="753.02" x2="166.35" y2="753.02" stroke="#000" stroke-width="1.3"/>
<line x1="165.50" y1="771.02" x2="167.00" y2="771.02" stroke="#000" stroke-width="1.2"/>
<rect x="187.90" y="863.74" width="7.30" height="36.36" fill="#000" stroke="none" stroke-width="0"/>
<line x1="192.10" y1="863.74" x2="192.10" y2="863.56" stroke="#000" stroke-width="1.2"/>
<line x1="187.50" y1="863.56" x2="196.70" y2="863.56" stroke="#000" stroke-width="1.3"/>
<rect x="217.70" y="806.29" width="8.90" height="93.81" fill="#000" stroke="none" stroke-width="0"/>
<line x1="222.55" y1="806.29" x2="222.55" y2="798.02" stroke="#000" stroke-width="1.2"/>
<line x1="217.75" y1="798.02" x2="226.95" y2="798.02" stroke="#000" stroke-width="1.3"/>
<line x1="226.10" y1="814.20" x2="227.60" y2="814.20" stroke="#000" stroke-width="1.2"/>
<rect x="234.00" y="875.51" width="7.50" height="24.59" fill="#c8c8c8" stroke="#000" stroke-width="1.0"/>
<line x1="238.15" y1="875.01" x2="238.15" y2="867.01" stroke="#000" stroke-width="1.2"/>
<line x1="233.35" y1="867.01" x2="242.55" y2="867.01" stroke="#000" stroke-width="1.3"/>
<line x1="238.15" y1="875.01" x2="238.15" y2="882.01" stroke="#000" stroke-width="1.2"/>
<line x1="233.35" y1="882.01" x2="242.55" y2="882.01" stroke="#000" stroke-width="1.3"/>
<rect x="65.50" y="899.15" width="24.60" height="1.90" fill="#000" stroke="none" stroke-width="0"/>
<text x="83.00" y="910.70" font-size="11" text-anchor="end" font-weight="normal" transform="rotate(-45 83.00 910.70)">medium</text>
<text x="113.25" y="910.70" font-size="11" text-anchor="end" font-weight="normal" transform="rotate(-45 113.25 910.70)">NK1.1</text>
<text x="143.65" y="910.70" font-size="11" text-anchor="end" font-weight="normal" transform="rotate(-45 143.65 910.70)">Ly49D</text>
<text x="174.65" y="910.70" font-size="11" text-anchor="end" font-weight="normal" transform="rotate(-45 174.65 910.70)">Ly49H</text>
<text x="205.45" y="910.70" font-size="11" text-anchor="end" font-weight="normal" transform="rotate(-45 205.45 910.70)">NKG2D</text>
<text x="236.20" y="910.70" font-size="11" text-anchor="end" font-weight="normal" transform="rotate(-45 236.20 910.70)">PMA/Iono</text>
<line x1="332.80" y1="900.75" x2="332.80" y2="752.20" stroke="#000" stroke-width="1.3"/>
<line x1="325.30" y1="900.10" x2="517.65" y2="900.10" stroke="#000" stroke-width="1.3"/>
<line x1="333.00" y1="900.10" x2="333.00" y2="906.60" stroke="#000" stroke-width="1.3"/>
<line x1="363.60" y1="900.10" x2="363.60" y2="906.60" stroke="#000" stroke-width="1.3"/>
<line x1="393.50" y1="900.10" x2="393.50" y2="906.60" stroke="#000" stroke-width="1.3"/>
<line x1="424.40" y1="900.10" x2="424.40" y2="906.60" stroke="#000" stroke-width="1.3"/>
<line x1="455.50" y1="900.10" x2="455.50" y2="906.60" stroke="#000" stroke-width="1.3"/>
<line x1="486.00" y1="900.10" x2="486.00" y2="906.60" stroke="#000" stroke-width="1.3"/>
<line x1="517.00" y1="900.10" x2="517.00" y2="906.60" stroke="#000" stroke-width="1.3"/>
<line x1="325.30" y1="900.10" x2="332.80" y2="900.10" stroke="#000" stroke-width="1.3"/>
<text x="322.60" y="903.60" font-size="11" text-anchor="end" font-weight="normal">0</text>
<line x1="325.30" y1="870.65" x2="332.80" y2="870.65" stroke="#000" stroke-width="1.3"/>
<text x="322.60" y="874.15" font-size="11" text-anchor="end" font-weight="normal">50</text>
<line x1="325.30" y1="841.20" x2="332.80" y2="841.20" stroke="#000" stroke-width="1.3"/>
<text x="322.60" y="844.70" font-size="11" text-anchor="end" font-weight="normal">100</text>
<line x1="325.30" y1="811.75" x2="332.80" y2="811.75" stroke="#000" stroke-width="1.3"/>
<text x="322.60" y="815.25" font-size="11" text-anchor="end" font-weight="normal">150</text>
<line x1="325.30" y1="782.30" x2="332.80" y2="782.30" stroke="#000" stroke-width="1.3"/>
<text x="322.60" y="785.80" font-size="11" text-anchor="end" font-weight="normal">200</text>
<line x1="325.30" y1="752.85" x2="332.80" y2="752.85" stroke="#000" stroke-width="1.3"/>
<text x="322.60" y="756.35" font-size="11" text-anchor="end" font-weight="normal">250</text>
<text x="296.00" y="823.20" font-size="11.5" text-anchor="middle" font-weight="normal" transform="rotate(-90 296.00 823.20)">MIP1-β (ng ml<tspan dy="-3.6" font-size="6.5">-1</tspan><tspan dy="3.6">)</tspan></text>
<rect x="366.70" y="761.69" width="8.90" height="138.41" fill="#000" stroke="none" stroke-width="0"/>
<line x1="371.55" y1="761.69" x2="371.55" y2="751.38" stroke="#000" stroke-width="1.2"/>
<line x1="366.75" y1="751.38" x2="375.95" y2="751.38" stroke="#000" stroke-width="1.3"/>
<rect x="376.10" y="885.88" width="6.70" height="14.23" fill="#fff" stroke="#000" stroke-width="1.0"/>
<line x1="379.85" y1="885.38" x2="379.85" y2="881.84" stroke="#000" stroke-width="1.2"/>
<line x1="375.05" y1="881.84" x2="384.25" y2="881.84" stroke="#000" stroke-width="1.3"/>
<line x1="379.85" y1="885.38" x2="379.85" y2="888.61" stroke="#000" stroke-width="1.2"/>
<line x1="375.05" y1="888.61" x2="384.25" y2="888.61" stroke="#000" stroke-width="1.3"/>
<rect x="383.80" y="895.89" width="7.20" height="4.21" fill="#c8c8c8" stroke="#000" stroke-width="1.0"/>
<line x1="387.80" y1="895.39" x2="387.80" y2="891.85" stroke="#000" stroke-width="1.2"/>
<line x1="383.00" y1="891.85" x2="392.20" y2="891.85" stroke="#000" stroke-width="1.3"/>
<line x1="387.80" y1="895.39" x2="387.80" y2="897.74" stroke="#000" stroke-width="1.2"/>
<line x1="383.00" y1="897.74" x2="392.20" y2="897.74" stroke="#000" stroke-width="1.3"/>
<rect x="396.50" y="867.71" width="8.90" height="32.39" fill="#000" stroke="none" stroke-width="0"/>
<line x1="401.35" y1="867.71" x2="401.35" y2="855.93" stroke="#000" stroke-width="1.2"/>
<line x1="396.55" y1="855.93" x2="405.75" y2="855.93" stroke="#000" stroke-width="1.3"/>
<line x1="404.90" y1="878.90" x2="406.40" y2="878.90" stroke="#000" stroke-width="1.2"/>
<rect x="405.90" y="898.24" width="6.90" height="1.86" fill="#fff" stroke="#000" stroke-width="1.0"/>
<line x1="409.75" y1="897.74" x2="409.75" y2="897.15" stroke="#000" stroke-width="1.2"/>
<line x1="404.95" y1="897.15" x2="414.15" y2="897.15" stroke="#000" stroke-width="1.3"/>
<rect x="413.80" y="897.65" width="7.20" height="2.45" fill="#c8c8c8" stroke="#000" stroke-width="1.0"/>
<line x1="417.80" y1="897.15" x2="417.80" y2="895.68" stroke="#000" stroke-width="1.2"/>
<line x1="413.00" y1="895.68" x2="422.20" y2="895.68" stroke="#000" stroke-width="1.3"/>
<rect x="427.70" y="891.68" width="8.90" height="8.42" fill="#000" stroke="none" stroke-width="0"/>
<line x1="432.55" y1="891.68" x2="432.55" y2="891.50" stroke="#000" stroke-width="1.2"/>
<line x1="427.75" y1="891.50" x2="436.95" y2="891.50" stroke="#000" stroke-width="1.3"/>
<rect x="437.10" y="899.13" width="6.70" height="0.97" fill="#fff" stroke="#000" stroke-width="1.0"/>
<rect x="444.80" y="900.01" width="7.20" height="0.09" fill="#c8c8c8" stroke="#000" stroke-width="1.0"/>
<rect x="458.50" y="887.44" width="7.30" height="12.66" fill="#000" stroke="none" stroke-width="0"/>
<line x1="462.70" y1="887.44" x2="462.70" y2="880.25" stroke="#000" stroke-width="1.2"/>
<line x1="458.10" y1="880.25" x2="467.30" y2="880.25" stroke="#000" stroke-width="1.3"/>
<line x1="465.30" y1="893.03" x2="467.30" y2="893.03" stroke="#000" stroke-width="1.2"/>
<rect x="466.30" y="897.65" width="6.70" height="2.45" fill="#fff" stroke="#000" stroke-width="1.0"/>
<line x1="470.05" y1="897.15" x2="470.05" y2="896.57" stroke="#000" stroke-width="1.2"/>
<line x1="465.25" y1="896.57" x2="474.45" y2="896.57" stroke="#000" stroke-width="1.3"/>
<rect x="474.00" y="899.13" width="7.20" height="0.97" fill="#c8c8c8" stroke="#000" stroke-width="1.0"/>
<line x1="478.00" y1="898.63" x2="478.00" y2="898.16" stroke="#000" stroke-width="1.2"/>
<line x1="473.20" y1="898.16" x2="482.40" y2="898.16" stroke="#000" stroke-width="1.3"/>
<rect x="488.30" y="751.67" width="8.90" height="148.43" fill="#000" stroke="none" stroke-width="0"/>
<line x1="493.15" y1="751.67" x2="493.15" y2="744.60" stroke="#000" stroke-width="1.2"/>
<line x1="488.35" y1="744.60" x2="497.55" y2="744.60" stroke="#000" stroke-width="1.3"/>
<line x1="496.70" y1="756.97" x2="498.20" y2="756.97" stroke="#000" stroke-width="1.2"/>
<rect x="497.70" y="883.75" width="5.90" height="16.35" fill="#fff" stroke="#000" stroke-width="1.0"/>
<line x1="501.05" y1="883.25" x2="501.05" y2="875.13" stroke="#000" stroke-width="1.2"/>
<line x1="496.25" y1="875.13" x2="505.45" y2="875.13" stroke="#000" stroke-width="1.3"/>
<line x1="501.05" y1="883.25" x2="501.05" y2="890.09" stroke="#000" stroke-width="1.2"/>
<line x1="496.25" y1="890.09" x2="505.45" y2="890.09" stroke="#000" stroke-width="1.3"/>
<rect x="504.60" y="879.16" width="7.50" height="20.94" fill="#c8c8c8" stroke="#000" stroke-width="1.0"/>
<line x1="508.75" y1="878.66" x2="508.75" y2="875.66" stroke="#000" stroke-width="1.2"/>
<line x1="503.95" y1="875.66" x2="513.15" y2="875.66" stroke="#000" stroke-width="1.3"/>
<line x1="508.75" y1="878.66" x2="508.75" y2="879.78" stroke="#000" stroke-width="1.2"/>
<line x1="503.95" y1="879.78" x2="513.15" y2="879.78" stroke="#000" stroke-width="1.3"/>
<rect x="336.10" y="899.15" width="24.60" height="1.90" fill="#000" stroke="none" stroke-width="0"/>
<text x="353.60" y="910.70" font-size="11" text-anchor="end" font-weight="normal" transform="rotate(-45 353.60 910.70)">medium</text>
<text x="383.85" y="910.70" font-size="11" text-anchor="end" font-weight="normal" transform="rotate(-45 383.85 910.70)">NK1.1</text>
<text x="414.25" y="910.70" font-size="11" text-anchor="end" font-weight="normal" transform="rotate(-45 414.25 910.70)">Ly49D</text>
<text x="445.25" y="910.70" font-size="11" text-anchor="end" font-weight="normal" transform="rotate(-45 445.25 910.70)">Ly49H</text>
<text x="476.05" y="910.70" font-size="11" text-anchor="end" font-weight="normal" transform="rotate(-45 476.05 910.70)">NKG2D</text>
<text x="506.80" y="910.70" font-size="11" text-anchor="end" font-weight="normal" transform="rotate(-45 506.80 910.70)">PMA/Iono</text>
</g>
<g id="panelC">
<text x="1.00" y="992.00" font-size="24" text-anchor="start" font-weight="bold">C</text>
<line x1="62.40" y1="1147.15" x2="62.40" y2="1079.40" stroke="#000" stroke-width="1.3"/>
<line x1="62.40" y1="1067.40" x2="62.40" y2="998.30" stroke="#000" stroke-width="1.3"/>
<line x1="59.70" y1="1071.50" x2="66.60" y2="1065.40" stroke="#000" stroke-width="1.2"/>
<line x1="59.70" y1="1080.40" x2="66.60" y2="1074.50" stroke="#000" stroke-width="1.2"/>
<line x1="54.90" y1="1146.50" x2="210.05" y2="1146.50" stroke="#000" stroke-width="1.3"/>
<line x1="62.40" y1="1146.50" x2="62.40" y2="1153.50" stroke="#000" stroke-width="1.3"/>
<line x1="98.60" y1="1146.50" x2="98.60" y2="1153.50" stroke="#000" stroke-width="1.3"/>
<line x1="135.60" y1="1146.50" x2="135.60" y2="1153.50" stroke="#000" stroke-width="1.3"/>
<line x1="172.50" y1="1146.50" x2="172.50" y2="1153.50" stroke="#000" stroke-width="1.3"/>
<line x1="209.40" y1="1146.50" x2="209.40" y2="1153.50" stroke="#000" stroke-width="1.3"/>
<line x1="54.90" y1="1146.50" x2="62.40" y2="1146.50" stroke="#000" stroke-width="1.3"/>
<text x="52.10" y="1151.00" font-size="11" text-anchor="end" font-weight="normal">0</text>
<line x1="54.90" y1="1120.00" x2="62.40" y2="1120.00" stroke="#000" stroke-width="1.3"/>
<text x="52.10" y="1124.50" font-size="11" text-anchor="end" font-weight="normal">0,05</text>
<line x1="54.90" y1="1093.50" x2="62.40" y2="1093.50" stroke="#000" stroke-width="1.3"/>
<text x="52.10" y="1098.00" font-size="11" text-anchor="end" font-weight="normal">0,1</text>
<line x1="54.90" y1="1046.90" x2="62.40" y2="1046.90" stroke="#000" stroke-width="1.3"/>
<text x="52.10" y="1051.50" font-size="11" text-anchor="end" font-weight="normal">3</text>
<line x1="54.90" y1="1022.90" x2="62.40" y2="1022.90" stroke="#000" stroke-width="1.3"/>
<text x="52.10" y="1027.50" font-size="11" text-anchor="end" font-weight="normal">4</text>
<line x1="54.90" y1="998.90" x2="62.40" y2="998.90" stroke="#000" stroke-width="1.3"/>
<text x="52.10" y="1003.50" font-size="11" text-anchor="end" font-weight="normal">5</text>
<text x="25.40" y="1073.60" font-size="11.5" text-anchor="middle" font-weight="normal" transform="rotate(-90 25.40 1073.60)">IFN-γ (µg ml<tspan dy="-3.6" font-size="6.5">-1</tspan><tspan dy="3.6">)</tspan></text>
<rect x="101.30" y="1137.91" width="8.30" height="9.09" fill="#000" stroke="none" stroke-width="0"/>
<line x1="105.85" y1="1137.91" x2="105.85" y2="1136.16" stroke="#000" stroke-width="1.2"/>
<line x1="101.50" y1="1136.16" x2="110.20" y2="1136.16" stroke="#000" stroke-width="1.3"/>
<rect x="109.60" y="1136.91" width="7.60" height="10.09" fill="#3c3c3c" stroke="none" stroke-width="0"/>
<rect x="110.00" y="1137.31" width="6.80" height="9.29" fill="none" stroke="#000" stroke-width="0.8"/>
<line x1="113.80" y1="1136.91" x2="113.80" y2="1136.11" stroke="#000" stroke-width="1.2"/>
<line x1="109.80" y1="1136.11" x2="117.80" y2="1136.11" stroke="#000" stroke-width="1.3"/>
<rect x="117.70" y="1142.39" width="5.80" height="4.11" fill="#fff" stroke="#000" stroke-width="1.0"/>
<rect x="124.50" y="1139.90" width="6.60" height="6.60" fill="#dcdcdc" stroke="#000" stroke-width="1.0"/>
<line x1="128.20" y1="1139.40" x2="128.20" y2="1138.39" stroke="#000" stroke-width="1.2"/>
<line x1="124.20" y1="1138.39" x2="132.20" y2="1138.39" stroke="#000" stroke-width="1.3"/>
<rect x="138.90" y="1116.13" width="8.30" height="30.87" fill="#000" stroke="none" stroke-width="0"/>
<line x1="143.45" y1="1116.13" x2="143.45" y2="1109.93" stroke="#000" stroke-width="1.2"/>
<line x1="139.10" y1="1109.93" x2="147.80" y2="1109.93" stroke="#000" stroke-width="1.3"/>
<rect x="147.20" y="1103.68" width="7.60" height="43.32" fill="#3c3c3c" stroke="none" stroke-width="0"/>
<rect x="147.60" y="1104.08" width="6.80" height="42.52" fill="none" stroke="#000" stroke-width="0.8"/>
<line x1="151.40" y1="1103.68" x2="151.40" y2="1086.13" stroke="#000" stroke-width="1.2"/>
<line x1="147.40" y1="1086.13" x2="155.40" y2="1086.13" stroke="#000" stroke-width="1.3"/>
<rect x="155.30" y="1110.43" width="5.80" height="36.07" fill="#fff" stroke="#000" stroke-width="1.0"/>
<line x1="158.60" y1="1109.93" x2="158.60" y2="1104.89" stroke="#000" stroke-width="1.2"/>
<line x1="155.00" y1="1104.89" x2="162.20" y2="1104.89" stroke="#000" stroke-width="1.3"/>
<line x1="158.60" y1="1109.93" x2="158.60" y2="1115.39" stroke="#000" stroke-width="1.2"/>
<line x1="155.00" y1="1115.39" x2="162.20" y2="1115.39" stroke="#000" stroke-width="1.3"/>
<rect x="162.10" y="1092.41" width="6.60" height="54.09" fill="#dcdcdc" stroke="#000" stroke-width="1.0"/>
<line x1="165.80" y1="1091.91" x2="165.80" y2="1087.88" stroke="#000" stroke-width="1.2"/>
<line x1="161.80" y1="1087.88" x2="169.80" y2="1087.88" stroke="#000" stroke-width="1.3"/>
<rect x="175.60" y="1077.50" width="8.30" height="69.50" fill="#000" stroke="none" stroke-width="0"/>
<rect x="175.60" y="1043.78" width="8.30" height="24.42" fill="#000" stroke="none" stroke-width="0"/>
<line x1="180.15" y1="1043.78" x2="180.15" y2="1034.90" stroke="#000" stroke-width="1.2"/>
<line x1="175.80" y1="1034.90" x2="184.50" y2="1034.90" stroke="#000" stroke-width="1.3"/>
<rect x="183.90" y="1077.50" width="7.60" height="69.50" fill="#3c3c3c" stroke="none" stroke-width="0"/>
<rect x="184.30" y="1077.90" width="6.80" height="68.70" fill="none" stroke="#000" stroke-width="0.8"/>
<rect x="183.90" y="1059.50" width="7.60" height="8.70" fill="#3c3c3c" stroke="none" stroke-width="0"/>
<rect x="184.30" y="1059.90" width="6.80" height="7.90" fill="none" stroke="#000" stroke-width="0.8"/>
<line x1="188.10" y1="1059.50" x2="188.10" y2="1056.26" stroke="#000" stroke-width="1.2"/>
<line x1="184.10" y1="1056.26" x2="192.10" y2="1056.26" stroke="#000" stroke-width="1.3"/>
<rect x="192.00" y="1078.00" width="5.80" height="68.50" fill="#fff" stroke="#000" stroke-width="1.0"/>
<rect x="192.00" y="1047.40" width="5.80" height="20.30" fill="#fff" stroke="#000" stroke-width="1.0"/>
<line x1="195.30" y1="1046.90" x2="195.30" y2="1031.30" stroke="#000" stroke-width="1.2"/>
<line x1="191.70" y1="1031.30" x2="198.90" y2="1031.30" stroke="#000" stroke-width="1.3"/>
<rect x="198.80" y="1078.00" width="6.60" height="68.50" fill="#dcdcdc" stroke="#000" stroke-width="1.0"/>
<rect x="198.80" y="1013.56" width="6.60" height="54.14" fill="#dcdcdc" stroke="#000" stroke-width="1.0"/>
<line x1="202.50" y1="1013.06" x2="202.50" y2="1002.50" stroke="#000" stroke-width="1.2"/>
<line x1="198.50" y1="1002.50" x2="206.50" y2="1002.50" stroke="#000" stroke-width="1.3"/>
<text x="87.80" y="1156.70" font-size="11.5" text-anchor="end" font-weight="normal" transform="rotate(-45 87.80 1156.70)">medium</text>
<text x="124.40" y="1156.70" font-size="11.5" text-anchor="end" font-weight="normal" transform="rotate(-45 124.40 1156.70)">IL-12</text>
<text x="161.35" y="1156.70" font-size="11.5" text-anchor="end" font-weight="normal" transform="rotate(-45 161.35 1156.70)">IL-18</text>
<text x="193.45" y="1161.50" font-size="11.5" text-anchor="end" font-weight="normal" transform="rotate(-45 193.45 1161.50)">IL-12 + IL-18</text>
<rect x="70.20" y="999.40" width="13.80" height="13.30" fill="#000" stroke="none" stroke-width="0"/>
<text x="90.40" y="1009.70" font-size="11.5" text-anchor="start" font-weight="normal">wt 1</text>
<rect x="71.20" y="1022.30" width="11.80" height="11.30" fill="#3c3c3c" stroke="#000" stroke-width="2.0"/>
<text x="90.40" y="1031.85" font-size="11.5" text-anchor="start" font-weight="normal">wt 2</text>
<rect x="71.20" y="1044.20" width="11.80" height="11.30" fill="#fff" stroke="#000" stroke-width="2.0"/>
<text x="90.40" y="1054.00" font-size="11.5" text-anchor="start" font-weight="normal">Bcl10-/- 1</text>
<rect x="71.20" y="1066.10" width="11.80" height="11.30" fill="#dcdcdc" stroke="#000" stroke-width="2.0"/>
<text x="90.40" y="1076.15" font-size="11.5" text-anchor="start" font-weight="normal">Bcl10-/- 2</text>
<line x1="332.80" y1="1147.15" x2="332.80" y2="1079.40" stroke="#000" stroke-width="1.3"/>
<line x1="332.80" y1="1067.40" x2="332.80" y2="1000.20" stroke="#000" stroke-width="1.3"/>
<line x1="330.10" y1="1071.50" x2="337.00" y2="1065.40" stroke="#000" stroke-width="1.2"/>
<line x1="330.10" y1="1080.40" x2="337.00" y2="1074.50" stroke="#000" stroke-width="1.2"/>
<line x1="325.30" y1="1146.50" x2="480.45" y2="1146.50" stroke="#000" stroke-width="1.3"/>
<line x1="332.80" y1="1146.50" x2="332.80" y2="1153.50" stroke="#000" stroke-width="1.3"/>
<line x1="369.00" y1="1146.50" x2="369.00" y2="1153.50" stroke="#000" stroke-width="1.3"/>
<line x1="406.00" y1="1146.50" x2="406.00" y2="1153.50" stroke="#000" stroke-width="1.3"/>
<line x1="442.90" y1="1146.50" x2="442.90" y2="1153.50" stroke="#000" stroke-width="1.3"/>
<line x1="479.80" y1="1146.50" x2="479.80" y2="1153.50" stroke="#000" stroke-width="1.3"/>
<line x1="325.30" y1="1146.50" x2="332.80" y2="1146.50" stroke="#000" stroke-width="1.3"/>
<text x="322.50" y="1151.00" font-size="11" text-anchor="end" font-weight="normal">0</text>
<line x1="325.30" y1="1114.70" x2="332.80" y2="1114.70" stroke="#000" stroke-width="1.3"/>
<text x="322.50" y="1119.20" font-size="11" text-anchor="end" font-weight="normal">0,1</text>
<line x1="325.30" y1="1082.90" x2="332.80" y2="1082.90" stroke="#000" stroke-width="1.3"/>
<text x="322.50" y="1087.40" font-size="11" text-anchor="end" font-weight="normal">0,2</text>
<line x1="325.30" y1="1046.90" x2="332.80" y2="1046.90" stroke="#000" stroke-width="1.3"/>
<text x="322.50" y="1051.50" font-size="11" text-anchor="end" font-weight="normal">2</text>
<line x1="325.30" y1="1014.70" x2="332.80" y2="1014.70" stroke="#000" stroke-width="1.3"/>
<text x="322.50" y="1019.30" font-size="11" text-anchor="end" font-weight="normal">4</text>
<text x="295.40" y="1067.40" font-size="11.5" text-anchor="middle" font-weight="normal" transform="rotate(-90 295.40 1067.40)">GM-CSF (ng ml<tspan dy="-3.6" font-size="6.5">-1</tspan><tspan dy="3.6">)</tspan></text>
<rect x="371.70" y="1112.89" width="8.30" height="34.11" fill="#000" stroke="none" stroke-width="0"/>
<line x1="376.25" y1="1112.89" x2="376.25" y2="1111.20" stroke="#000" stroke-width="1.2"/>
<line x1="371.90" y1="1111.20" x2="380.60" y2="1111.20" stroke="#000" stroke-width="1.3"/>
<rect x="380.00" y="1120.65" width="7.60" height="26.35" fill="#3c3c3c" stroke="none" stroke-width="0"/>
<rect x="380.40" y="1121.05" width="6.80" height="25.55" fill="none" stroke="#000" stroke-width="0.8"/>
<line x1="384.20" y1="1120.65" x2="384.20" y2="1119.15" stroke="#000" stroke-width="1.2"/>
<line x1="380.20" y1="1119.15" x2="388.20" y2="1119.15" stroke="#000" stroke-width="1.3"/>
<rect x="388.10" y="1115.39" width="5.80" height="31.11" fill="#fff" stroke="#000" stroke-width="1.0"/>
<line x1="391.40" y1="1114.89" x2="391.40" y2="1112.89" stroke="#000" stroke-width="1.2"/>
<line x1="387.80" y1="1112.89" x2="395.00" y2="1112.89" stroke="#000" stroke-width="1.3"/>
<rect x="394.90" y="1107.41" width="6.60" height="39.09" fill="#dcdcdc" stroke="#000" stroke-width="1.0"/>
<line x1="398.60" y1="1106.91" x2="398.60" y2="1103.67" stroke="#000" stroke-width="1.2"/>
<line x1="394.60" y1="1103.67" x2="402.60" y2="1103.67" stroke="#000" stroke-width="1.3"/>
<rect x="409.30" y="1077.50" width="8.30" height="69.50" fill="#000" stroke="none" stroke-width="0"/>
<rect x="409.30" y="1061.25" width="8.30" height="6.95" fill="#000" stroke="none" stroke-width="0"/>
<line x1="413.85" y1="1061.25" x2="413.85" y2="1058.75" stroke="#000" stroke-width="1.2"/>
<line x1="409.50" y1="1058.75" x2="418.20" y2="1058.75" stroke="#000" stroke-width="1.3"/>
<rect x="417.60" y="1077.50" width="7.60" height="69.50" fill="#3c3c3c" stroke="none" stroke-width="0"/>
<rect x="418.00" y="1077.90" width="6.80" height="68.70" fill="none" stroke="#000" stroke-width="0.8"/>
<rect x="417.60" y="1056.99" width="7.60" height="11.21" fill="#3c3c3c" stroke="none" stroke-width="0"/>
<rect x="418.00" y="1057.39" width="6.80" height="10.41" fill="none" stroke="#000" stroke-width="0.8"/>
<line x1="421.80" y1="1056.99" x2="421.80" y2="1052.00" stroke="#000" stroke-width="1.2"/>
<line x1="417.80" y1="1052.00" x2="425.80" y2="1052.00" stroke="#000" stroke-width="1.3"/>
<rect x="425.70" y="1078.00" width="5.80" height="68.50" fill="#fff" stroke="#000" stroke-width="1.0"/>
<rect x="425.70" y="1063.02" width="5.80" height="4.68" fill="#fff" stroke="#000" stroke-width="1.0"/>
<line x1="429.00" y1="1062.52" x2="429.00" y2="1060.75" stroke="#000" stroke-width="1.2"/>
<line x1="425.40" y1="1060.75" x2="432.60" y2="1060.75" stroke="#000" stroke-width="1.3"/>
<rect x="432.50" y="1078.00" width="6.60" height="68.50" fill="#dcdcdc" stroke="#000" stroke-width="1.0"/>
<rect x="432.50" y="1055.00" width="6.60" height="12.70" fill="#dcdcdc" stroke="#000" stroke-width="1.0"/>
<line x1="436.20" y1="1054.50" x2="436.20" y2="1050.76" stroke="#000" stroke-width="1.2"/>
<line x1="432.20" y1="1050.76" x2="440.20" y2="1050.76" stroke="#000" stroke-width="1.3"/>
<rect x="446.00" y="1077.50" width="8.30" height="69.50" fill="#000" stroke="none" stroke-width="0"/>
<rect x="446.00" y="1019.53" width="8.30" height="48.67" fill="#000" stroke="none" stroke-width="0"/>
<line x1="450.55" y1="1019.53" x2="450.55" y2="1003.00" stroke="#000" stroke-width="1.2"/>
<line x1="446.20" y1="1003.00" x2="454.90" y2="1003.00" stroke="#000" stroke-width="1.3"/>
<rect x="454.30" y="1077.50" width="7.60" height="69.50" fill="#3c3c3c" stroke="none" stroke-width="0"/>
<rect x="454.70" y="1077.90" width="6.80" height="68.70" fill="none" stroke="#000" stroke-width="0.8"/>
<rect x="454.30" y="1028.00" width="7.60" height="40.20" fill="#3c3c3c" stroke="none" stroke-width="0"/>
<rect x="454.70" y="1028.40" width="6.80" height="39.40" fill="none" stroke="#000" stroke-width="0.8"/>
<line x1="458.50" y1="1028.00" x2="458.50" y2="1025.49" stroke="#000" stroke-width="1.2"/>
<line x1="454.50" y1="1025.49" x2="462.50" y2="1025.49" stroke="#000" stroke-width="1.3"/>
<rect x="462.40" y="1078.00" width="5.80" height="68.50" fill="#fff" stroke="#000" stroke-width="1.0"/>
<rect x="462.40" y="1005.54" width="5.80" height="62.16" fill="#fff" stroke="#000" stroke-width="1.0"/>
<line x1="465.70" y1="1005.04" x2="465.70" y2="1004.88" stroke="#000" stroke-width="1.2"/>
<line x1="462.10" y1="1004.88" x2="469.30" y2="1004.88" stroke="#000" stroke-width="1.3"/>
<rect x="469.20" y="1078.00" width="6.60" height="68.50" fill="#dcdcdc" stroke="#000" stroke-width="1.0"/>
<rect x="469.20" y="1015.52" width="6.60" height="52.18" fill="#dcdcdc" stroke="#000" stroke-width="1.0"/>
<line x1="472.90" y1="1015.02" x2="472.90" y2="1008.26" stroke="#000" stroke-width="1.2"/>
<line x1="468.90" y1="1008.26" x2="476.90" y2="1008.26" stroke="#000" stroke-width="1.3"/>
<text x="358.20" y="1156.70" font-size="11.5" text-anchor="end" font-weight="normal" transform="rotate(-45 358.20 1156.70)">medium</text>
<text x="394.80" y="1156.70" font-size="11.5" text-anchor="end" font-weight="normal" transform="rotate(-45 394.80 1156.70)">IL-12</text>
<text x="431.75" y="1156.70" font-size="11.5" text-anchor="end" font-weight="normal" transform="rotate(-45 431.75 1156.70)">IL-18</text>
<text x="466.95" y="1157.90" font-size="11.5" text-anchor="end" font-weight="normal" transform="rotate(-45 466.95 1157.90)">IL-12 + IL-18</text>
</g>
</svg>
</body>
</html>
